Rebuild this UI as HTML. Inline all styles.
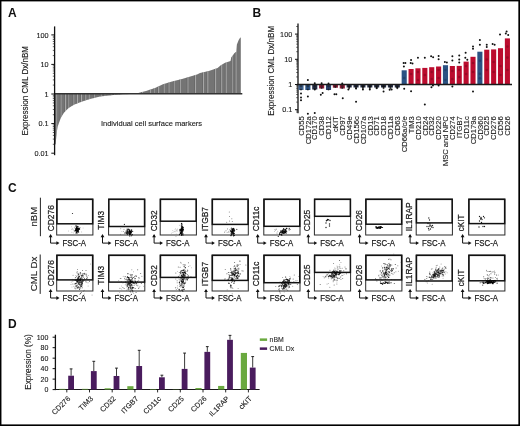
<!DOCTYPE html>
<html><head><meta charset="utf-8"><style>
html,body{margin:0;padding:0;background:#fff;}
body{width:520px;height:426px;overflow:hidden;position:relative;}
svg{position:absolute;left:0;top:0;font-family:"Liberation Sans", sans-serif;filter:blur(0.3px);}
text{stroke:#1a1a1a;stroke-width:0.12px;}
text.hv{stroke-width:0.25px;}
text.nb{stroke:none;}
</style></head><body>
<svg width="520" height="426" viewBox="0 0 520 426">
<rect x="0" y="0" width="520" height="426" fill="#fff"/>
<text x="8.00" y="17.20" font-size="12" text-anchor="start" font-weight="bold" fill="#111" class="nb">A</text>
<text x="252.60" y="17.20" font-size="12" text-anchor="start" font-weight="bold" fill="#111" class="nb">B</text>
<text x="8.00" y="192.40" font-size="12" text-anchor="start" font-weight="bold" fill="#111" class="nb">C</text>
<text x="8.00" y="327.60" font-size="12" text-anchor="start" font-weight="bold" fill="#111" class="nb">D</text>
<polygon points="55.0,93.8 55.0,144.5 55.6,144.2 56.3,136.5 57.0,130.8 57.7,126.6 58.7,123.8 60.6,118.2 64.1,112.5 68.3,108.3 73.9,104.8 79.6,102.4 85.2,100.6 90.0,98.9 100.0,96.6 113.5,95.0 123.0,94.2 130.0,93.9 130.0,93.8" fill="#747474"/>
<polygon points="135.0,93.8 136.0,93.8 140.0,92.5 146.0,91.0 155.0,88.0 163.0,84.3 172.0,81.5 182.0,79.0 197.0,74.5 200.0,72.9 208.8,71.1 217.6,68.1 220.2,65.8 224.6,62.9 230.5,61.1 231.3,57.6 234.3,53.2 236.3,51.8 236.9,44.4 238.7,40.0 240.1,37.7 240.8,37.5 240.8,93.8" fill="#747474"/>
<rect x="56.20" y="30" width="0.9" height="120" fill="#b8b8b8" opacity="0.68" clip-path="url(#clipA)"/>
<rect x="55.40" y="30" width="0.7" height="120" fill="#555" opacity="0.5" clip-path="url(#clipA)"/>
<rect x="60.56" y="30" width="0.9" height="120" fill="#b8b8b8" opacity="0.73" clip-path="url(#clipA)"/>
<rect x="59.76" y="30" width="0.7" height="120" fill="#555" opacity="0.5" clip-path="url(#clipA)"/>
<rect x="65.07" y="30" width="0.9" height="120" fill="#b8b8b8" opacity="0.82" clip-path="url(#clipA)"/>
<rect x="64.27" y="30" width="0.7" height="120" fill="#555" opacity="0.5" clip-path="url(#clipA)"/>
<rect x="68.23" y="30" width="0.9" height="120" fill="#b8b8b8" opacity="0.60" clip-path="url(#clipA)"/>
<rect x="67.43" y="30" width="0.7" height="120" fill="#555" opacity="0.5" clip-path="url(#clipA)"/>
<rect x="73.33" y="30" width="0.9" height="120" fill="#b8b8b8" opacity="0.69" clip-path="url(#clipA)"/>
<rect x="72.53" y="30" width="0.7" height="120" fill="#555" opacity="0.5" clip-path="url(#clipA)"/>
<rect x="76.91" y="30" width="0.9" height="120" fill="#b8b8b8" opacity="0.95" clip-path="url(#clipA)"/>
<rect x="76.11" y="30" width="0.7" height="120" fill="#555" opacity="0.5" clip-path="url(#clipA)"/>
<rect x="81.09" y="30" width="0.9" height="120" fill="#b8b8b8" opacity="0.89" clip-path="url(#clipA)"/>
<rect x="80.29" y="30" width="0.7" height="120" fill="#555" opacity="0.5" clip-path="url(#clipA)"/>
<rect x="85.28" y="30" width="0.9" height="120" fill="#b8b8b8" opacity="0.82" clip-path="url(#clipA)"/>
<rect x="84.48" y="30" width="0.7" height="120" fill="#555" opacity="0.5" clip-path="url(#clipA)"/>
<rect x="88.66" y="30" width="0.9" height="120" fill="#b8b8b8" opacity="0.82" clip-path="url(#clipA)"/>
<rect x="87.86" y="30" width="0.7" height="120" fill="#555" opacity="0.5" clip-path="url(#clipA)"/>
<rect x="93.83" y="30" width="0.9" height="120" fill="#b8b8b8" opacity="0.78" clip-path="url(#clipA)"/>
<rect x="93.03" y="30" width="0.7" height="120" fill="#555" opacity="0.5" clip-path="url(#clipA)"/>
<rect x="100.66" y="30" width="0.9" height="120" fill="#b8b8b8" opacity="0.83" clip-path="url(#clipA)"/>
<rect x="99.86" y="30" width="0.7" height="120" fill="#555" opacity="0.5" clip-path="url(#clipA)"/>
<rect x="104.45" y="30" width="0.9" height="120" fill="#b8b8b8" opacity="0.87" clip-path="url(#clipA)"/>
<rect x="103.65" y="30" width="0.7" height="120" fill="#555" opacity="0.5" clip-path="url(#clipA)"/>
<rect x="110.61" y="30" width="0.9" height="120" fill="#b8b8b8" opacity="0.71" clip-path="url(#clipA)"/>
<rect x="109.81" y="30" width="0.7" height="120" fill="#555" opacity="0.5" clip-path="url(#clipA)"/>
<rect x="114.25" y="30" width="0.9" height="120" fill="#b8b8b8" opacity="0.90" clip-path="url(#clipA)"/>
<rect x="113.45" y="30" width="0.7" height="120" fill="#555" opacity="0.5" clip-path="url(#clipA)"/>
<rect x="119.88" y="30" width="0.9" height="120" fill="#b8b8b8" opacity="0.85" clip-path="url(#clipA)"/>
<rect x="119.08" y="30" width="0.7" height="120" fill="#555" opacity="0.5" clip-path="url(#clipA)"/>
<rect x="127.33" y="30" width="0.9" height="120" fill="#b8b8b8" opacity="0.85" clip-path="url(#clipA)"/>
<rect x="126.53" y="30" width="0.7" height="120" fill="#555" opacity="0.5" clip-path="url(#clipA)"/>
<rect x="134.98" y="30" width="0.9" height="120" fill="#b8b8b8" opacity="0.74" clip-path="url(#clipA)"/>
<rect x="134.18" y="30" width="0.7" height="120" fill="#555" opacity="0.5" clip-path="url(#clipA)"/>
<rect x="142.08" y="30" width="0.9" height="120" fill="#b8b8b8" opacity="0.76" clip-path="url(#clipA)"/>
<rect x="141.28" y="30" width="0.7" height="120" fill="#555" opacity="0.5" clip-path="url(#clipA)"/>
<rect x="149.79" y="30" width="0.9" height="120" fill="#b8b8b8" opacity="0.91" clip-path="url(#clipA)"/>
<rect x="148.99" y="30" width="0.7" height="120" fill="#555" opacity="0.5" clip-path="url(#clipA)"/>
<rect x="153.73" y="30" width="0.9" height="120" fill="#b8b8b8" opacity="0.65" clip-path="url(#clipA)"/>
<rect x="152.93" y="30" width="0.7" height="120" fill="#555" opacity="0.5" clip-path="url(#clipA)"/>
<rect x="158.21" y="30" width="0.9" height="120" fill="#b8b8b8" opacity="0.94" clip-path="url(#clipA)"/>
<rect x="157.41" y="30" width="0.7" height="120" fill="#555" opacity="0.5" clip-path="url(#clipA)"/>
<rect x="163.67" y="30" width="0.9" height="120" fill="#b8b8b8" opacity="0.82" clip-path="url(#clipA)"/>
<rect x="162.87" y="30" width="0.7" height="120" fill="#555" opacity="0.5" clip-path="url(#clipA)"/>
<rect x="168.52" y="30" width="0.9" height="120" fill="#b8b8b8" opacity="0.78" clip-path="url(#clipA)"/>
<rect x="167.72" y="30" width="0.7" height="120" fill="#555" opacity="0.5" clip-path="url(#clipA)"/>
<rect x="173.76" y="30" width="0.9" height="120" fill="#b8b8b8" opacity="0.72" clip-path="url(#clipA)"/>
<rect x="172.96" y="30" width="0.7" height="120" fill="#555" opacity="0.5" clip-path="url(#clipA)"/>
<rect x="179.89" y="30" width="0.9" height="120" fill="#b8b8b8" opacity="0.80" clip-path="url(#clipA)"/>
<rect x="179.09" y="30" width="0.7" height="120" fill="#555" opacity="0.5" clip-path="url(#clipA)"/>
<rect x="187.46" y="30" width="0.9" height="120" fill="#b8b8b8" opacity="0.84" clip-path="url(#clipA)"/>
<rect x="186.66" y="30" width="0.7" height="120" fill="#555" opacity="0.5" clip-path="url(#clipA)"/>
<rect x="195.14" y="30" width="0.9" height="120" fill="#b8b8b8" opacity="0.90" clip-path="url(#clipA)"/>
<rect x="194.34" y="30" width="0.7" height="120" fill="#555" opacity="0.5" clip-path="url(#clipA)"/>
<rect x="203.10" y="30" width="0.9" height="120" fill="#b8b8b8" opacity="0.83" clip-path="url(#clipA)"/>
<rect x="202.30" y="30" width="0.7" height="120" fill="#555" opacity="0.5" clip-path="url(#clipA)"/>
<rect x="207.34" y="30" width="0.9" height="120" fill="#b8b8b8" opacity="0.90" clip-path="url(#clipA)"/>
<rect x="206.54" y="30" width="0.7" height="120" fill="#555" opacity="0.5" clip-path="url(#clipA)"/>
<rect x="215.18" y="30" width="0.9" height="120" fill="#b8b8b8" opacity="0.92" clip-path="url(#clipA)"/>
<rect x="214.38" y="30" width="0.7" height="120" fill="#555" opacity="0.5" clip-path="url(#clipA)"/>
<rect x="221.24" y="30" width="0.9" height="120" fill="#b8b8b8" opacity="0.85" clip-path="url(#clipA)"/>
<rect x="220.44" y="30" width="0.7" height="120" fill="#555" opacity="0.5" clip-path="url(#clipA)"/>
<rect x="225.69" y="30" width="0.9" height="120" fill="#b8b8b8" opacity="0.89" clip-path="url(#clipA)"/>
<rect x="224.89" y="30" width="0.7" height="120" fill="#555" opacity="0.5" clip-path="url(#clipA)"/>
<rect x="231.77" y="30" width="0.9" height="120" fill="#b8b8b8" opacity="0.70" clip-path="url(#clipA)"/>
<rect x="230.97" y="30" width="0.7" height="120" fill="#555" opacity="0.5" clip-path="url(#clipA)"/>
<rect x="235.55" y="30" width="0.9" height="120" fill="#b8b8b8" opacity="0.90" clip-path="url(#clipA)"/>
<rect x="234.75" y="30" width="0.7" height="120" fill="#555" opacity="0.5" clip-path="url(#clipA)"/>
<defs><clipPath id="clipA"><polygon points="55.0,93.8 55.0,144.5 55.6,144.2 56.3,136.5 57.0,130.8 57.7,126.6 58.7,123.8 60.6,118.2 64.1,112.5 68.3,108.3 73.9,104.8 79.6,102.4 85.2,100.6 90.0,98.9 100.0,96.6 113.5,95.0 123.0,94.2 130.0,93.9 130.0,93.8 135.0,93.8 136.0,93.8 140.0,92.5 146.0,91.0 155.0,88.0 163.0,84.3 172.0,81.5 182.0,79.0 197.0,74.5 200.0,72.9 208.8,71.1 217.6,68.1 220.2,65.8 224.6,62.9 230.5,61.1 231.3,57.6 234.3,53.2 236.3,51.8 236.9,44.4 238.7,40.0 240.1,37.7 240.8,37.5 240.8,93.8"/></clipPath></defs>
<line x1="54.00" y1="93.80" x2="242.30" y2="93.80" stroke="#333" stroke-width="1.5"/>
<line x1="54.60" y1="26.40" x2="54.60" y2="155.20" stroke="#111" stroke-width="1.3"/>
<line x1="51.30" y1="34.90" x2="54.60" y2="34.90" stroke="#111" stroke-width="1.0"/>
<line x1="51.30" y1="64.40" x2="54.60" y2="64.40" stroke="#111" stroke-width="1.0"/>
<line x1="51.30" y1="94.00" x2="54.60" y2="94.00" stroke="#111" stroke-width="1.0"/>
<line x1="51.30" y1="123.60" x2="54.60" y2="123.60" stroke="#111" stroke-width="1.0"/>
<line x1="51.30" y1="153.20" x2="54.60" y2="153.20" stroke="#111" stroke-width="1.0"/>
<line x1="52.80" y1="55.59" x2="54.60" y2="55.59" stroke="#222" stroke-width="0.7"/>
<line x1="52.80" y1="50.38" x2="54.60" y2="50.38" stroke="#222" stroke-width="0.7"/>
<line x1="52.80" y1="46.68" x2="54.60" y2="46.68" stroke="#222" stroke-width="0.7"/>
<line x1="52.80" y1="43.81" x2="54.60" y2="43.81" stroke="#222" stroke-width="0.7"/>
<line x1="52.80" y1="41.47" x2="54.60" y2="41.47" stroke="#222" stroke-width="0.7"/>
<line x1="52.80" y1="39.49" x2="54.60" y2="39.49" stroke="#222" stroke-width="0.7"/>
<line x1="52.80" y1="37.77" x2="54.60" y2="37.77" stroke="#222" stroke-width="0.7"/>
<line x1="52.80" y1="36.25" x2="54.60" y2="36.25" stroke="#222" stroke-width="0.7"/>
<line x1="52.80" y1="85.09" x2="54.60" y2="85.09" stroke="#222" stroke-width="0.7"/>
<line x1="52.80" y1="79.88" x2="54.60" y2="79.88" stroke="#222" stroke-width="0.7"/>
<line x1="52.80" y1="76.18" x2="54.60" y2="76.18" stroke="#222" stroke-width="0.7"/>
<line x1="52.80" y1="73.31" x2="54.60" y2="73.31" stroke="#222" stroke-width="0.7"/>
<line x1="52.80" y1="70.97" x2="54.60" y2="70.97" stroke="#222" stroke-width="0.7"/>
<line x1="52.80" y1="68.99" x2="54.60" y2="68.99" stroke="#222" stroke-width="0.7"/>
<line x1="52.80" y1="67.27" x2="54.60" y2="67.27" stroke="#222" stroke-width="0.7"/>
<line x1="52.80" y1="65.75" x2="54.60" y2="65.75" stroke="#222" stroke-width="0.7"/>
<line x1="52.80" y1="114.69" x2="54.60" y2="114.69" stroke="#222" stroke-width="0.7"/>
<line x1="52.80" y1="109.48" x2="54.60" y2="109.48" stroke="#222" stroke-width="0.7"/>
<line x1="52.80" y1="105.78" x2="54.60" y2="105.78" stroke="#222" stroke-width="0.7"/>
<line x1="52.80" y1="102.91" x2="54.60" y2="102.91" stroke="#222" stroke-width="0.7"/>
<line x1="52.80" y1="100.57" x2="54.60" y2="100.57" stroke="#222" stroke-width="0.7"/>
<line x1="52.80" y1="98.59" x2="54.60" y2="98.59" stroke="#222" stroke-width="0.7"/>
<line x1="52.80" y1="96.87" x2="54.60" y2="96.87" stroke="#222" stroke-width="0.7"/>
<line x1="52.80" y1="95.35" x2="54.60" y2="95.35" stroke="#222" stroke-width="0.7"/>
<line x1="52.80" y1="144.29" x2="54.60" y2="144.29" stroke="#222" stroke-width="0.7"/>
<line x1="52.80" y1="139.08" x2="54.60" y2="139.08" stroke="#222" stroke-width="0.7"/>
<line x1="52.80" y1="135.38" x2="54.60" y2="135.38" stroke="#222" stroke-width="0.7"/>
<line x1="52.80" y1="132.51" x2="54.60" y2="132.51" stroke="#222" stroke-width="0.7"/>
<line x1="52.80" y1="130.17" x2="54.60" y2="130.17" stroke="#222" stroke-width="0.7"/>
<line x1="52.80" y1="128.19" x2="54.60" y2="128.19" stroke="#222" stroke-width="0.7"/>
<line x1="52.80" y1="126.47" x2="54.60" y2="126.47" stroke="#222" stroke-width="0.7"/>
<line x1="52.80" y1="124.95" x2="54.60" y2="124.95" stroke="#222" stroke-width="0.7"/>
<text x="48.60" y="37.70" font-size="7.3" text-anchor="end" font-weight="normal" fill="#222">100</text>
<text x="48.60" y="67.20" font-size="7.3" text-anchor="end" font-weight="normal" fill="#222">10</text>
<text x="48.60" y="96.80" font-size="7.3" text-anchor="end" font-weight="normal" fill="#222">1</text>
<text x="48.60" y="126.40" font-size="7.3" text-anchor="end" font-weight="normal" fill="#222">0.1</text>
<text x="48.60" y="156.00" font-size="7.3" text-anchor="end" font-weight="normal" fill="#222">0.01</text>
<text transform="translate(27.80,90.70) rotate(-90)" font-size="9.6" text-anchor="middle" font-weight="normal" fill="#222" textLength="89.5" lengthAdjust="spacingAndGlyphs">Expression CML Dx/nBM</text>
<text x="151.50" y="126.00" font-size="8.1" text-anchor="middle" font-weight="normal" fill="#222" textLength="101.2" lengthAdjust="spacingAndGlyphs">Individual cell surface markers</text>
<line x1="298.00" y1="23.40" x2="298.00" y2="113.30" stroke="#111" stroke-width="1.3"/>
<line x1="295.00" y1="34.10" x2="298.00" y2="34.10" stroke="#111" stroke-width="1.0"/>
<line x1="295.00" y1="59.30" x2="298.00" y2="59.30" stroke="#111" stroke-width="1.0"/>
<line x1="295.00" y1="84.50" x2="298.00" y2="84.50" stroke="#111" stroke-width="1.0"/>
<line x1="295.00" y1="109.70" x2="298.00" y2="109.70" stroke="#111" stroke-width="1.0"/>
<line x1="296.20" y1="51.71" x2="298.00" y2="51.71" stroke="#222" stroke-width="0.7"/>
<line x1="296.20" y1="47.28" x2="298.00" y2="47.28" stroke="#222" stroke-width="0.7"/>
<line x1="296.20" y1="44.13" x2="298.00" y2="44.13" stroke="#222" stroke-width="0.7"/>
<line x1="296.20" y1="41.69" x2="298.00" y2="41.69" stroke="#222" stroke-width="0.7"/>
<line x1="296.20" y1="39.69" x2="298.00" y2="39.69" stroke="#222" stroke-width="0.7"/>
<line x1="296.20" y1="38.00" x2="298.00" y2="38.00" stroke="#222" stroke-width="0.7"/>
<line x1="296.20" y1="36.54" x2="298.00" y2="36.54" stroke="#222" stroke-width="0.7"/>
<line x1="296.20" y1="35.25" x2="298.00" y2="35.25" stroke="#222" stroke-width="0.7"/>
<line x1="296.20" y1="76.91" x2="298.00" y2="76.91" stroke="#222" stroke-width="0.7"/>
<line x1="296.20" y1="72.48" x2="298.00" y2="72.48" stroke="#222" stroke-width="0.7"/>
<line x1="296.20" y1="69.33" x2="298.00" y2="69.33" stroke="#222" stroke-width="0.7"/>
<line x1="296.20" y1="66.89" x2="298.00" y2="66.89" stroke="#222" stroke-width="0.7"/>
<line x1="296.20" y1="64.89" x2="298.00" y2="64.89" stroke="#222" stroke-width="0.7"/>
<line x1="296.20" y1="63.20" x2="298.00" y2="63.20" stroke="#222" stroke-width="0.7"/>
<line x1="296.20" y1="61.74" x2="298.00" y2="61.74" stroke="#222" stroke-width="0.7"/>
<line x1="296.20" y1="60.45" x2="298.00" y2="60.45" stroke="#222" stroke-width="0.7"/>
<line x1="296.20" y1="102.11" x2="298.00" y2="102.11" stroke="#222" stroke-width="0.7"/>
<line x1="296.20" y1="97.68" x2="298.00" y2="97.68" stroke="#222" stroke-width="0.7"/>
<line x1="296.20" y1="94.53" x2="298.00" y2="94.53" stroke="#222" stroke-width="0.7"/>
<line x1="296.20" y1="92.09" x2="298.00" y2="92.09" stroke="#222" stroke-width="0.7"/>
<line x1="296.20" y1="90.09" x2="298.00" y2="90.09" stroke="#222" stroke-width="0.7"/>
<line x1="296.20" y1="88.40" x2="298.00" y2="88.40" stroke="#222" stroke-width="0.7"/>
<line x1="296.20" y1="86.94" x2="298.00" y2="86.94" stroke="#222" stroke-width="0.7"/>
<line x1="296.20" y1="85.65" x2="298.00" y2="85.65" stroke="#222" stroke-width="0.7"/>
<line x1="296.20" y1="26.51" x2="298.00" y2="26.51" stroke="#222" stroke-width="0.7"/>
<line x1="296.20" y1="112.14" x2="298.00" y2="112.14" stroke="#222" stroke-width="0.7"/>
<line x1="296.20" y1="110.85" x2="298.00" y2="110.85" stroke="#222" stroke-width="0.7"/>
<text x="292.30" y="36.70" font-size="7.3" text-anchor="end" font-weight="normal" fill="#222">100</text>
<text x="292.30" y="61.90" font-size="7.3" text-anchor="end" font-weight="normal" fill="#222">10</text>
<text x="292.30" y="87.10" font-size="7.3" text-anchor="end" font-weight="normal" fill="#222">1</text>
<text x="292.30" y="112.30" font-size="7.3" text-anchor="end" font-weight="normal" fill="#222">0.1</text>
<text transform="translate(273.90,70.80) rotate(-90)" font-size="9.6" text-anchor="middle" font-weight="normal" fill="#222" textLength="89.8" lengthAdjust="spacingAndGlyphs">Expression CML Dx/nBM</text>
<rect x="298.45" y="84.50" width="5.10" height="5.50" fill="#3f6290"/>
<circle cx="301.00" cy="93.60" r="1.0" fill="#111"/>
<circle cx="301.00" cy="97.60" r="1.0" fill="#111"/>
<circle cx="301.00" cy="100.20" r="1.0" fill="#111"/>
<circle cx="301.00" cy="86.30" r="1.2" fill="#111" opacity="0.5"/>
<circle cx="301.00" cy="89.40" r="1.0" fill="#111" opacity="0.7"/>
<text transform="translate(303.70,116.30) rotate(-90)" font-size="7.6" text-anchor="end" font-weight="normal" fill="#222">CD55</text>
<rect x="305.33" y="84.50" width="5.10" height="5.50" fill="#2b5283"/>
<circle cx="307.88" cy="79.90" r="1.0" fill="#111"/>
<circle cx="307.88" cy="96.60" r="1.0" fill="#111"/>
<circle cx="307.88" cy="113.70" r="1.0" fill="#111"/>
<circle cx="307.88" cy="86.30" r="1.2" fill="#111" opacity="0.5"/>
<circle cx="307.88" cy="89.40" r="1.0" fill="#111" opacity="0.7"/>
<text transform="translate(310.58,116.30) rotate(-90)" font-size="7.6" text-anchor="end" font-weight="normal" fill="#222">CD172a</text>
<rect x="312.21" y="84.50" width="5.10" height="5.00" fill="#232c45"/>
<circle cx="314.76" cy="83.30" r="1.0" fill="#111"/>
<circle cx="314.76" cy="113.00" r="1.0" fill="#111"/>
<circle cx="314.76" cy="89.60" r="1.0" fill="#111"/>
<circle cx="314.76" cy="86.30" r="1.2" fill="#111" opacity="0.5"/>
<circle cx="314.76" cy="88.90" r="1.0" fill="#111" opacity="0.7"/>
<text transform="translate(317.46,116.30) rotate(-90)" font-size="7.6" text-anchor="end" font-weight="normal" fill="#222">CD170</text>
<rect x="319.09" y="84.50" width="5.10" height="4.00" fill="#951836"/>
<circle cx="320.84" cy="94.70" r="1.0" fill="#111"/>
<circle cx="322.64" cy="93.10" r="1.0" fill="#111"/>
<circle cx="321.64" cy="83.30" r="1.0" fill="#111"/>
<circle cx="321.64" cy="86.30" r="1.2" fill="#111" opacity="0.5"/>
<circle cx="321.64" cy="87.90" r="1.0" fill="#111" opacity="0.7"/>
<text transform="translate(324.34,116.30) rotate(-90)" font-size="7.6" text-anchor="end" font-weight="normal" fill="#222">CD38</text>
<rect x="325.97" y="84.50" width="5.10" height="5.50" fill="#2c426c"/>
<circle cx="328.52" cy="83.50" r="1.0" fill="#111"/>
<circle cx="328.52" cy="86.30" r="1.2" fill="#111" opacity="0.5"/>
<circle cx="328.52" cy="89.40" r="1.0" fill="#111" opacity="0.7"/>
<text transform="translate(331.22,116.30) rotate(-90)" font-size="7.6" text-anchor="end" font-weight="normal" fill="#222">CD112</text>
<rect x="332.85" y="84.50" width="5.10" height="3.20" fill="#8e1a36"/>
<circle cx="334.50" cy="94.30" r="1.0" fill="#111"/>
<circle cx="336.30" cy="94.30" r="1.0" fill="#111"/>
<circle cx="335.40" cy="86.30" r="1.2" fill="#111" opacity="0.5"/>
<circle cx="335.40" cy="87.10" r="1.0" fill="#111" opacity="0.7"/>
<text transform="translate(338.10,116.30) rotate(-90)" font-size="7.6" text-anchor="end" font-weight="normal" fill="#222">cKIT</text>
<rect x="339.73" y="84.50" width="5.10" height="4.00" fill="#8e1a36"/>
<circle cx="342.78" cy="98.30" r="1.0" fill="#111"/>
<circle cx="342.28" cy="83.50" r="1.0" fill="#111"/>
<circle cx="342.28" cy="86.30" r="1.2" fill="#111" opacity="0.5"/>
<circle cx="342.28" cy="87.90" r="1.0" fill="#111" opacity="0.7"/>
<text transform="translate(344.98,116.30) rotate(-90)" font-size="7.6" text-anchor="end" font-weight="normal" fill="#222">CD97</text>
<rect x="346.61" y="84.50" width="5.10" height="3.00" fill="#232c45"/>
<circle cx="348.36" cy="89.60" r="1.0" fill="#111"/>
<circle cx="349.16" cy="86.50" r="1.0" fill="#111"/>
<circle cx="349.16" cy="86.30" r="1.2" fill="#111" opacity="0.5"/>
<circle cx="349.16" cy="86.90" r="1.0" fill="#111" opacity="0.7"/>
<circle cx="349.16" cy="88.30" r="0.9" fill="#111" opacity="0.8"/>
<text transform="translate(351.86,116.30) rotate(-90)" font-size="7.6" text-anchor="end" font-weight="normal" fill="#222">CD49e</text>
<rect x="353.49" y="84.50" width="5.10" height="3.00" fill="#232c45"/>
<circle cx="356.04" cy="88.60" r="1.0" fill="#111"/>
<circle cx="356.04" cy="101.80" r="1.0" fill="#111"/>
<circle cx="356.04" cy="86.30" r="1.2" fill="#111" opacity="0.5"/>
<circle cx="356.04" cy="86.90" r="1.0" fill="#111" opacity="0.7"/>
<circle cx="356.04" cy="88.30" r="0.9" fill="#111" opacity="0.8"/>
<text transform="translate(358.74,116.30) rotate(-90)" font-size="7.6" text-anchor="end" font-weight="normal" fill="#222">CD156c</text>
<rect x="360.37" y="84.50" width="5.10" height="3.00" fill="#232c45"/>
<circle cx="362.92" cy="89.60" r="1.0" fill="#111"/>
<circle cx="362.92" cy="86.50" r="1.0" fill="#111"/>
<circle cx="362.92" cy="86.30" r="1.2" fill="#111" opacity="0.5"/>
<circle cx="362.92" cy="86.90" r="1.0" fill="#111" opacity="0.7"/>
<circle cx="362.92" cy="88.30" r="0.9" fill="#111" opacity="0.8"/>
<text transform="translate(365.62,116.30) rotate(-90)" font-size="7.6" text-anchor="end" font-weight="normal" fill="#222">CD107a</text>
<rect x="367.25" y="84.50" width="5.10" height="3.00" fill="#232c45"/>
<circle cx="369.80" cy="89.60" r="1.0" fill="#111"/>
<circle cx="369.80" cy="86.50" r="1.0" fill="#111"/>
<circle cx="369.80" cy="86.30" r="1.2" fill="#111" opacity="0.5"/>
<circle cx="369.80" cy="86.90" r="1.0" fill="#111" opacity="0.7"/>
<circle cx="369.80" cy="88.30" r="0.9" fill="#111" opacity="0.8"/>
<text transform="translate(372.50,116.30) rotate(-90)" font-size="7.6" text-anchor="end" font-weight="normal" fill="#222">CD13</text>
<rect x="374.13" y="84.50" width="5.10" height="3.00" fill="#232c45"/>
<circle cx="376.68" cy="88.00" r="1.0" fill="#111"/>
<circle cx="376.68" cy="86.30" r="1.2" fill="#111" opacity="0.5"/>
<circle cx="376.68" cy="86.90" r="1.0" fill="#111" opacity="0.7"/>
<circle cx="376.68" cy="88.30" r="0.9" fill="#111" opacity="0.8"/>
<text transform="translate(379.38,116.30) rotate(-90)" font-size="7.6" text-anchor="end" font-weight="normal" fill="#222">CD71</text>
<rect x="381.01" y="84.50" width="5.10" height="3.00" fill="#232c45"/>
<circle cx="383.56" cy="91.50" r="1.0" fill="#111"/>
<circle cx="383.56" cy="86.50" r="1.0" fill="#111"/>
<circle cx="383.56" cy="86.30" r="1.2" fill="#111" opacity="0.5"/>
<circle cx="383.56" cy="86.90" r="1.0" fill="#111" opacity="0.7"/>
<circle cx="383.56" cy="88.30" r="0.9" fill="#111" opacity="0.8"/>
<text transform="translate(386.26,116.30) rotate(-90)" font-size="7.6" text-anchor="end" font-weight="normal" fill="#222">CD18</text>
<rect x="387.89" y="84.50" width="5.10" height="3.00" fill="#232c45"/>
<circle cx="389.64" cy="89.80" r="1.0" fill="#111"/>
<circle cx="391.64" cy="89.40" r="1.0" fill="#111"/>
<circle cx="390.44" cy="86.30" r="1.2" fill="#111" opacity="0.5"/>
<circle cx="390.44" cy="86.90" r="1.0" fill="#111" opacity="0.7"/>
<circle cx="390.44" cy="88.30" r="0.9" fill="#111" opacity="0.8"/>
<text transform="translate(393.14,116.30) rotate(-90)" font-size="7.6" text-anchor="end" font-weight="normal" fill="#222">CD11a</text>
<rect x="394.77" y="84.50" width="5.10" height="3.00" fill="#232c45"/>
<circle cx="397.32" cy="87.50" r="1.0" fill="#111"/>
<circle cx="397.32" cy="86.30" r="1.2" fill="#111" opacity="0.5"/>
<circle cx="397.32" cy="86.90" r="1.0" fill="#111" opacity="0.7"/>
<circle cx="397.32" cy="88.30" r="0.9" fill="#111" opacity="0.8"/>
<text transform="translate(400.02,116.30) rotate(-90)" font-size="7.6" text-anchor="end" font-weight="normal" fill="#222">CD63</text>
<rect x="401.65" y="70.30" width="5.10" height="14.20" fill="#2b5283"/>
<circle cx="403.60" cy="63.00" r="1.0" fill="#111"/>
<circle cx="405.40" cy="63.00" r="1.0" fill="#111"/>
<circle cx="403.90" cy="66.60" r="1.0" fill="#111"/>
<circle cx="404.20" cy="88.70" r="1.0" fill="#111"/>
<text transform="translate(406.90,116.30) rotate(-90)" font-size="7.6" text-anchor="end" font-weight="normal" fill="#222">CD66a/c/e</text>
<rect x="408.53" y="69.00" width="5.10" height="15.50" fill="#bb0c2e"/>
<circle cx="411.08" cy="60.10" r="1.0" fill="#111"/>
<circle cx="410.68" cy="63.00" r="1.0" fill="#111"/>
<circle cx="412.48" cy="63.50" r="1.0" fill="#111"/>
<circle cx="411.08" cy="91.30" r="1.0" fill="#111"/>
<text transform="translate(413.78,116.30) rotate(-90)" font-size="7.6" text-anchor="end" font-weight="normal" fill="#222">TIM3</text>
<rect x="415.41" y="68.30" width="5.10" height="16.20" fill="#bb0c2e"/>
<circle cx="417.96" cy="57.70" r="1.0" fill="#111"/>
<text transform="translate(420.66,116.30) rotate(-90)" font-size="7.6" text-anchor="end" font-weight="normal" fill="#222">CD210</text>
<rect x="422.29" y="67.90" width="5.10" height="16.60" fill="#bb0c2e"/>
<circle cx="424.84" cy="57.70" r="1.0" fill="#111"/>
<circle cx="424.84" cy="104.60" r="1.0" fill="#111"/>
<text transform="translate(427.54,116.30) rotate(-90)" font-size="7.6" text-anchor="end" font-weight="normal" fill="#222">CD24</text>
<rect x="429.17" y="67.20" width="5.10" height="17.30" fill="#bb0c2e"/>
<circle cx="431.12" cy="56.30" r="1.0" fill="#111"/>
<circle cx="433.12" cy="57.30" r="1.0" fill="#111"/>
<circle cx="431.42" cy="87.30" r="1.0" fill="#111"/>
<circle cx="432.92" cy="85.50" r="1.0" fill="#111"/>
<text transform="translate(434.42,116.30) rotate(-90)" font-size="7.6" text-anchor="end" font-weight="normal" fill="#222">CD32</text>
<rect x="436.05" y="66.50" width="5.10" height="18.00" fill="#bb0c2e"/>
<circle cx="438.60" cy="55.90" r="1.0" fill="#111"/>
<circle cx="438.60" cy="59.20" r="1.0" fill="#111"/>
<circle cx="438.60" cy="85.50" r="1.0" fill="#111"/>
<text transform="translate(441.30,116.30) rotate(-90)" font-size="7.6" text-anchor="end" font-weight="normal" fill="#222">CD220</text>
<rect x="442.93" y="65.20" width="5.10" height="19.30" fill="#2b5283"/>
<circle cx="444.88" cy="62.00" r="1.0" fill="#111"/>
<circle cx="446.88" cy="62.50" r="1.0" fill="#111"/>
<text transform="translate(448.18,116.30) rotate(-90)" font-size="7.6" text-anchor="end" font-weight="normal" fill="#222">MSC and NPC</text>
<rect x="449.81" y="66.00" width="5.10" height="18.50" fill="#bb0c2e"/>
<circle cx="452.36" cy="56.20" r="1.0" fill="#111"/>
<circle cx="452.36" cy="60.40" r="1.0" fill="#111"/>
<circle cx="452.36" cy="86.60" r="1.0" fill="#111"/>
<text transform="translate(455.06,116.30) rotate(-90)" font-size="7.6" text-anchor="end" font-weight="normal" fill="#222">CD274</text>
<rect x="456.69" y="65.90" width="5.10" height="18.60" fill="#bb0c2e"/>
<circle cx="459.24" cy="55.50" r="1.0" fill="#111"/>
<circle cx="459.24" cy="59.40" r="1.0" fill="#111"/>
<circle cx="459.24" cy="62.40" r="1.0" fill="#111"/>
<text transform="translate(461.94,116.30) rotate(-90)" font-size="7.6" text-anchor="end" font-weight="normal" fill="#222">ITGB7</text>
<rect x="463.57" y="61.60" width="5.10" height="22.90" fill="#bb0c2e"/>
<circle cx="465.62" cy="52.80" r="1.0" fill="#111"/>
<circle cx="465.32" cy="57.80" r="1.0" fill="#111"/>
<circle cx="467.32" cy="59.80" r="1.0" fill="#111"/>
<text transform="translate(468.82,116.30) rotate(-90)" font-size="7.6" text-anchor="end" font-weight="normal" fill="#222">CD11c</text>
<rect x="470.45" y="56.80" width="5.10" height="27.70" fill="#bb0c2e"/>
<circle cx="473.00" cy="46.40" r="1.0" fill="#111"/>
<circle cx="473.00" cy="48.70" r="1.0" fill="#111"/>
<circle cx="473.00" cy="91.50" r="1.0" fill="#111"/>
<text transform="translate(475.70,116.30) rotate(-90)" font-size="7.6" text-anchor="end" font-weight="normal" fill="#222">CD179a</text>
<rect x="477.33" y="51.70" width="5.10" height="32.80" fill="#2b5283"/>
<circle cx="479.88" cy="40.00" r="1.0" fill="#111"/>
<circle cx="479.88" cy="44.80" r="1.0" fill="#111"/>
<text transform="translate(482.58,116.30) rotate(-90)" font-size="7.6" text-anchor="end" font-weight="normal" fill="#222">CD360</text>
<rect x="484.21" y="49.70" width="5.10" height="34.80" fill="#bb0c2e"/>
<circle cx="486.76" cy="44.80" r="1.0" fill="#111"/>
<circle cx="486.76" cy="47.10" r="1.0" fill="#111"/>
<text transform="translate(489.46,116.30) rotate(-90)" font-size="7.6" text-anchor="end" font-weight="normal" fill="#222">CD25</text>
<rect x="491.09" y="49.40" width="5.10" height="35.10" fill="#bb0c2e"/>
<circle cx="492.64" cy="44.00" r="1.0" fill="#111"/>
<circle cx="494.64" cy="44.80" r="1.0" fill="#111"/>
<text transform="translate(496.34,116.30) rotate(-90)" font-size="7.6" text-anchor="end" font-weight="normal" fill="#222">CD276</text>
<rect x="497.97" y="48.20" width="5.10" height="36.30" fill="#bb0c2e"/>
<circle cx="500.02" cy="34.60" r="1.0" fill="#111"/>
<text transform="translate(503.22,116.30) rotate(-90)" font-size="7.6" text-anchor="end" font-weight="normal" fill="#222">CD56</text>
<rect x="504.85" y="38.40" width="5.10" height="46.10" fill="#bb0c2e"/>
<circle cx="506.60" cy="31.40" r="1.0" fill="#111"/>
<circle cx="505.80" cy="33.40" r="1.0" fill="#111"/>
<circle cx="508.20" cy="34.90" r="1.0" fill="#111"/>
<text transform="translate(510.10,116.30) rotate(-90)" font-size="7.6" text-anchor="end" font-weight="normal" fill="#222">CD26</text>
<circle cx="404.20" cy="78.00" r="1.3" fill="#000" opacity="0.18"/>
<circle cx="411.08" cy="74.00" r="1.3" fill="#000" opacity="0.18"/>
<circle cx="417.96" cy="72.00" r="1.3" fill="#000" opacity="0.18"/>
<circle cx="417.96" cy="80.00" r="1.3" fill="#000" opacity="0.18"/>
<circle cx="424.84" cy="75.00" r="1.3" fill="#000" opacity="0.18"/>
<circle cx="431.72" cy="72.00" r="1.3" fill="#000" opacity="0.18"/>
<circle cx="431.72" cy="79.00" r="1.3" fill="#000" opacity="0.18"/>
<circle cx="438.60" cy="70.00" r="1.3" fill="#000" opacity="0.18"/>
<circle cx="438.60" cy="78.00" r="1.3" fill="#000" opacity="0.18"/>
<circle cx="445.48" cy="70.00" r="1.3" fill="#000" opacity="0.18"/>
<circle cx="445.48" cy="80.00" r="1.3" fill="#000" opacity="0.18"/>
<circle cx="452.36" cy="71.00" r="1.3" fill="#000" opacity="0.18"/>
<circle cx="452.36" cy="79.00" r="1.3" fill="#000" opacity="0.18"/>
<circle cx="459.24" cy="70.00" r="1.3" fill="#000" opacity="0.18"/>
<circle cx="459.24" cy="77.00" r="1.3" fill="#000" opacity="0.18"/>
<circle cx="466.12" cy="66.00" r="1.3" fill="#000" opacity="0.18"/>
<circle cx="466.12" cy="74.00" r="1.3" fill="#000" opacity="0.18"/>
<circle cx="473.00" cy="63.00" r="1.3" fill="#000" opacity="0.18"/>
<circle cx="473.00" cy="72.00" r="1.3" fill="#000" opacity="0.18"/>
<circle cx="479.88" cy="60.80" r="1.3" fill="#000" opacity="0.18"/>
<circle cx="479.88" cy="73.70" r="1.3" fill="#000" opacity="0.18"/>
<circle cx="479.88" cy="78.20" r="1.3" fill="#000" opacity="0.18"/>
<circle cx="486.76" cy="59.50" r="1.3" fill="#000" opacity="0.18"/>
<circle cx="486.76" cy="70.00" r="1.3" fill="#000" opacity="0.18"/>
<circle cx="493.64" cy="62.00" r="1.3" fill="#000" opacity="0.18"/>
<circle cx="493.64" cy="72.00" r="1.3" fill="#000" opacity="0.18"/>
<circle cx="500.52" cy="66.00" r="1.3" fill="#000" opacity="0.18"/>
<circle cx="500.52" cy="75.00" r="1.3" fill="#000" opacity="0.18"/>
<circle cx="507.40" cy="46.60" r="1.3" fill="#000" opacity="0.18"/>
<circle cx="507.40" cy="57.60" r="1.3" fill="#000" opacity="0.18"/>
<circle cx="507.40" cy="70.00" r="1.3" fill="#000" opacity="0.18"/>
<line x1="297.00" y1="84.50" x2="512.00" y2="84.50" stroke="#1a1a1a" stroke-width="1.3"/>
<rect x="56.70" y="199.10" width="36.20" height="35.90" fill="none" stroke="#2a2a2a" stroke-width="1.0"/>
<rect x="56.95" y="199.35" width="35.70" height="24.45" fill="none" stroke="#111" stroke-width="1.5"/>
<text transform="translate(53.70,231.30) rotate(-90)" font-size="9.6" text-anchor="start" font-weight="normal" fill="#222" textLength="26.1" lengthAdjust="spacingAndGlyphs" class="hv">CD276</text>
<path d="M50.60,235.10 L50.60,243.10 L57.20,243.10" fill="none" stroke="#111" stroke-width="1.0"/>
<path d="M48.70,237.20 L50.60,234.00 L52.50,237.20 Z" fill="#111"/>
<path d="M56.40,241.20 L59.50,243.10 L56.40,245.00 Z" fill="#111"/>
<text x="62.60" y="245.90" font-size="9.6" text-anchor="start" font-weight="normal" fill="#222" textLength="23.4" lengthAdjust="spacingAndGlyphs" class="hv">FSC-A</text>
<rect x="108.60" y="199.10" width="36.20" height="35.90" fill="none" stroke="#2a2a2a" stroke-width="1.0"/>
<rect x="108.85" y="199.35" width="35.70" height="27.15" fill="none" stroke="#111" stroke-width="1.5"/>
<text transform="translate(103.60,229.80) rotate(-90)" font-size="9.6" text-anchor="start" font-weight="normal" fill="#222" textLength="18.9" lengthAdjust="spacingAndGlyphs" class="hv">TIM3</text>
<path d="M102.50,235.10 L102.50,243.10 L109.10,243.10" fill="none" stroke="#111" stroke-width="1.0"/>
<path d="M100.60,237.20 L102.50,234.00 L104.40,237.20 Z" fill="#111"/>
<path d="M108.30,241.20 L111.40,243.10 L108.30,245.00 Z" fill="#111"/>
<text x="114.50" y="245.90" font-size="9.6" text-anchor="start" font-weight="normal" fill="#222" textLength="23.4" lengthAdjust="spacingAndGlyphs" class="hv">FSC-A</text>
<rect x="160.20" y="199.10" width="36.20" height="35.90" fill="none" stroke="#2a2a2a" stroke-width="1.0"/>
<rect x="160.45" y="199.35" width="35.70" height="21.85" fill="none" stroke="#111" stroke-width="1.5"/>
<text transform="translate(156.70,231.30) rotate(-90)" font-size="9.6" text-anchor="start" font-weight="normal" fill="#222" textLength="20.9" lengthAdjust="spacingAndGlyphs" class="hv">CD32</text>
<path d="M154.10,235.10 L154.10,243.10 L160.70,243.10" fill="none" stroke="#111" stroke-width="1.0"/>
<path d="M152.20,237.20 L154.10,234.00 L156.00,237.20 Z" fill="#111"/>
<path d="M159.90,241.20 L163.00,243.10 L159.90,245.00 Z" fill="#111"/>
<text x="166.10" y="245.90" font-size="9.6" text-anchor="start" font-weight="normal" fill="#222" textLength="23.4" lengthAdjust="spacingAndGlyphs" class="hv">FSC-A</text>
<rect x="212.10" y="199.10" width="36.20" height="35.90" fill="none" stroke="#2a2a2a" stroke-width="1.0"/>
<rect x="212.35" y="199.35" width="35.70" height="25.05" fill="none" stroke="#111" stroke-width="1.5"/>
<text transform="translate(208.00,231.30) rotate(-90)" font-size="9.6" text-anchor="start" font-weight="normal" fill="#222" textLength="24.3" lengthAdjust="spacingAndGlyphs" class="hv">ITGB7</text>
<path d="M206.00,235.10 L206.00,243.10 L212.60,243.10" fill="none" stroke="#111" stroke-width="1.0"/>
<path d="M204.10,237.20 L206.00,234.00 L207.90,237.20 Z" fill="#111"/>
<path d="M211.80,241.20 L214.90,243.10 L211.80,245.00 Z" fill="#111"/>
<text x="218.00" y="245.90" font-size="9.6" text-anchor="start" font-weight="normal" fill="#222" textLength="23.4" lengthAdjust="spacingAndGlyphs" class="hv">FSC-A</text>
<rect x="263.80" y="199.10" width="36.20" height="35.90" fill="none" stroke="#2a2a2a" stroke-width="1.0"/>
<rect x="264.05" y="199.35" width="35.70" height="26.95" fill="none" stroke="#111" stroke-width="1.5"/>
<text transform="translate(259.20,231.30) rotate(-90)" font-size="9.6" text-anchor="start" font-weight="normal" fill="#222" textLength="24.7" lengthAdjust="spacingAndGlyphs" class="hv">CD11c</text>
<path d="M257.70,235.10 L257.70,243.10 L264.30,243.10" fill="none" stroke="#111" stroke-width="1.0"/>
<path d="M255.80,237.20 L257.70,234.00 L259.60,237.20 Z" fill="#111"/>
<path d="M263.50,241.20 L266.60,243.10 L263.50,245.00 Z" fill="#111"/>
<text x="269.70" y="245.90" font-size="9.6" text-anchor="start" font-weight="normal" fill="#222" textLength="23.4" lengthAdjust="spacingAndGlyphs" class="hv">FSC-A</text>
<rect x="314.40" y="199.10" width="36.20" height="35.90" fill="none" stroke="#2a2a2a" stroke-width="1.0"/>
<rect x="314.65" y="199.35" width="35.70" height="16.95" fill="none" stroke="#111" stroke-width="1.5"/>
<text transform="translate(310.20,231.30) rotate(-90)" font-size="9.6" text-anchor="start" font-weight="normal" fill="#222" textLength="21.6" lengthAdjust="spacingAndGlyphs" class="hv">CD25</text>
<path d="M308.30,235.10 L308.30,243.10 L314.90,243.10" fill="none" stroke="#111" stroke-width="1.0"/>
<path d="M306.40,237.20 L308.30,234.00 L310.20,237.20 Z" fill="#111"/>
<path d="M314.10,241.20 L317.20,243.10 L314.10,245.00 Z" fill="#111"/>
<text x="320.30" y="245.90" font-size="9.6" text-anchor="start" font-weight="normal" fill="#222" textLength="23.4" lengthAdjust="spacingAndGlyphs" class="hv">FSC-A</text>
<rect x="365.70" y="199.10" width="36.20" height="35.90" fill="none" stroke="#2a2a2a" stroke-width="1.0"/>
<rect x="365.95" y="199.35" width="35.70" height="24.85" fill="none" stroke="#111" stroke-width="1.5"/>
<text transform="translate(361.50,231.30) rotate(-90)" font-size="9.6" text-anchor="start" font-weight="normal" fill="#222" textLength="21.2" lengthAdjust="spacingAndGlyphs" class="hv">CD26</text>
<path d="M359.60,235.10 L359.60,243.10 L366.20,243.10" fill="none" stroke="#111" stroke-width="1.0"/>
<path d="M357.70,237.20 L359.60,234.00 L361.50,237.20 Z" fill="#111"/>
<path d="M365.40,241.20 L368.50,243.10 L365.40,245.00 Z" fill="#111"/>
<text x="371.60" y="245.90" font-size="9.6" text-anchor="start" font-weight="normal" fill="#222" textLength="23.4" lengthAdjust="spacingAndGlyphs" class="hv">FSC-A</text>
<rect x="416.20" y="199.10" width="36.20" height="35.90" fill="none" stroke="#2a2a2a" stroke-width="1.0"/>
<rect x="416.45" y="199.35" width="35.70" height="23.55" fill="none" stroke="#111" stroke-width="1.5"/>
<text transform="translate(412.30,231.30) rotate(-90)" font-size="9.6" text-anchor="start" font-weight="normal" fill="#222" textLength="29.0" lengthAdjust="spacingAndGlyphs" class="hv">IL1RAP</text>
<path d="M410.10,235.10 L410.10,243.10 L416.70,243.10" fill="none" stroke="#111" stroke-width="1.0"/>
<path d="M408.20,237.20 L410.10,234.00 L412.00,237.20 Z" fill="#111"/>
<path d="M415.90,241.20 L419.00,243.10 L415.90,245.00 Z" fill="#111"/>
<text x="422.10" y="245.90" font-size="9.6" text-anchor="start" font-weight="normal" fill="#222" textLength="23.4" lengthAdjust="spacingAndGlyphs" class="hv">FSC-A</text>
<rect x="468.70" y="199.10" width="36.20" height="35.90" fill="none" stroke="#2a2a2a" stroke-width="1.0"/>
<rect x="468.95" y="199.35" width="35.70" height="24.25" fill="none" stroke="#111" stroke-width="1.5"/>
<text transform="translate(464.20,231.30) rotate(-90)" font-size="9.6" text-anchor="start" font-weight="normal" fill="#222" textLength="16.7" lengthAdjust="spacingAndGlyphs" class="hv">cKIT</text>
<path d="M462.60,235.10 L462.60,243.10 L469.20,243.10" fill="none" stroke="#111" stroke-width="1.0"/>
<path d="M460.70,237.20 L462.60,234.00 L464.50,237.20 Z" fill="#111"/>
<path d="M468.40,241.20 L471.50,243.10 L468.40,245.00 Z" fill="#111"/>
<text x="474.60" y="245.90" font-size="9.6" text-anchor="start" font-weight="normal" fill="#222" textLength="23.4" lengthAdjust="spacingAndGlyphs" class="hv">FSC-A</text>
<rect x="56.70" y="255.10" width="36.20" height="35.90" fill="none" stroke="#2a2a2a" stroke-width="1.0"/>
<rect x="56.95" y="255.35" width="35.70" height="24.55" fill="none" stroke="#111" stroke-width="1.5"/>
<text transform="translate(53.70,286.20) rotate(-90)" font-size="9.6" text-anchor="start" font-weight="normal" fill="#222" textLength="26.1" lengthAdjust="spacingAndGlyphs" class="hv">CD276</text>
<path d="M50.60,290.00 L50.60,298.00 L57.20,298.00" fill="none" stroke="#111" stroke-width="1.0"/>
<path d="M48.70,292.10 L50.60,288.90 L52.50,292.10 Z" fill="#111"/>
<path d="M56.40,296.10 L59.50,298.00 L56.40,299.90 Z" fill="#111"/>
<text x="62.60" y="300.80" font-size="9.6" text-anchor="start" font-weight="normal" fill="#222" textLength="23.4" lengthAdjust="spacingAndGlyphs" class="hv">FSC-A</text>
<rect x="108.60" y="255.10" width="36.20" height="35.90" fill="none" stroke="#2a2a2a" stroke-width="1.0"/>
<rect x="108.85" y="255.35" width="35.70" height="26.75" fill="none" stroke="#111" stroke-width="1.5"/>
<text transform="translate(103.60,284.70) rotate(-90)" font-size="9.6" text-anchor="start" font-weight="normal" fill="#222" textLength="18.9" lengthAdjust="spacingAndGlyphs" class="hv">TIM3</text>
<path d="M102.50,290.00 L102.50,298.00 L109.10,298.00" fill="none" stroke="#111" stroke-width="1.0"/>
<path d="M100.60,292.10 L102.50,288.90 L104.40,292.10 Z" fill="#111"/>
<path d="M108.30,296.10 L111.40,298.00 L108.30,299.90 Z" fill="#111"/>
<text x="114.50" y="300.80" font-size="9.6" text-anchor="start" font-weight="normal" fill="#222" textLength="23.4" lengthAdjust="spacingAndGlyphs" class="hv">FSC-A</text>
<rect x="160.20" y="255.10" width="36.20" height="35.90" fill="none" stroke="#2a2a2a" stroke-width="1.0"/>
<rect x="160.45" y="255.35" width="35.70" height="22.05" fill="none" stroke="#111" stroke-width="1.5"/>
<text transform="translate(156.70,286.20) rotate(-90)" font-size="9.6" text-anchor="start" font-weight="normal" fill="#222" textLength="20.9" lengthAdjust="spacingAndGlyphs" class="hv">CD32</text>
<path d="M154.10,290.00 L154.10,298.00 L160.70,298.00" fill="none" stroke="#111" stroke-width="1.0"/>
<path d="M152.20,292.10 L154.10,288.90 L156.00,292.10 Z" fill="#111"/>
<path d="M159.90,296.10 L163.00,298.00 L159.90,299.90 Z" fill="#111"/>
<text x="166.10" y="300.80" font-size="9.6" text-anchor="start" font-weight="normal" fill="#222" textLength="23.4" lengthAdjust="spacingAndGlyphs" class="hv">FSC-A</text>
<rect x="212.10" y="255.10" width="36.20" height="35.90" fill="none" stroke="#2a2a2a" stroke-width="1.0"/>
<rect x="212.35" y="255.35" width="35.70" height="25.05" fill="none" stroke="#111" stroke-width="1.5"/>
<text transform="translate(208.00,286.20) rotate(-90)" font-size="9.6" text-anchor="start" font-weight="normal" fill="#222" textLength="24.3" lengthAdjust="spacingAndGlyphs" class="hv">ITGB7</text>
<path d="M206.00,290.00 L206.00,298.00 L212.60,298.00" fill="none" stroke="#111" stroke-width="1.0"/>
<path d="M204.10,292.10 L206.00,288.90 L207.90,292.10 Z" fill="#111"/>
<path d="M211.80,296.10 L214.90,298.00 L211.80,299.90 Z" fill="#111"/>
<text x="218.00" y="300.80" font-size="9.6" text-anchor="start" font-weight="normal" fill="#222" textLength="23.4" lengthAdjust="spacingAndGlyphs" class="hv">FSC-A</text>
<rect x="263.80" y="255.10" width="36.20" height="35.90" fill="none" stroke="#2a2a2a" stroke-width="1.0"/>
<rect x="264.05" y="255.35" width="35.70" height="27.35" fill="none" stroke="#111" stroke-width="1.5"/>
<text transform="translate(259.20,286.20) rotate(-90)" font-size="9.6" text-anchor="start" font-weight="normal" fill="#222" textLength="24.7" lengthAdjust="spacingAndGlyphs" class="hv">CD11c</text>
<path d="M257.70,290.00 L257.70,298.00 L264.30,298.00" fill="none" stroke="#111" stroke-width="1.0"/>
<path d="M255.80,292.10 L257.70,288.90 L259.60,292.10 Z" fill="#111"/>
<path d="M263.50,296.10 L266.60,298.00 L263.50,299.90 Z" fill="#111"/>
<text x="269.70" y="300.80" font-size="9.6" text-anchor="start" font-weight="normal" fill="#222" textLength="23.4" lengthAdjust="spacingAndGlyphs" class="hv">FSC-A</text>
<rect x="314.40" y="255.10" width="36.20" height="35.90" fill="none" stroke="#2a2a2a" stroke-width="1.0"/>
<rect x="314.65" y="255.35" width="35.70" height="17.05" fill="none" stroke="#111" stroke-width="1.5"/>
<text transform="translate(310.20,286.20) rotate(-90)" font-size="9.6" text-anchor="start" font-weight="normal" fill="#222" textLength="21.6" lengthAdjust="spacingAndGlyphs" class="hv">CD25</text>
<path d="M308.30,290.00 L308.30,298.00 L314.90,298.00" fill="none" stroke="#111" stroke-width="1.0"/>
<path d="M306.40,292.10 L308.30,288.90 L310.20,292.10 Z" fill="#111"/>
<path d="M314.10,296.10 L317.20,298.00 L314.10,299.90 Z" fill="#111"/>
<text x="320.30" y="300.80" font-size="9.6" text-anchor="start" font-weight="normal" fill="#222" textLength="23.4" lengthAdjust="spacingAndGlyphs" class="hv">FSC-A</text>
<rect x="365.70" y="255.10" width="36.20" height="35.90" fill="none" stroke="#2a2a2a" stroke-width="1.0"/>
<rect x="365.95" y="255.35" width="35.70" height="24.55" fill="none" stroke="#111" stroke-width="1.5"/>
<text transform="translate(361.50,286.20) rotate(-90)" font-size="9.6" text-anchor="start" font-weight="normal" fill="#222" textLength="21.2" lengthAdjust="spacingAndGlyphs" class="hv">CD26</text>
<path d="M359.60,290.00 L359.60,298.00 L366.20,298.00" fill="none" stroke="#111" stroke-width="1.0"/>
<path d="M357.70,292.10 L359.60,288.90 L361.50,292.10 Z" fill="#111"/>
<path d="M365.40,296.10 L368.50,298.00 L365.40,299.90 Z" fill="#111"/>
<text x="371.60" y="300.80" font-size="9.6" text-anchor="start" font-weight="normal" fill="#222" textLength="23.4" lengthAdjust="spacingAndGlyphs" class="hv">FSC-A</text>
<rect x="416.20" y="255.10" width="36.20" height="35.90" fill="none" stroke="#2a2a2a" stroke-width="1.0"/>
<rect x="416.45" y="255.35" width="35.70" height="25.65" fill="none" stroke="#111" stroke-width="1.5"/>
<text transform="translate(412.30,286.20) rotate(-90)" font-size="9.6" text-anchor="start" font-weight="normal" fill="#222" textLength="29.0" lengthAdjust="spacingAndGlyphs" class="hv">IL1RAP</text>
<path d="M410.10,290.00 L410.10,298.00 L416.70,298.00" fill="none" stroke="#111" stroke-width="1.0"/>
<path d="M408.20,292.10 L410.10,288.90 L412.00,292.10 Z" fill="#111"/>
<path d="M415.90,296.10 L419.00,298.00 L415.90,299.90 Z" fill="#111"/>
<text x="422.10" y="300.80" font-size="9.6" text-anchor="start" font-weight="normal" fill="#222" textLength="23.4" lengthAdjust="spacingAndGlyphs" class="hv">FSC-A</text>
<rect x="468.70" y="255.10" width="36.20" height="35.90" fill="none" stroke="#2a2a2a" stroke-width="1.0"/>
<rect x="468.95" y="255.35" width="35.70" height="25.45" fill="none" stroke="#111" stroke-width="1.5"/>
<text transform="translate(464.20,286.20) rotate(-90)" font-size="9.6" text-anchor="start" font-weight="normal" fill="#222" textLength="16.7" lengthAdjust="spacingAndGlyphs" class="hv">cKIT</text>
<path d="M462.60,290.00 L462.60,298.00 L469.20,298.00" fill="none" stroke="#111" stroke-width="1.0"/>
<path d="M460.70,292.10 L462.60,288.90 L464.50,292.10 Z" fill="#111"/>
<path d="M468.40,296.10 L471.50,298.00 L468.40,299.90 Z" fill="#111"/>
<text x="474.60" y="300.80" font-size="9.6" text-anchor="start" font-weight="normal" fill="#222" textLength="23.4" lengthAdjust="spacingAndGlyphs" class="hv">FSC-A</text>
<text transform="translate(37.30,216.60) rotate(-90)" font-size="8.6" text-anchor="middle" font-weight="normal" fill="#222" textLength="19.8" lengthAdjust="spacingAndGlyphs">nBM</text>
<line x1="40.40" y1="197.70" x2="40.40" y2="236.20" stroke="#222" stroke-width="1.0"/>
<text transform="translate(36.80,273.90) rotate(-90)" font-size="8.6" text-anchor="middle" font-weight="normal" fill="#222" textLength="34.7" lengthAdjust="spacingAndGlyphs">CML Dx</text>
<line x1="40.20" y1="254.50" x2="40.20" y2="293.90" stroke="#222" stroke-width="1.0"/>
<circle cx="76.37" cy="228.86" r="0.6" fill="#000" opacity="0.99"/>
<circle cx="78.10" cy="228.47" r="0.6" fill="#000" opacity="0.90"/>
<circle cx="77.17" cy="230.88" r="0.6" fill="#000" opacity="0.79"/>
<circle cx="76.73" cy="228.21" r="0.6" fill="#000" opacity="0.99"/>
<circle cx="77.65" cy="230.06" r="0.6" fill="#000" opacity="0.73"/>
<circle cx="77.13" cy="227.60" r="0.6" fill="#000" opacity="0.84"/>
<circle cx="76.28" cy="232.03" r="0.6" fill="#000" opacity="0.82"/>
<circle cx="77.30" cy="231.55" r="0.6" fill="#000" opacity="0.79"/>
<circle cx="78.57" cy="231.89" r="0.6" fill="#000" opacity="0.90"/>
<circle cx="75.84" cy="225.94" r="0.6" fill="#000" opacity="0.82"/>
<circle cx="76.16" cy="230.94" r="0.6" fill="#000" opacity="0.82"/>
<circle cx="76.94" cy="229.30" r="0.6" fill="#000" opacity="0.84"/>
<circle cx="76.01" cy="229.10" r="0.6" fill="#000" opacity="0.71"/>
<circle cx="76.96" cy="229.24" r="0.6" fill="#000" opacity="0.87"/>
<circle cx="77.17" cy="229.94" r="0.6" fill="#000" opacity="0.75"/>
<circle cx="77.58" cy="229.96" r="0.6" fill="#000" opacity="0.91"/>
<circle cx="76.86" cy="227.62" r="0.6" fill="#000" opacity="0.90"/>
<circle cx="75.72" cy="229.87" r="0.6" fill="#000" opacity="0.96"/>
<circle cx="76.17" cy="233.24" r="0.6" fill="#000" opacity="0.91"/>
<circle cx="76.95" cy="229.30" r="0.6" fill="#000" opacity="0.73"/>
<circle cx="77.99" cy="229.87" r="0.6" fill="#000" opacity="0.98"/>
<circle cx="78.49" cy="226.81" r="0.6" fill="#000" opacity="0.74"/>
<circle cx="76.48" cy="226.18" r="0.6" fill="#000" opacity="0.94"/>
<circle cx="77.16" cy="228.44" r="0.6" fill="#000" opacity="0.75"/>
<circle cx="77.48" cy="226.34" r="0.6" fill="#000" opacity="0.97"/>
<circle cx="74.82" cy="230.89" r="0.6" fill="#000" opacity="0.74"/>
<circle cx="79.20" cy="228.39" r="0.6" fill="#000" opacity="0.80"/>
<circle cx="78.26" cy="230.54" r="0.6" fill="#000" opacity="0.91"/>
<circle cx="76.78" cy="230.06" r="0.6" fill="#000" opacity="0.78"/>
<circle cx="77.22" cy="228.72" r="0.6" fill="#000" opacity="0.98"/>
<circle cx="77.00" cy="230.85" r="0.6" fill="#000" opacity="0.73"/>
<circle cx="79.35" cy="228.99" r="0.6" fill="#000" opacity="0.80"/>
<circle cx="78.32" cy="231.15" r="0.6" fill="#000" opacity="0.97"/>
<circle cx="78.55" cy="229.72" r="0.6" fill="#000" opacity="0.96"/>
<circle cx="75.62" cy="230.16" r="0.6" fill="#000" opacity="0.94"/>
<circle cx="77.06" cy="231.09" r="0.6" fill="#000" opacity="0.90"/>
<circle cx="75.71" cy="228.70" r="0.6" fill="#000" opacity="0.80"/>
<circle cx="77.84" cy="228.86" r="0.6" fill="#000" opacity="0.90"/>
<circle cx="77.88" cy="228.25" r="0.6" fill="#000" opacity="0.72"/>
<circle cx="77.08" cy="230.23" r="0.6" fill="#000" opacity="0.74"/>
<circle cx="77.73" cy="230.76" r="0.6" fill="#000" opacity="0.81"/>
<circle cx="75.46" cy="230.46" r="0.6" fill="#000" opacity="0.90"/>
<circle cx="76.60" cy="227.74" r="0.6" fill="#000" opacity="0.90"/>
<circle cx="76.45" cy="229.18" r="0.6" fill="#000" opacity="0.86"/>
<circle cx="76.31" cy="232.23" r="0.6" fill="#000" opacity="0.92"/>
<circle cx="77.07" cy="231.63" r="0.6" fill="#000" opacity="0.84"/>
<circle cx="76.91" cy="230.05" r="0.6" fill="#000" opacity="0.71"/>
<circle cx="78.80" cy="229.35" r="0.6" fill="#000" opacity="0.83"/>
<circle cx="76.56" cy="228.13" r="0.6" fill="#000" opacity="0.91"/>
<circle cx="78.81" cy="228.45" r="0.6" fill="#000" opacity="0.84"/>
<circle cx="79.47" cy="229.03" r="0.6" fill="#000" opacity="0.72"/>
<circle cx="75.97" cy="230.65" r="0.6" fill="#000" opacity="0.78"/>
<circle cx="76.54" cy="228.76" r="0.6" fill="#000" opacity="0.92"/>
<circle cx="77.25" cy="228.94" r="0.6" fill="#000" opacity="0.91"/>
<circle cx="76.84" cy="232.34" r="0.6" fill="#000" opacity="0.91"/>
<circle cx="78.95" cy="228.98" r="0.6" fill="#000" opacity="0.80"/>
<circle cx="76.92" cy="228.38" r="0.6" fill="#000" opacity="0.91"/>
<circle cx="76.25" cy="230.28" r="0.6" fill="#000" opacity="0.77"/>
<circle cx="77.41" cy="232.99" r="0.6" fill="#000" opacity="0.73"/>
<circle cx="77.08" cy="230.80" r="0.6" fill="#000" opacity="0.75"/>
<circle cx="78.64" cy="232.44" r="0.45" fill="#333" opacity="0.37"/>
<circle cx="74.98" cy="227.07" r="0.45" fill="#333" opacity="0.45"/>
<circle cx="72.94" cy="228.09" r="0.45" fill="#333" opacity="0.32"/>
<circle cx="71.63" cy="229.42" r="0.45" fill="#333" opacity="0.51"/>
<circle cx="79.79" cy="227.54" r="0.45" fill="#333" opacity="0.45"/>
<circle cx="76.24" cy="231.14" r="0.45" fill="#333" opacity="0.62"/>
<circle cx="74.38" cy="227.20" r="0.45" fill="#333" opacity="0.48"/>
<circle cx="73.73" cy="229.99" r="0.45" fill="#333" opacity="0.51"/>
<circle cx="78.72" cy="232.43" r="0.45" fill="#333" opacity="0.55"/>
<circle cx="74.84" cy="228.55" r="0.45" fill="#333" opacity="0.34"/>
<circle cx="73.57" cy="232.91" r="0.45" fill="#333" opacity="0.50"/>
<circle cx="75.95" cy="227.66" r="0.45" fill="#333" opacity="0.46"/>
<circle cx="77.62" cy="229.27" r="0.45" fill="#333" opacity="0.38"/>
<circle cx="72.16" cy="228.35" r="0.45" fill="#333" opacity="0.47"/>
<circle cx="72.78" cy="229.15" r="0.45" fill="#333" opacity="0.57"/>
<circle cx="80.58" cy="227.36" r="0.45" fill="#333" opacity="0.56"/>
<circle cx="68.37" cy="231.00" r="0.45" fill="#333" opacity="0.48"/>
<circle cx="71.46" cy="226.85" r="0.45" fill="#333" opacity="0.57"/>
<circle cx="71.92" cy="232.30" r="0.45" fill="#333" opacity="0.54"/>
<circle cx="79.85" cy="228.44" r="0.45" fill="#333" opacity="0.51"/>
<circle cx="79.87" cy="229.56" r="0.45" fill="#333" opacity="0.46"/>
<circle cx="83.10" cy="227.98" r="0.45" fill="#333" opacity="0.37"/>
<circle cx="81.68" cy="231.91" r="0.45" fill="#333" opacity="0.65"/>
<circle cx="74.16" cy="231.12" r="0.45" fill="#333" opacity="0.57"/>
<circle cx="78.06" cy="229.44" r="0.45" fill="#333" opacity="0.48"/>
<circle cx="77.00" cy="223.50" r="0.6" fill="#111" opacity="0.9"/>
<circle cx="72.50" cy="213.50" r="0.6" fill="#111" opacity="0.9"/>
<circle cx="130.02" cy="231.38" r="0.6" fill="#000" opacity="0.98"/>
<circle cx="127.89" cy="232.36" r="0.6" fill="#000" opacity="0.89"/>
<circle cx="130.01" cy="233.16" r="0.6" fill="#000" opacity="0.83"/>
<circle cx="129.80" cy="234.52" r="0.6" fill="#000" opacity="0.82"/>
<circle cx="128.54" cy="233.11" r="0.6" fill="#000" opacity="0.77"/>
<circle cx="128.77" cy="229.14" r="0.6" fill="#000" opacity="0.81"/>
<circle cx="129.96" cy="231.07" r="0.6" fill="#000" opacity="0.93"/>
<circle cx="129.65" cy="234.24" r="0.6" fill="#000" opacity="0.82"/>
<circle cx="131.37" cy="230.46" r="0.6" fill="#000" opacity="0.73"/>
<circle cx="130.94" cy="233.27" r="0.6" fill="#000" opacity="0.76"/>
<circle cx="129.80" cy="235.97" r="0.6" fill="#000" opacity="0.98"/>
<circle cx="129.84" cy="232.33" r="0.6" fill="#000" opacity="0.89"/>
<circle cx="132.67" cy="231.28" r="0.6" fill="#000" opacity="0.91"/>
<circle cx="129.38" cy="230.58" r="0.6" fill="#000" opacity="0.85"/>
<circle cx="129.97" cy="231.74" r="0.6" fill="#000" opacity="0.90"/>
<circle cx="129.32" cy="231.44" r="0.6" fill="#000" opacity="0.93"/>
<circle cx="131.56" cy="235.73" r="0.6" fill="#000" opacity="0.93"/>
<circle cx="127.46" cy="232.84" r="0.6" fill="#000" opacity="0.99"/>
<circle cx="128.77" cy="233.05" r="0.6" fill="#000" opacity="0.91"/>
<circle cx="130.26" cy="231.80" r="0.6" fill="#000" opacity="0.93"/>
<circle cx="127.63" cy="233.77" r="0.6" fill="#000" opacity="0.84"/>
<circle cx="131.50" cy="231.70" r="0.6" fill="#000" opacity="0.99"/>
<circle cx="130.32" cy="232.12" r="0.6" fill="#000" opacity="0.98"/>
<circle cx="129.55" cy="231.47" r="0.6" fill="#000" opacity="0.87"/>
<circle cx="129.43" cy="232.76" r="0.6" fill="#000" opacity="0.72"/>
<circle cx="127.38" cy="234.62" r="0.6" fill="#000" opacity="0.72"/>
<circle cx="126.71" cy="230.74" r="0.6" fill="#000" opacity="0.81"/>
<circle cx="129.08" cy="230.33" r="0.6" fill="#000" opacity="0.93"/>
<circle cx="125.01" cy="232.79" r="0.6" fill="#000" opacity="0.82"/>
<circle cx="129.69" cy="233.04" r="0.6" fill="#000" opacity="0.78"/>
<circle cx="132.31" cy="234.71" r="0.6" fill="#000" opacity="0.74"/>
<circle cx="130.98" cy="230.13" r="0.6" fill="#000" opacity="0.84"/>
<circle cx="130.52" cy="232.62" r="0.6" fill="#000" opacity="0.98"/>
<circle cx="127.11" cy="233.65" r="0.6" fill="#000" opacity="0.74"/>
<circle cx="130.95" cy="232.71" r="0.6" fill="#000" opacity="0.81"/>
<circle cx="130.13" cy="234.36" r="0.6" fill="#000" opacity="0.87"/>
<circle cx="128.20" cy="231.82" r="0.6" fill="#000" opacity="0.82"/>
<circle cx="129.26" cy="234.19" r="0.6" fill="#000" opacity="0.82"/>
<circle cx="127.10" cy="229.17" r="0.6" fill="#000" opacity="0.80"/>
<circle cx="128.90" cy="231.93" r="0.6" fill="#000" opacity="0.95"/>
<circle cx="127.40" cy="231.90" r="0.6" fill="#000" opacity="0.87"/>
<circle cx="131.96" cy="234.34" r="0.6" fill="#000" opacity="0.70"/>
<circle cx="130.14" cy="233.92" r="0.6" fill="#000" opacity="0.98"/>
<circle cx="128.42" cy="229.23" r="0.6" fill="#000" opacity="0.80"/>
<circle cx="127.44" cy="231.66" r="0.6" fill="#000" opacity="0.77"/>
<circle cx="130.71" cy="233.06" r="0.6" fill="#000" opacity="0.73"/>
<circle cx="130.50" cy="232.34" r="0.6" fill="#000" opacity="0.96"/>
<circle cx="127.49" cy="230.66" r="0.6" fill="#000" opacity="0.87"/>
<circle cx="126.17" cy="232.65" r="0.6" fill="#000" opacity="0.80"/>
<circle cx="129.41" cy="233.54" r="0.6" fill="#000" opacity="0.72"/>
<circle cx="130.77" cy="232.43" r="0.6" fill="#000" opacity="0.89"/>
<circle cx="130.11" cy="233.91" r="0.6" fill="#000" opacity="0.79"/>
<circle cx="129.51" cy="231.19" r="0.6" fill="#000" opacity="0.84"/>
<circle cx="129.46" cy="229.91" r="0.6" fill="#000" opacity="0.97"/>
<circle cx="131.29" cy="232.46" r="0.6" fill="#000" opacity="0.76"/>
<circle cx="130.44" cy="231.58" r="0.6" fill="#000" opacity="0.94"/>
<circle cx="126.78" cy="232.03" r="0.6" fill="#000" opacity="0.94"/>
<circle cx="131.66" cy="229.90" r="0.6" fill="#000" opacity="0.82"/>
<circle cx="127.86" cy="229.32" r="0.6" fill="#000" opacity="0.94"/>
<circle cx="126.69" cy="233.30" r="0.6" fill="#000" opacity="0.93"/>
<circle cx="121.88" cy="231.35" r="0.45" fill="#333" opacity="0.55"/>
<circle cx="124.11" cy="226.90" r="0.45" fill="#333" opacity="0.60"/>
<circle cx="127.03" cy="232.21" r="0.45" fill="#333" opacity="0.48"/>
<circle cx="120.46" cy="234.27" r="0.45" fill="#333" opacity="0.59"/>
<circle cx="123.45" cy="231.37" r="0.45" fill="#333" opacity="0.39"/>
<circle cx="120.93" cy="228.27" r="0.45" fill="#333" opacity="0.37"/>
<circle cx="123.54" cy="231.54" r="0.45" fill="#333" opacity="0.54"/>
<circle cx="125.97" cy="231.73" r="0.45" fill="#333" opacity="0.57"/>
<circle cx="124.58" cy="233.70" r="0.45" fill="#333" opacity="0.66"/>
<circle cx="120.62" cy="228.83" r="0.45" fill="#333" opacity="0.62"/>
<circle cx="127.94" cy="231.58" r="0.45" fill="#333" opacity="0.56"/>
<circle cx="125.73" cy="231.03" r="0.45" fill="#333" opacity="0.63"/>
<circle cx="124.24" cy="229.27" r="0.45" fill="#333" opacity="0.51"/>
<circle cx="127.69" cy="233.22" r="0.45" fill="#333" opacity="0.36"/>
<circle cx="122.56" cy="226.91" r="0.45" fill="#333" opacity="0.39"/>
<circle cx="125.65" cy="233.61" r="0.45" fill="#333" opacity="0.65"/>
<circle cx="127.36" cy="232.74" r="0.45" fill="#333" opacity="0.54"/>
<circle cx="126.54" cy="231.65" r="0.45" fill="#333" opacity="0.60"/>
<circle cx="123.35" cy="229.17" r="0.45" fill="#333" opacity="0.52"/>
<circle cx="128.56" cy="232.38" r="0.45" fill="#333" opacity="0.49"/>
<circle cx="124.40" cy="224.40" r="0.6" fill="#111" opacity="0.9"/>
<circle cx="182.73" cy="231.40" r="0.6" fill="#000" opacity="0.82"/>
<circle cx="182.79" cy="227.62" r="0.6" fill="#000" opacity="0.86"/>
<circle cx="182.36" cy="229.03" r="0.6" fill="#000" opacity="0.95"/>
<circle cx="180.27" cy="233.50" r="0.6" fill="#000" opacity="0.99"/>
<circle cx="182.08" cy="226.69" r="0.6" fill="#000" opacity="0.94"/>
<circle cx="182.65" cy="230.05" r="0.6" fill="#000" opacity="0.96"/>
<circle cx="181.62" cy="227.56" r="0.6" fill="#000" opacity="0.77"/>
<circle cx="180.99" cy="233.33" r="0.6" fill="#000" opacity="0.73"/>
<circle cx="182.93" cy="227.89" r="0.6" fill="#000" opacity="0.86"/>
<circle cx="181.97" cy="232.34" r="0.6" fill="#000" opacity="0.82"/>
<circle cx="182.15" cy="231.95" r="0.6" fill="#000" opacity="0.81"/>
<circle cx="181.42" cy="224.85" r="0.6" fill="#000" opacity="0.70"/>
<circle cx="182.88" cy="233.40" r="0.6" fill="#000" opacity="0.70"/>
<circle cx="181.53" cy="233.99" r="0.6" fill="#000" opacity="0.86"/>
<circle cx="181.94" cy="234.59" r="0.6" fill="#000" opacity="0.91"/>
<circle cx="183.18" cy="229.32" r="0.6" fill="#000" opacity="0.81"/>
<circle cx="180.29" cy="231.76" r="0.6" fill="#000" opacity="0.90"/>
<circle cx="181.80" cy="228.73" r="0.6" fill="#000" opacity="0.76"/>
<circle cx="181.78" cy="231.98" r="0.6" fill="#000" opacity="0.94"/>
<circle cx="182.20" cy="228.03" r="0.6" fill="#000" opacity="0.91"/>
<circle cx="182.12" cy="224.94" r="0.6" fill="#000" opacity="0.93"/>
<circle cx="180.04" cy="229.45" r="0.6" fill="#000" opacity="0.80"/>
<circle cx="180.94" cy="229.87" r="0.6" fill="#000" opacity="0.82"/>
<circle cx="180.75" cy="233.37" r="0.6" fill="#000" opacity="0.70"/>
<circle cx="180.52" cy="232.61" r="0.6" fill="#000" opacity="0.97"/>
<circle cx="181.46" cy="229.14" r="0.6" fill="#000" opacity="0.82"/>
<circle cx="181.62" cy="229.37" r="0.6" fill="#000" opacity="0.96"/>
<circle cx="183.03" cy="230.46" r="0.6" fill="#000" opacity="0.87"/>
<circle cx="182.53" cy="229.05" r="0.6" fill="#000" opacity="0.79"/>
<circle cx="181.94" cy="232.16" r="0.6" fill="#000" opacity="0.80"/>
<circle cx="180.89" cy="230.07" r="0.6" fill="#000" opacity="0.75"/>
<circle cx="181.85" cy="229.54" r="0.6" fill="#000" opacity="0.99"/>
<circle cx="181.51" cy="235.11" r="0.6" fill="#000" opacity="0.92"/>
<circle cx="183.25" cy="227.84" r="0.6" fill="#000" opacity="0.70"/>
<circle cx="181.77" cy="223.32" r="0.6" fill="#000" opacity="0.94"/>
<circle cx="181.29" cy="230.66" r="0.6" fill="#000" opacity="0.71"/>
<circle cx="181.64" cy="234.74" r="0.6" fill="#000" opacity="0.75"/>
<circle cx="180.05" cy="230.14" r="0.6" fill="#000" opacity="0.87"/>
<circle cx="181.37" cy="225.94" r="0.6" fill="#000" opacity="0.92"/>
<circle cx="183.07" cy="229.43" r="0.6" fill="#000" opacity="0.87"/>
<circle cx="181.93" cy="228.36" r="0.6" fill="#000" opacity="0.74"/>
<circle cx="182.64" cy="230.55" r="0.6" fill="#000" opacity="0.75"/>
<circle cx="181.78" cy="226.85" r="0.6" fill="#000" opacity="0.81"/>
<circle cx="181.37" cy="231.68" r="0.6" fill="#000" opacity="0.74"/>
<circle cx="182.07" cy="229.07" r="0.6" fill="#000" opacity="0.86"/>
<circle cx="180.10" cy="229.81" r="0.6" fill="#000" opacity="0.75"/>
<circle cx="181.18" cy="231.74" r="0.6" fill="#000" opacity="0.73"/>
<circle cx="180.73" cy="233.56" r="0.6" fill="#000" opacity="0.80"/>
<circle cx="180.62" cy="233.51" r="0.6" fill="#000" opacity="0.71"/>
<circle cx="181.72" cy="229.99" r="0.6" fill="#000" opacity="0.82"/>
<circle cx="181.57" cy="230.20" r="0.6" fill="#000" opacity="0.74"/>
<circle cx="182.14" cy="230.24" r="0.6" fill="#000" opacity="0.87"/>
<circle cx="181.50" cy="223.64" r="0.6" fill="#000" opacity="0.86"/>
<circle cx="182.36" cy="227.96" r="0.6" fill="#000" opacity="0.86"/>
<circle cx="181.82" cy="230.15" r="0.6" fill="#000" opacity="0.97"/>
<circle cx="181.26" cy="233.51" r="0.6" fill="#000" opacity="0.98"/>
<circle cx="179.52" cy="234.57" r="0.6" fill="#000" opacity="0.90"/>
<circle cx="183.24" cy="234.96" r="0.6" fill="#000" opacity="0.71"/>
<circle cx="181.27" cy="228.59" r="0.6" fill="#000" opacity="0.99"/>
<circle cx="181.63" cy="232.18" r="0.6" fill="#000" opacity="0.78"/>
<circle cx="181.36" cy="228.08" r="0.6" fill="#000" opacity="0.88"/>
<circle cx="182.95" cy="227.15" r="0.6" fill="#000" opacity="0.95"/>
<circle cx="181.54" cy="231.67" r="0.6" fill="#000" opacity="0.85"/>
<circle cx="182.33" cy="233.95" r="0.6" fill="#000" opacity="0.86"/>
<circle cx="181.03" cy="229.92" r="0.6" fill="#000" opacity="0.82"/>
<circle cx="182.28" cy="226.58" r="0.6" fill="#000" opacity="0.80"/>
<circle cx="180.45" cy="230.45" r="0.6" fill="#000" opacity="0.95"/>
<circle cx="181.30" cy="229.79" r="0.6" fill="#000" opacity="0.73"/>
<circle cx="181.95" cy="235.09" r="0.6" fill="#000" opacity="0.81"/>
<circle cx="183.04" cy="229.37" r="0.6" fill="#000" opacity="0.83"/>
<circle cx="174.04" cy="231.31" r="0.45" fill="#333" opacity="0.42"/>
<circle cx="180.22" cy="229.99" r="0.45" fill="#333" opacity="0.60"/>
<circle cx="172.96" cy="232.59" r="0.45" fill="#333" opacity="0.59"/>
<circle cx="176.13" cy="230.93" r="0.45" fill="#333" opacity="0.48"/>
<circle cx="179.76" cy="230.98" r="0.45" fill="#333" opacity="0.45"/>
<circle cx="176.16" cy="230.62" r="0.45" fill="#333" opacity="0.43"/>
<circle cx="177.46" cy="229.06" r="0.45" fill="#333" opacity="0.45"/>
<circle cx="179.63" cy="231.06" r="0.45" fill="#333" opacity="0.48"/>
<circle cx="179.58" cy="232.96" r="0.45" fill="#333" opacity="0.50"/>
<circle cx="175.98" cy="236.50" r="0.45" fill="#333" opacity="0.55"/>
<circle cx="172.76" cy="230.42" r="0.45" fill="#333" opacity="0.46"/>
<circle cx="180.32" cy="231.03" r="0.45" fill="#333" opacity="0.45"/>
<circle cx="171.45" cy="233.09" r="0.45" fill="#333" opacity="0.54"/>
<circle cx="181.29" cy="231.86" r="0.45" fill="#333" opacity="0.47"/>
<circle cx="176.22" cy="233.91" r="0.45" fill="#333" opacity="0.38"/>
<circle cx="175.47" cy="228.86" r="0.45" fill="#333" opacity="0.48"/>
<circle cx="175.03" cy="231.74" r="0.45" fill="#333" opacity="0.58"/>
<circle cx="177.36" cy="230.89" r="0.45" fill="#333" opacity="0.55"/>
<circle cx="179.33" cy="225.13" r="0.45" fill="#333" opacity="0.61"/>
<circle cx="180.00" cy="230.58" r="0.45" fill="#333" opacity="0.64"/>
<circle cx="176.88" cy="229.83" r="0.45" fill="#333" opacity="0.59"/>
<circle cx="175.02" cy="229.65" r="0.45" fill="#333" opacity="0.40"/>
<circle cx="231.78" cy="234.43" r="0.6" fill="#000" opacity="0.73"/>
<circle cx="232.33" cy="233.34" r="0.6" fill="#000" opacity="0.97"/>
<circle cx="231.67" cy="233.57" r="0.6" fill="#000" opacity="0.73"/>
<circle cx="233.48" cy="234.06" r="0.6" fill="#000" opacity="0.87"/>
<circle cx="232.36" cy="229.69" r="0.6" fill="#000" opacity="0.85"/>
<circle cx="232.86" cy="232.82" r="0.6" fill="#000" opacity="0.72"/>
<circle cx="233.25" cy="233.31" r="0.6" fill="#000" opacity="0.88"/>
<circle cx="232.47" cy="229.03" r="0.6" fill="#000" opacity="0.94"/>
<circle cx="232.59" cy="231.36" r="0.6" fill="#000" opacity="0.97"/>
<circle cx="231.32" cy="231.64" r="0.6" fill="#000" opacity="0.73"/>
<circle cx="232.85" cy="232.15" r="0.6" fill="#000" opacity="0.73"/>
<circle cx="232.87" cy="229.91" r="0.6" fill="#000" opacity="0.93"/>
<circle cx="234.27" cy="231.36" r="0.6" fill="#000" opacity="0.76"/>
<circle cx="234.28" cy="235.52" r="0.6" fill="#000" opacity="0.85"/>
<circle cx="231.06" cy="235.45" r="0.6" fill="#000" opacity="0.75"/>
<circle cx="232.72" cy="231.42" r="0.6" fill="#000" opacity="0.83"/>
<circle cx="230.94" cy="235.75" r="0.6" fill="#000" opacity="0.84"/>
<circle cx="230.62" cy="230.26" r="0.6" fill="#000" opacity="0.89"/>
<circle cx="233.68" cy="228.71" r="0.6" fill="#000" opacity="0.72"/>
<circle cx="233.39" cy="233.00" r="0.6" fill="#000" opacity="0.82"/>
<circle cx="232.88" cy="230.69" r="0.6" fill="#000" opacity="1.00"/>
<circle cx="233.26" cy="229.18" r="0.6" fill="#000" opacity="0.78"/>
<circle cx="232.97" cy="228.84" r="0.6" fill="#000" opacity="0.96"/>
<circle cx="231.91" cy="234.60" r="0.6" fill="#000" opacity="0.76"/>
<circle cx="231.98" cy="231.88" r="0.6" fill="#000" opacity="0.78"/>
<circle cx="236.80" cy="229.39" r="0.6" fill="#000" opacity="0.75"/>
<circle cx="232.53" cy="231.46" r="0.6" fill="#000" opacity="0.81"/>
<circle cx="231.79" cy="232.09" r="0.6" fill="#000" opacity="0.71"/>
<circle cx="231.37" cy="228.21" r="0.6" fill="#000" opacity="0.76"/>
<circle cx="231.23" cy="233.75" r="0.6" fill="#000" opacity="0.91"/>
<circle cx="232.29" cy="230.10" r="0.6" fill="#000" opacity="0.98"/>
<circle cx="233.20" cy="228.46" r="0.6" fill="#000" opacity="0.89"/>
<circle cx="233.96" cy="235.44" r="0.6" fill="#000" opacity="0.88"/>
<circle cx="230.79" cy="231.64" r="0.6" fill="#000" opacity="0.93"/>
<circle cx="233.01" cy="232.56" r="0.6" fill="#000" opacity="0.81"/>
<circle cx="233.83" cy="233.70" r="0.6" fill="#000" opacity="0.74"/>
<circle cx="231.39" cy="229.89" r="0.6" fill="#000" opacity="0.92"/>
<circle cx="232.97" cy="229.47" r="0.6" fill="#000" opacity="0.76"/>
<circle cx="233.96" cy="230.10" r="0.6" fill="#000" opacity="0.85"/>
<circle cx="234.09" cy="229.17" r="0.6" fill="#000" opacity="0.88"/>
<circle cx="231.97" cy="232.37" r="0.6" fill="#000" opacity="0.72"/>
<circle cx="232.85" cy="231.71" r="0.6" fill="#000" opacity="0.90"/>
<circle cx="233.86" cy="233.64" r="0.6" fill="#000" opacity="0.78"/>
<circle cx="233.60" cy="235.89" r="0.6" fill="#000" opacity="0.81"/>
<circle cx="234.00" cy="233.15" r="0.6" fill="#000" opacity="0.90"/>
<circle cx="234.62" cy="230.57" r="0.6" fill="#000" opacity="0.82"/>
<circle cx="231.96" cy="231.03" r="0.6" fill="#000" opacity="0.80"/>
<circle cx="231.73" cy="231.86" r="0.6" fill="#000" opacity="0.95"/>
<circle cx="232.87" cy="229.88" r="0.6" fill="#000" opacity="0.94"/>
<circle cx="231.94" cy="232.19" r="0.6" fill="#000" opacity="0.78"/>
<circle cx="233.98" cy="233.52" r="0.6" fill="#000" opacity="0.79"/>
<circle cx="233.01" cy="231.85" r="0.6" fill="#000" opacity="0.84"/>
<circle cx="233.22" cy="230.65" r="0.6" fill="#000" opacity="0.94"/>
<circle cx="232.74" cy="230.89" r="0.6" fill="#000" opacity="0.79"/>
<circle cx="234.30" cy="229.98" r="0.6" fill="#000" opacity="0.89"/>
<circle cx="227.08" cy="232.46" r="0.45" fill="#333" opacity="0.66"/>
<circle cx="230.51" cy="230.58" r="0.45" fill="#333" opacity="0.64"/>
<circle cx="233.04" cy="230.61" r="0.45" fill="#333" opacity="0.31"/>
<circle cx="230.69" cy="231.33" r="0.45" fill="#333" opacity="0.62"/>
<circle cx="230.38" cy="233.57" r="0.45" fill="#333" opacity="0.46"/>
<circle cx="227.61" cy="228.64" r="0.45" fill="#333" opacity="0.64"/>
<circle cx="231.18" cy="228.30" r="0.45" fill="#333" opacity="0.55"/>
<circle cx="225.24" cy="230.88" r="0.45" fill="#333" opacity="0.55"/>
<circle cx="229.61" cy="229.80" r="0.45" fill="#333" opacity="0.68"/>
<circle cx="230.12" cy="230.75" r="0.45" fill="#333" opacity="0.62"/>
<circle cx="226.14" cy="230.77" r="0.45" fill="#333" opacity="0.62"/>
<circle cx="227.48" cy="229.13" r="0.45" fill="#333" opacity="0.65"/>
<circle cx="229.48" cy="232.05" r="0.45" fill="#333" opacity="0.41"/>
<circle cx="228.26" cy="232.24" r="0.45" fill="#333" opacity="0.32"/>
<circle cx="224.66" cy="231.89" r="0.45" fill="#333" opacity="0.61"/>
<circle cx="224.70" cy="232.48" r="0.45" fill="#333" opacity="0.54"/>
<circle cx="228.32" cy="231.19" r="0.45" fill="#333" opacity="0.43"/>
<circle cx="228.33" cy="232.00" r="0.45" fill="#333" opacity="0.45"/>
<circle cx="229.30" cy="212.00" r="0.5" fill="#222" opacity="0.6"/>
<circle cx="229.50" cy="216.50" r="0.5" fill="#222" opacity="0.6"/>
<circle cx="231.80" cy="218.80" r="0.5" fill="#222" opacity="0.6"/>
<circle cx="229.50" cy="221.00" r="0.5" fill="#222" opacity="0.6"/>
<circle cx="232.30" cy="221.50" r="0.5" fill="#222" opacity="0.6"/>
<circle cx="226.70" cy="222.20" r="0.5" fill="#222" opacity="0.6"/>
<circle cx="283.11" cy="231.51" r="0.6" fill="#000" opacity="0.94"/>
<circle cx="284.96" cy="232.49" r="0.6" fill="#000" opacity="0.70"/>
<circle cx="283.30" cy="233.19" r="0.6" fill="#000" opacity="0.91"/>
<circle cx="285.26" cy="229.63" r="0.6" fill="#000" opacity="0.78"/>
<circle cx="281.69" cy="234.10" r="0.6" fill="#000" opacity="0.94"/>
<circle cx="284.89" cy="232.66" r="0.6" fill="#000" opacity="0.81"/>
<circle cx="284.13" cy="233.25" r="0.6" fill="#000" opacity="0.78"/>
<circle cx="282.09" cy="231.80" r="0.6" fill="#000" opacity="0.78"/>
<circle cx="285.57" cy="232.55" r="0.6" fill="#000" opacity="0.94"/>
<circle cx="283.66" cy="229.26" r="0.6" fill="#000" opacity="0.87"/>
<circle cx="280.83" cy="232.28" r="0.6" fill="#000" opacity="0.83"/>
<circle cx="284.92" cy="231.28" r="0.6" fill="#000" opacity="0.80"/>
<circle cx="280.88" cy="230.83" r="0.6" fill="#000" opacity="0.84"/>
<circle cx="282.08" cy="232.84" r="0.6" fill="#000" opacity="0.87"/>
<circle cx="282.67" cy="230.24" r="0.6" fill="#000" opacity="0.78"/>
<circle cx="283.90" cy="230.79" r="0.6" fill="#000" opacity="0.79"/>
<circle cx="285.17" cy="230.60" r="0.6" fill="#000" opacity="0.88"/>
<circle cx="282.59" cy="230.84" r="0.6" fill="#000" opacity="0.80"/>
<circle cx="281.21" cy="231.21" r="0.6" fill="#000" opacity="0.71"/>
<circle cx="282.95" cy="230.16" r="0.6" fill="#000" opacity="0.83"/>
<circle cx="282.35" cy="231.80" r="0.6" fill="#000" opacity="0.87"/>
<circle cx="285.59" cy="231.87" r="0.6" fill="#000" opacity="0.99"/>
<circle cx="282.23" cy="231.04" r="0.6" fill="#000" opacity="0.95"/>
<circle cx="286.72" cy="228.37" r="0.6" fill="#000" opacity="0.89"/>
<circle cx="282.66" cy="232.74" r="0.6" fill="#000" opacity="0.99"/>
<circle cx="282.48" cy="232.63" r="0.6" fill="#000" opacity="0.91"/>
<circle cx="281.78" cy="235.22" r="0.6" fill="#000" opacity="0.88"/>
<circle cx="285.28" cy="232.17" r="0.6" fill="#000" opacity="0.88"/>
<circle cx="285.83" cy="230.99" r="0.6" fill="#000" opacity="0.93"/>
<circle cx="289.13" cy="229.78" r="0.6" fill="#000" opacity="0.96"/>
<circle cx="278.27" cy="236.48" r="0.6" fill="#000" opacity="0.98"/>
<circle cx="284.08" cy="231.10" r="0.6" fill="#000" opacity="0.88"/>
<circle cx="283.48" cy="233.04" r="0.6" fill="#000" opacity="0.78"/>
<circle cx="283.27" cy="232.14" r="0.6" fill="#000" opacity="0.78"/>
<circle cx="282.35" cy="232.24" r="0.6" fill="#000" opacity="0.71"/>
<circle cx="284.96" cy="229.31" r="0.6" fill="#000" opacity="0.99"/>
<circle cx="280.72" cy="232.26" r="0.6" fill="#000" opacity="0.82"/>
<circle cx="286.16" cy="233.23" r="0.6" fill="#000" opacity="0.78"/>
<circle cx="284.80" cy="232.00" r="0.6" fill="#000" opacity="0.95"/>
<circle cx="283.09" cy="232.66" r="0.6" fill="#000" opacity="0.73"/>
<circle cx="289.26" cy="228.28" r="0.6" fill="#000" opacity="0.91"/>
<circle cx="282.59" cy="231.53" r="0.6" fill="#000" opacity="0.96"/>
<circle cx="280.83" cy="232.20" r="0.6" fill="#000" opacity="0.78"/>
<circle cx="284.43" cy="231.98" r="0.6" fill="#000" opacity="0.75"/>
<circle cx="281.98" cy="231.12" r="0.6" fill="#000" opacity="0.75"/>
<circle cx="283.62" cy="228.67" r="0.6" fill="#000" opacity="0.90"/>
<circle cx="281.39" cy="234.57" r="0.6" fill="#000" opacity="0.95"/>
<circle cx="284.48" cy="232.93" r="0.6" fill="#000" opacity="0.76"/>
<circle cx="280.10" cy="234.13" r="0.6" fill="#000" opacity="0.97"/>
<circle cx="282.46" cy="231.78" r="0.6" fill="#000" opacity="0.85"/>
<circle cx="286.69" cy="231.87" r="0.6" fill="#000" opacity="0.94"/>
<circle cx="285.61" cy="230.05" r="0.6" fill="#000" opacity="0.87"/>
<circle cx="283.66" cy="231.28" r="0.6" fill="#000" opacity="0.73"/>
<circle cx="286.09" cy="231.18" r="0.6" fill="#000" opacity="0.84"/>
<circle cx="282.03" cy="231.85" r="0.6" fill="#000" opacity="0.70"/>
<circle cx="282.67" cy="232.38" r="0.6" fill="#000" opacity="0.74"/>
<circle cx="283.84" cy="229.92" r="0.6" fill="#000" opacity="0.92"/>
<circle cx="286.00" cy="230.78" r="0.6" fill="#000" opacity="0.84"/>
<circle cx="282.27" cy="232.26" r="0.6" fill="#000" opacity="0.88"/>
<circle cx="286.69" cy="228.46" r="0.6" fill="#000" opacity="0.85"/>
<circle cx="279.53" cy="233.20" r="0.6" fill="#000" opacity="0.96"/>
<circle cx="284.47" cy="231.46" r="0.6" fill="#000" opacity="0.91"/>
<circle cx="285.94" cy="229.17" r="0.6" fill="#000" opacity="0.77"/>
<circle cx="279.65" cy="234.43" r="0.6" fill="#000" opacity="0.87"/>
<circle cx="282.49" cy="232.35" r="0.6" fill="#000" opacity="0.77"/>
<circle cx="276.41" cy="229.65" r="0.45" fill="#333" opacity="0.49"/>
<circle cx="277.79" cy="231.15" r="0.45" fill="#333" opacity="0.63"/>
<circle cx="280.88" cy="231.82" r="0.45" fill="#333" opacity="0.37"/>
<circle cx="274.41" cy="229.72" r="0.45" fill="#333" opacity="0.51"/>
<circle cx="283.57" cy="231.33" r="0.45" fill="#333" opacity="0.34"/>
<circle cx="279.76" cy="232.48" r="0.45" fill="#333" opacity="0.66"/>
<circle cx="274.57" cy="231.34" r="0.45" fill="#333" opacity="0.62"/>
<circle cx="282.37" cy="231.66" r="0.45" fill="#333" opacity="0.68"/>
<circle cx="284.77" cy="231.06" r="0.45" fill="#333" opacity="0.62"/>
<circle cx="281.30" cy="234.04" r="0.45" fill="#333" opacity="0.65"/>
<circle cx="282.59" cy="229.74" r="0.45" fill="#333" opacity="0.41"/>
<circle cx="280.49" cy="231.37" r="0.45" fill="#333" opacity="0.31"/>
<circle cx="281.20" cy="232.15" r="0.45" fill="#333" opacity="0.59"/>
<circle cx="280.40" cy="231.52" r="0.45" fill="#333" opacity="0.42"/>
<circle cx="281.53" cy="231.27" r="0.45" fill="#333" opacity="0.54"/>
<circle cx="281.16" cy="232.42" r="0.45" fill="#333" opacity="0.38"/>
<circle cx="276.16" cy="229.00" r="0.45" fill="#333" opacity="0.68"/>
<circle cx="283.25" cy="230.37" r="0.45" fill="#333" opacity="0.55"/>
<circle cx="275.50" cy="230.00" r="0.5" fill="#333" opacity="0.6"/>
<circle cx="277.00" cy="233.00" r="0.5" fill="#333" opacity="0.6"/>
<circle cx="290.50" cy="229.50" r="0.5" fill="#333" opacity="0.6"/>
<circle cx="326.40" cy="220.80" r="0.7" fill="#000" opacity="0.9"/>
<circle cx="327.50" cy="219.50" r="0.7" fill="#000" opacity="0.9"/>
<circle cx="330.00" cy="220.50" r="0.7" fill="#000" opacity="0.9"/>
<circle cx="326.00" cy="223.00" r="0.7" fill="#000" opacity="0.9"/>
<circle cx="329.50" cy="224.00" r="0.7" fill="#000" opacity="0.9"/>
<circle cx="329.50" cy="226.00" r="0.7" fill="#000" opacity="0.9"/>
<circle cx="326.00" cy="227.50" r="0.7" fill="#000" opacity="0.9"/>
<circle cx="327.20" cy="220.20" r="0.7" fill="#000" opacity="0.9"/>
<circle cx="328.60" cy="219.80" r="0.7" fill="#000" opacity="0.9"/>
<circle cx="376.99" cy="227.53" r="0.6" fill="#000" opacity="0.77"/>
<circle cx="380.84" cy="227.18" r="0.6" fill="#000" opacity="0.84"/>
<circle cx="379.07" cy="226.82" r="0.6" fill="#000" opacity="0.97"/>
<circle cx="378.49" cy="227.61" r="0.6" fill="#000" opacity="0.91"/>
<circle cx="376.79" cy="227.69" r="0.6" fill="#000" opacity="0.72"/>
<circle cx="376.21" cy="227.74" r="0.6" fill="#000" opacity="0.97"/>
<circle cx="380.35" cy="226.84" r="0.6" fill="#000" opacity="0.86"/>
<circle cx="382.53" cy="227.50" r="0.6" fill="#000" opacity="0.97"/>
<circle cx="378.10" cy="227.80" r="0.6" fill="#000" opacity="0.80"/>
<circle cx="378.36" cy="227.02" r="0.6" fill="#000" opacity="0.82"/>
<circle cx="376.27" cy="227.93" r="0.6" fill="#000" opacity="0.75"/>
<circle cx="376.97" cy="228.19" r="0.6" fill="#000" opacity="0.90"/>
<circle cx="380.21" cy="227.70" r="0.6" fill="#000" opacity="0.98"/>
<circle cx="378.08" cy="227.40" r="0.6" fill="#000" opacity="0.88"/>
<circle cx="381.12" cy="226.54" r="0.6" fill="#000" opacity="0.94"/>
<circle cx="380.21" cy="227.14" r="0.6" fill="#000" opacity="0.85"/>
<circle cx="379.08" cy="228.04" r="0.6" fill="#000" opacity="0.99"/>
<circle cx="380.23" cy="228.10" r="0.6" fill="#000" opacity="0.98"/>
<circle cx="375.61" cy="226.81" r="0.6" fill="#000" opacity="0.87"/>
<circle cx="379.99" cy="227.64" r="0.6" fill="#000" opacity="0.91"/>
<circle cx="377.67" cy="228.07" r="0.6" fill="#000" opacity="0.86"/>
<circle cx="379.85" cy="227.09" r="0.6" fill="#000" opacity="0.95"/>
<circle cx="379.30" cy="228.11" r="0.6" fill="#000" opacity="0.87"/>
<circle cx="380.27" cy="226.63" r="0.6" fill="#000" opacity="0.74"/>
<circle cx="376.57" cy="226.67" r="0.6" fill="#000" opacity="0.76"/>
<circle cx="377.81" cy="227.74" r="0.6" fill="#000" opacity="0.82"/>
<circle cx="377.65" cy="228.13" r="0.6" fill="#000" opacity="0.88"/>
<circle cx="380.39" cy="228.08" r="0.6" fill="#000" opacity="0.80"/>
<circle cx="380.67" cy="227.86" r="0.6" fill="#000" opacity="1.00"/>
<circle cx="381.48" cy="227.44" r="0.6" fill="#000" opacity="0.82"/>
<circle cx="428.80" cy="218.00" r="0.65" fill="#000" opacity="0.85"/>
<circle cx="429.50" cy="220.00" r="0.65" fill="#000" opacity="0.85"/>
<circle cx="428.00" cy="223.50" r="0.65" fill="#000" opacity="0.85"/>
<circle cx="430.00" cy="224.00" r="0.65" fill="#000" opacity="0.85"/>
<circle cx="427.00" cy="226.50" r="0.65" fill="#000" opacity="0.85"/>
<circle cx="429.00" cy="226.50" r="0.65" fill="#000" opacity="0.85"/>
<circle cx="431.00" cy="226.00" r="0.65" fill="#000" opacity="0.85"/>
<circle cx="432.50" cy="225.50" r="0.65" fill="#000" opacity="0.85"/>
<circle cx="433.00" cy="227.50" r="0.65" fill="#000" opacity="0.85"/>
<circle cx="428.50" cy="228.50" r="0.65" fill="#000" opacity="0.85"/>
<circle cx="430.50" cy="229.00" r="0.65" fill="#000" opacity="0.85"/>
<circle cx="429.00" cy="230.00" r="0.65" fill="#000" opacity="0.85"/>
<circle cx="430.00" cy="225.50" r="0.65" fill="#000" opacity="0.85"/>
<circle cx="431.50" cy="227.00" r="0.65" fill="#000" opacity="0.85"/>
<circle cx="479.50" cy="216.50" r="0.65" fill="#000" opacity="0.9"/>
<circle cx="481.00" cy="217.50" r="0.65" fill="#000" opacity="0.9"/>
<circle cx="483.50" cy="216.50" r="0.65" fill="#000" opacity="0.9"/>
<circle cx="484.50" cy="217.80" r="0.65" fill="#000" opacity="0.9"/>
<circle cx="480.50" cy="219.00" r="0.65" fill="#000" opacity="0.9"/>
<circle cx="482.00" cy="219.50" r="0.65" fill="#000" opacity="0.9"/>
<circle cx="479.50" cy="221.00" r="0.65" fill="#000" opacity="0.9"/>
<circle cx="481.50" cy="222.50" r="0.65" fill="#000" opacity="0.9"/>
<circle cx="479.00" cy="227.00" r="0.65" fill="#000" opacity="0.9"/>
<circle cx="483.00" cy="226.50" r="0.65" fill="#000" opacity="0.9"/>
<circle cx="484.50" cy="226.50" r="0.65" fill="#000" opacity="0.9"/>
<circle cx="481.20" cy="218.40" r="0.65" fill="#000" opacity="0.9"/>
<circle cx="81.88" cy="281.36" r="0.6" fill="#000" opacity="0.50"/>
<circle cx="79.21" cy="287.87" r="0.6" fill="#000" opacity="0.81"/>
<circle cx="76.19" cy="283.31" r="0.6" fill="#000" opacity="0.70"/>
<circle cx="82.10" cy="275.25" r="0.6" fill="#000" opacity="0.56"/>
<circle cx="77.59" cy="279.42" r="0.6" fill="#000" opacity="0.74"/>
<circle cx="80.78" cy="286.71" r="0.6" fill="#000" opacity="0.58"/>
<circle cx="79.47" cy="283.74" r="0.6" fill="#000" opacity="0.62"/>
<circle cx="81.64" cy="286.43" r="0.6" fill="#000" opacity="0.80"/>
<circle cx="82.98" cy="280.44" r="0.6" fill="#000" opacity="0.54"/>
<circle cx="78.53" cy="277.59" r="0.6" fill="#000" opacity="0.74"/>
<circle cx="80.29" cy="272.90" r="0.6" fill="#000" opacity="0.81"/>
<circle cx="79.72" cy="282.46" r="0.6" fill="#000" opacity="0.76"/>
<circle cx="75.21" cy="280.35" r="0.6" fill="#000" opacity="0.90"/>
<circle cx="80.91" cy="284.26" r="0.6" fill="#000" opacity="0.82"/>
<circle cx="74.73" cy="288.00" r="0.6" fill="#000" opacity="0.51"/>
<circle cx="76.18" cy="286.24" r="0.6" fill="#000" opacity="0.93"/>
<circle cx="78.23" cy="281.05" r="0.6" fill="#000" opacity="0.77"/>
<circle cx="78.50" cy="287.13" r="0.6" fill="#000" opacity="0.65"/>
<circle cx="81.10" cy="285.45" r="0.6" fill="#000" opacity="0.85"/>
<circle cx="76.90" cy="282.05" r="0.6" fill="#000" opacity="0.76"/>
<circle cx="79.75" cy="280.52" r="0.6" fill="#000" opacity="0.67"/>
<circle cx="81.95" cy="276.07" r="0.6" fill="#000" opacity="0.85"/>
<circle cx="80.61" cy="279.93" r="0.6" fill="#000" opacity="0.83"/>
<circle cx="79.84" cy="280.58" r="0.6" fill="#000" opacity="0.60"/>
<circle cx="77.42" cy="281.68" r="0.6" fill="#000" opacity="0.89"/>
<circle cx="77.49" cy="287.46" r="0.6" fill="#000" opacity="0.69"/>
<circle cx="85.97" cy="274.07" r="0.6" fill="#000" opacity="0.57"/>
<circle cx="80.47" cy="278.39" r="0.6" fill="#000" opacity="0.65"/>
<circle cx="81.86" cy="276.76" r="0.6" fill="#000" opacity="0.51"/>
<circle cx="86.83" cy="278.28" r="0.6" fill="#000" opacity="0.89"/>
<circle cx="82.06" cy="278.83" r="0.6" fill="#000" opacity="0.64"/>
<circle cx="79.71" cy="279.35" r="0.6" fill="#000" opacity="0.77"/>
<circle cx="80.85" cy="282.46" r="0.6" fill="#000" opacity="0.84"/>
<circle cx="80.53" cy="293.23" r="0.6" fill="#000" opacity="0.80"/>
<circle cx="77.31" cy="277.88" r="0.6" fill="#000" opacity="0.61"/>
<circle cx="80.64" cy="279.93" r="0.6" fill="#000" opacity="0.91"/>
<circle cx="76.92" cy="280.47" r="0.6" fill="#000" opacity="0.74"/>
<circle cx="78.93" cy="282.59" r="0.6" fill="#000" opacity="0.66"/>
<circle cx="78.73" cy="278.10" r="0.6" fill="#000" opacity="0.86"/>
<circle cx="79.80" cy="279.58" r="0.6" fill="#000" opacity="0.54"/>
<circle cx="81.64" cy="275.49" r="0.6" fill="#000" opacity="0.56"/>
<circle cx="77.12" cy="280.60" r="0.6" fill="#000" opacity="0.82"/>
<circle cx="74.70" cy="283.96" r="0.6" fill="#000" opacity="0.51"/>
<circle cx="82.76" cy="275.05" r="0.6" fill="#000" opacity="0.67"/>
<circle cx="81.04" cy="281.55" r="0.6" fill="#000" opacity="0.82"/>
<circle cx="78.56" cy="276.46" r="0.6" fill="#000" opacity="0.54"/>
<circle cx="82.16" cy="282.64" r="0.6" fill="#000" opacity="0.55"/>
<circle cx="79.85" cy="281.52" r="0.6" fill="#000" opacity="0.60"/>
<circle cx="76.03" cy="279.51" r="0.6" fill="#000" opacity="0.51"/>
<circle cx="79.36" cy="284.43" r="0.6" fill="#000" opacity="0.60"/>
<circle cx="79.92" cy="280.62" r="0.6" fill="#000" opacity="0.58"/>
<circle cx="79.58" cy="289.13" r="0.6" fill="#000" opacity="0.63"/>
<circle cx="78.55" cy="274.22" r="0.6" fill="#000" opacity="0.81"/>
<circle cx="78.16" cy="282.72" r="0.6" fill="#000" opacity="0.74"/>
<circle cx="78.74" cy="283.83" r="0.6" fill="#000" opacity="0.67"/>
<circle cx="82.96" cy="281.45" r="0.6" fill="#000" opacity="0.68"/>
<circle cx="81.96" cy="281.21" r="0.6" fill="#000" opacity="0.53"/>
<circle cx="77.07" cy="281.59" r="0.6" fill="#000" opacity="0.94"/>
<circle cx="81.76" cy="284.41" r="0.6" fill="#000" opacity="0.86"/>
<circle cx="80.12" cy="285.19" r="0.6" fill="#000" opacity="0.76"/>
<circle cx="81.93" cy="282.81" r="0.6" fill="#000" opacity="0.91"/>
<circle cx="84.30" cy="273.85" r="0.6" fill="#000" opacity="0.51"/>
<circle cx="78.16" cy="275.02" r="0.6" fill="#000" opacity="0.64"/>
<circle cx="80.25" cy="286.88" r="0.6" fill="#000" opacity="0.66"/>
<circle cx="81.74" cy="277.90" r="0.6" fill="#000" opacity="0.89"/>
<circle cx="79.28" cy="276.73" r="0.6" fill="#000" opacity="0.82"/>
<circle cx="83.01" cy="275.31" r="0.6" fill="#000" opacity="0.63"/>
<circle cx="82.32" cy="283.50" r="0.6" fill="#000" opacity="0.84"/>
<circle cx="78.70" cy="278.96" r="0.6" fill="#000" opacity="0.79"/>
<circle cx="79.40" cy="276.57" r="0.6" fill="#000" opacity="0.81"/>
<circle cx="77.25" cy="271.81" r="0.6" fill="#000" opacity="0.51"/>
<circle cx="83.56" cy="277.10" r="0.6" fill="#000" opacity="0.56"/>
<circle cx="81.14" cy="283.66" r="0.6" fill="#000" opacity="0.78"/>
<circle cx="77.91" cy="279.07" r="0.6" fill="#000" opacity="0.89"/>
<circle cx="76.91" cy="280.78" r="0.6" fill="#000" opacity="0.82"/>
<circle cx="80.72" cy="278.06" r="0.6" fill="#000" opacity="0.54"/>
<circle cx="75.69" cy="283.63" r="0.6" fill="#000" opacity="0.90"/>
<circle cx="78.72" cy="280.38" r="0.6" fill="#000" opacity="0.79"/>
<circle cx="82.26" cy="273.80" r="0.6" fill="#000" opacity="0.58"/>
<circle cx="82.47" cy="280.98" r="0.6" fill="#000" opacity="0.61"/>
<circle cx="80.58" cy="272.64" r="0.5" fill="#222" opacity="0.50"/>
<circle cx="82.22" cy="287.64" r="0.5" fill="#222" opacity="0.78"/>
<circle cx="71.93" cy="287.04" r="0.5" fill="#222" opacity="0.32"/>
<circle cx="76.96" cy="280.60" r="0.5" fill="#222" opacity="0.55"/>
<circle cx="73.07" cy="275.33" r="0.5" fill="#222" opacity="0.56"/>
<circle cx="82.78" cy="276.32" r="0.5" fill="#222" opacity="0.36"/>
<circle cx="72.89" cy="284.07" r="0.5" fill="#222" opacity="0.65"/>
<circle cx="83.39" cy="280.62" r="0.5" fill="#222" opacity="0.43"/>
<circle cx="71.00" cy="284.56" r="0.5" fill="#222" opacity="0.44"/>
<circle cx="89.42" cy="281.52" r="0.5" fill="#222" opacity="0.73"/>
<circle cx="80.17" cy="278.96" r="0.5" fill="#222" opacity="0.43"/>
<circle cx="84.53" cy="290.14" r="0.5" fill="#222" opacity="0.36"/>
<circle cx="82.26" cy="282.69" r="0.5" fill="#222" opacity="0.70"/>
<circle cx="84.22" cy="294.10" r="0.5" fill="#222" opacity="0.45"/>
<circle cx="78.24" cy="278.07" r="0.5" fill="#222" opacity="0.45"/>
<circle cx="90.58" cy="263.98" r="0.5" fill="#222" opacity="0.42"/>
<circle cx="79.07" cy="282.22" r="0.5" fill="#222" opacity="0.40"/>
<circle cx="75.84" cy="285.85" r="0.5" fill="#222" opacity="0.59"/>
<circle cx="78.42" cy="283.44" r="0.5" fill="#222" opacity="0.58"/>
<circle cx="77.54" cy="285.12" r="0.5" fill="#222" opacity="0.79"/>
<circle cx="79.31" cy="280.17" r="0.5" fill="#222" opacity="0.78"/>
<circle cx="84.49" cy="278.41" r="0.5" fill="#222" opacity="0.79"/>
<circle cx="88.14" cy="285.95" r="0.5" fill="#222" opacity="0.38"/>
<circle cx="84.54" cy="273.30" r="0.5" fill="#222" opacity="0.78"/>
<circle cx="77.84" cy="288.45" r="0.5" fill="#222" opacity="0.77"/>
<circle cx="82.03" cy="282.51" r="0.5" fill="#222" opacity="0.58"/>
<circle cx="81.03" cy="281.60" r="0.5" fill="#222" opacity="0.31"/>
<circle cx="76.19" cy="287.82" r="0.5" fill="#222" opacity="0.53"/>
<circle cx="79.16" cy="279.94" r="0.5" fill="#222" opacity="0.35"/>
<circle cx="77.54" cy="279.83" r="0.5" fill="#222" opacity="0.31"/>
<circle cx="86.19" cy="281.98" r="0.5" fill="#222" opacity="0.78"/>
<circle cx="79.48" cy="280.64" r="0.5" fill="#222" opacity="0.40"/>
<circle cx="76.59" cy="272.63" r="0.5" fill="#222" opacity="0.40"/>
<circle cx="78.77" cy="281.09" r="0.5" fill="#222" opacity="0.57"/>
<circle cx="80.21" cy="274.11" r="0.5" fill="#222" opacity="0.69"/>
<circle cx="80.67" cy="288.28" r="0.5" fill="#222" opacity="0.54"/>
<circle cx="78.58" cy="279.57" r="0.5" fill="#222" opacity="0.53"/>
<circle cx="77.55" cy="278.39" r="0.5" fill="#222" opacity="0.58"/>
<circle cx="84.75" cy="280.06" r="0.5" fill="#222" opacity="0.77"/>
<circle cx="76.71" cy="276.18" r="0.5" fill="#222" opacity="0.74"/>
<circle cx="78.10" cy="274.93" r="0.5" fill="#222" opacity="0.49"/>
<circle cx="84.16" cy="274.55" r="0.5" fill="#222" opacity="0.54"/>
<circle cx="78.17" cy="283.18" r="0.5" fill="#222" opacity="0.40"/>
<circle cx="75.43" cy="277.57" r="0.5" fill="#222" opacity="0.69"/>
<circle cx="75.70" cy="283.20" r="0.5" fill="#222" opacity="0.58"/>
<circle cx="79.90" cy="294.28" r="0.5" fill="#222" opacity="0.62"/>
<circle cx="78.32" cy="286.85" r="0.5" fill="#222" opacity="0.72"/>
<circle cx="86.80" cy="276.34" r="0.5" fill="#222" opacity="0.74"/>
<circle cx="81.53" cy="275.30" r="0.5" fill="#222" opacity="0.51"/>
<circle cx="78.53" cy="281.23" r="0.5" fill="#222" opacity="0.60"/>
<circle cx="72.34" cy="279.27" r="0.5" fill="#222" opacity="0.47"/>
<circle cx="87.46" cy="277.46" r="0.5" fill="#222" opacity="0.59"/>
<circle cx="81.50" cy="292.58" r="0.5" fill="#222" opacity="0.64"/>
<circle cx="77.99" cy="278.34" r="0.5" fill="#222" opacity="0.40"/>
<circle cx="83.41" cy="291.06" r="0.5" fill="#222" opacity="0.52"/>
<circle cx="77.87" cy="273.13" r="0.5" fill="#222" opacity="0.71"/>
<circle cx="79.25" cy="284.19" r="0.5" fill="#222" opacity="0.78"/>
<circle cx="92.08" cy="294.88" r="0.5" fill="#222" opacity="0.50"/>
<circle cx="83.86" cy="280.19" r="0.5" fill="#222" opacity="0.68"/>
<circle cx="77.91" cy="282.65" r="0.5" fill="#222" opacity="0.34"/>
<circle cx="85.71" cy="281.28" r="0.5" fill="#222" opacity="0.48"/>
<circle cx="78.96" cy="278.24" r="0.5" fill="#222" opacity="0.44"/>
<circle cx="76.15" cy="279.84" r="0.5" fill="#222" opacity="0.65"/>
<circle cx="79.48" cy="289.59" r="0.5" fill="#222" opacity="0.63"/>
<circle cx="73.88" cy="286.36" r="0.5" fill="#222" opacity="0.47"/>
<circle cx="86.64" cy="274.67" r="0.5" fill="#222" opacity="0.44"/>
<circle cx="83.81" cy="273.47" r="0.5" fill="#222" opacity="0.73"/>
<circle cx="77.47" cy="269.54" r="0.5" fill="#222" opacity="0.57"/>
<circle cx="75.80" cy="288.79" r="0.5" fill="#222" opacity="0.76"/>
<circle cx="72.79" cy="280.89" r="0.5" fill="#222" opacity="0.60"/>
<circle cx="78.47" cy="283.99" r="0.5" fill="#222" opacity="0.61"/>
<circle cx="82.50" cy="284.99" r="0.5" fill="#222" opacity="0.69"/>
<circle cx="76.41" cy="285.26" r="0.5" fill="#222" opacity="0.78"/>
<circle cx="75.16" cy="278.04" r="0.5" fill="#222" opacity="0.40"/>
<circle cx="79.97" cy="275.34" r="0.5" fill="#222" opacity="0.66"/>
<circle cx="88.32" cy="275.59" r="0.5" fill="#222" opacity="0.41"/>
<circle cx="86.13" cy="275.57" r="0.5" fill="#222" opacity="0.39"/>
<circle cx="83.34" cy="280.80" r="0.5" fill="#222" opacity="0.59"/>
<circle cx="79.57" cy="280.65" r="0.5" fill="#222" opacity="0.77"/>
<circle cx="88.03" cy="282.75" r="0.5" fill="#222" opacity="0.55"/>
<circle cx="82.54" cy="270.54" r="0.5" fill="#222" opacity="0.65"/>
<circle cx="76.00" cy="285.99" r="0.5" fill="#222" opacity="0.40"/>
<circle cx="79.92" cy="281.66" r="0.5" fill="#222" opacity="0.48"/>
<circle cx="85.98" cy="274.09" r="0.5" fill="#222" opacity="0.33"/>
<circle cx="77.30" cy="285.97" r="0.5" fill="#222" opacity="0.56"/>
<circle cx="71.25" cy="281.94" r="0.5" fill="#222" opacity="0.40"/>
<circle cx="75.78" cy="275.50" r="0.5" fill="#222" opacity="0.31"/>
<circle cx="81.34" cy="282.38" r="0.5" fill="#222" opacity="0.61"/>
<circle cx="85.99" cy="270.42" r="0.5" fill="#222" opacity="0.72"/>
<circle cx="73.90" cy="279.73" r="0.5" fill="#222" opacity="0.63"/>
<circle cx="127.06" cy="281.01" r="0.6" fill="#000" opacity="0.51"/>
<circle cx="133.74" cy="277.48" r="0.6" fill="#000" opacity="0.79"/>
<circle cx="132.35" cy="278.77" r="0.6" fill="#000" opacity="0.86"/>
<circle cx="130.39" cy="280.64" r="0.6" fill="#000" opacity="0.82"/>
<circle cx="127.03" cy="279.30" r="0.6" fill="#000" opacity="0.87"/>
<circle cx="129.09" cy="278.13" r="0.6" fill="#000" opacity="0.92"/>
<circle cx="131.68" cy="284.60" r="0.6" fill="#000" opacity="0.79"/>
<circle cx="127.92" cy="273.63" r="0.6" fill="#000" opacity="0.82"/>
<circle cx="125.55" cy="282.05" r="0.6" fill="#000" opacity="0.56"/>
<circle cx="131.36" cy="294.36" r="0.6" fill="#000" opacity="0.82"/>
<circle cx="128.93" cy="279.22" r="0.6" fill="#000" opacity="0.53"/>
<circle cx="129.66" cy="284.96" r="0.6" fill="#000" opacity="0.61"/>
<circle cx="129.79" cy="283.25" r="0.6" fill="#000" opacity="0.87"/>
<circle cx="131.12" cy="282.70" r="0.6" fill="#000" opacity="0.73"/>
<circle cx="130.80" cy="285.59" r="0.6" fill="#000" opacity="0.83"/>
<circle cx="127.71" cy="277.21" r="0.6" fill="#000" opacity="0.94"/>
<circle cx="130.51" cy="287.96" r="0.6" fill="#000" opacity="0.65"/>
<circle cx="131.04" cy="285.91" r="0.6" fill="#000" opacity="0.66"/>
<circle cx="127.08" cy="284.90" r="0.6" fill="#000" opacity="0.94"/>
<circle cx="131.73" cy="281.16" r="0.6" fill="#000" opacity="0.61"/>
<circle cx="136.31" cy="276.18" r="0.6" fill="#000" opacity="0.74"/>
<circle cx="131.17" cy="284.04" r="0.6" fill="#000" opacity="0.51"/>
<circle cx="135.23" cy="278.56" r="0.6" fill="#000" opacity="0.76"/>
<circle cx="129.36" cy="280.11" r="0.6" fill="#000" opacity="0.73"/>
<circle cx="131.89" cy="288.94" r="0.6" fill="#000" opacity="0.78"/>
<circle cx="129.86" cy="281.70" r="0.6" fill="#000" opacity="0.52"/>
<circle cx="135.45" cy="281.27" r="0.6" fill="#000" opacity="0.92"/>
<circle cx="128.49" cy="277.64" r="0.6" fill="#000" opacity="0.68"/>
<circle cx="129.19" cy="283.46" r="0.6" fill="#000" opacity="0.89"/>
<circle cx="135.54" cy="282.28" r="0.6" fill="#000" opacity="0.90"/>
<circle cx="132.08" cy="288.00" r="0.6" fill="#000" opacity="0.70"/>
<circle cx="131.93" cy="279.90" r="0.6" fill="#000" opacity="0.75"/>
<circle cx="128.65" cy="282.82" r="0.6" fill="#000" opacity="0.66"/>
<circle cx="130.70" cy="288.06" r="0.6" fill="#000" opacity="0.78"/>
<circle cx="130.37" cy="281.51" r="0.6" fill="#000" opacity="0.92"/>
<circle cx="129.59" cy="279.36" r="0.6" fill="#000" opacity="0.91"/>
<circle cx="132.21" cy="281.50" r="0.6" fill="#000" opacity="0.71"/>
<circle cx="133.50" cy="287.65" r="0.6" fill="#000" opacity="0.77"/>
<circle cx="132.34" cy="287.45" r="0.6" fill="#000" opacity="0.89"/>
<circle cx="128.85" cy="281.05" r="0.6" fill="#000" opacity="0.58"/>
<circle cx="133.40" cy="282.48" r="0.6" fill="#000" opacity="0.88"/>
<circle cx="130.04" cy="284.15" r="0.6" fill="#000" opacity="0.54"/>
<circle cx="138.51" cy="277.76" r="0.6" fill="#000" opacity="0.53"/>
<circle cx="130.97" cy="281.29" r="0.6" fill="#000" opacity="0.89"/>
<circle cx="128.16" cy="284.54" r="0.6" fill="#000" opacity="0.88"/>
<circle cx="128.57" cy="279.24" r="0.6" fill="#000" opacity="0.72"/>
<circle cx="132.23" cy="274.82" r="0.6" fill="#000" opacity="0.78"/>
<circle cx="133.87" cy="283.15" r="0.6" fill="#000" opacity="0.92"/>
<circle cx="130.35" cy="283.50" r="0.6" fill="#000" opacity="0.81"/>
<circle cx="131.10" cy="277.39" r="0.6" fill="#000" opacity="0.75"/>
<circle cx="136.49" cy="283.38" r="0.6" fill="#000" opacity="0.70"/>
<circle cx="131.18" cy="282.45" r="0.6" fill="#000" opacity="0.92"/>
<circle cx="132.81" cy="291.83" r="0.6" fill="#000" opacity="0.73"/>
<circle cx="130.80" cy="281.07" r="0.6" fill="#000" opacity="0.85"/>
<circle cx="127.77" cy="280.77" r="0.6" fill="#000" opacity="0.66"/>
<circle cx="131.01" cy="289.84" r="0.6" fill="#000" opacity="0.71"/>
<circle cx="130.96" cy="275.71" r="0.6" fill="#000" opacity="0.68"/>
<circle cx="133.11" cy="282.79" r="0.6" fill="#000" opacity="0.61"/>
<circle cx="132.38" cy="290.27" r="0.6" fill="#000" opacity="0.68"/>
<circle cx="130.82" cy="282.58" r="0.6" fill="#000" opacity="0.70"/>
<circle cx="128.94" cy="289.01" r="0.6" fill="#000" opacity="0.83"/>
<circle cx="128.43" cy="277.63" r="0.6" fill="#000" opacity="0.93"/>
<circle cx="129.93" cy="284.43" r="0.6" fill="#000" opacity="0.62"/>
<circle cx="130.15" cy="291.27" r="0.6" fill="#000" opacity="0.58"/>
<circle cx="127.48" cy="276.95" r="0.6" fill="#000" opacity="0.74"/>
<circle cx="130.54" cy="281.34" r="0.6" fill="#000" opacity="0.88"/>
<circle cx="132.12" cy="282.11" r="0.6" fill="#000" opacity="0.60"/>
<circle cx="129.25" cy="280.68" r="0.6" fill="#000" opacity="0.57"/>
<circle cx="132.43" cy="288.17" r="0.6" fill="#000" opacity="0.74"/>
<circle cx="130.48" cy="280.04" r="0.6" fill="#000" opacity="0.78"/>
<circle cx="128.12" cy="283.88" r="0.6" fill="#000" opacity="0.88"/>
<circle cx="129.24" cy="285.53" r="0.6" fill="#000" opacity="0.56"/>
<circle cx="127.36" cy="286.19" r="0.6" fill="#000" opacity="0.70"/>
<circle cx="130.83" cy="282.18" r="0.6" fill="#000" opacity="0.79"/>
<circle cx="132.40" cy="278.00" r="0.6" fill="#000" opacity="0.78"/>
<circle cx="128.54" cy="287.32" r="0.6" fill="#000" opacity="0.80"/>
<circle cx="132.35" cy="281.78" r="0.6" fill="#000" opacity="0.87"/>
<circle cx="127.69" cy="283.88" r="0.6" fill="#000" opacity="0.66"/>
<circle cx="128.52" cy="283.54" r="0.6" fill="#000" opacity="0.61"/>
<circle cx="132.30" cy="285.74" r="0.6" fill="#000" opacity="0.56"/>
<circle cx="118.01" cy="294.28" r="0.5" fill="#222" opacity="0.65"/>
<circle cx="137.85" cy="283.71" r="0.5" fill="#222" opacity="0.38"/>
<circle cx="141.29" cy="283.38" r="0.5" fill="#222" opacity="0.79"/>
<circle cx="122.86" cy="283.01" r="0.5" fill="#222" opacity="0.37"/>
<circle cx="135.00" cy="284.12" r="0.5" fill="#222" opacity="0.33"/>
<circle cx="131.53" cy="279.25" r="0.5" fill="#222" opacity="0.53"/>
<circle cx="134.58" cy="282.99" r="0.5" fill="#222" opacity="0.47"/>
<circle cx="126.20" cy="283.14" r="0.5" fill="#222" opacity="0.58"/>
<circle cx="128.29" cy="281.08" r="0.5" fill="#222" opacity="0.58"/>
<circle cx="137.81" cy="285.81" r="0.5" fill="#222" opacity="0.71"/>
<circle cx="141.86" cy="276.15" r="0.5" fill="#222" opacity="0.59"/>
<circle cx="139.36" cy="278.01" r="0.5" fill="#222" opacity="0.63"/>
<circle cx="132.61" cy="282.74" r="0.5" fill="#222" opacity="0.43"/>
<circle cx="140.71" cy="273.49" r="0.5" fill="#222" opacity="0.71"/>
<circle cx="127.23" cy="283.55" r="0.5" fill="#222" opacity="0.49"/>
<circle cx="134.94" cy="280.27" r="0.5" fill="#222" opacity="0.74"/>
<circle cx="125.53" cy="279.21" r="0.5" fill="#222" opacity="0.43"/>
<circle cx="130.38" cy="286.66" r="0.5" fill="#222" opacity="0.71"/>
<circle cx="136.43" cy="282.62" r="0.5" fill="#222" opacity="0.63"/>
<circle cx="130.48" cy="285.91" r="0.5" fill="#222" opacity="0.80"/>
<circle cx="125.01" cy="298.44" r="0.5" fill="#222" opacity="0.58"/>
<circle cx="129.79" cy="277.52" r="0.5" fill="#222" opacity="0.57"/>
<circle cx="121.69" cy="289.03" r="0.5" fill="#222" opacity="0.36"/>
<circle cx="124.15" cy="288.47" r="0.5" fill="#222" opacity="0.75"/>
<circle cx="143.47" cy="286.16" r="0.5" fill="#222" opacity="0.35"/>
<circle cx="128.77" cy="287.85" r="0.5" fill="#222" opacity="0.40"/>
<circle cx="132.67" cy="280.52" r="0.5" fill="#222" opacity="0.48"/>
<circle cx="121.42" cy="286.08" r="0.5" fill="#222" opacity="0.32"/>
<circle cx="121.17" cy="278.56" r="0.5" fill="#222" opacity="0.30"/>
<circle cx="119.60" cy="292.47" r="0.5" fill="#222" opacity="0.35"/>
<circle cx="128.63" cy="289.63" r="0.5" fill="#222" opacity="0.67"/>
<circle cx="127.38" cy="282.04" r="0.5" fill="#222" opacity="0.72"/>
<circle cx="130.72" cy="279.68" r="0.5" fill="#222" opacity="0.49"/>
<circle cx="144.48" cy="283.16" r="0.5" fill="#222" opacity="0.70"/>
<circle cx="126.27" cy="278.94" r="0.5" fill="#222" opacity="0.33"/>
<circle cx="129.33" cy="286.49" r="0.5" fill="#222" opacity="0.59"/>
<circle cx="130.80" cy="274.80" r="0.5" fill="#222" opacity="0.63"/>
<circle cx="125.24" cy="282.58" r="0.5" fill="#222" opacity="0.60"/>
<circle cx="121.17" cy="281.71" r="0.5" fill="#222" opacity="0.74"/>
<circle cx="134.54" cy="276.58" r="0.5" fill="#222" opacity="0.64"/>
<circle cx="123.69" cy="282.54" r="0.5" fill="#222" opacity="0.52"/>
<circle cx="129.82" cy="287.53" r="0.5" fill="#222" opacity="0.72"/>
<circle cx="125.64" cy="276.48" r="0.5" fill="#222" opacity="0.58"/>
<circle cx="137.69" cy="269.70" r="0.5" fill="#222" opacity="0.78"/>
<circle cx="126.25" cy="277.79" r="0.5" fill="#222" opacity="0.48"/>
<circle cx="132.88" cy="283.22" r="0.5" fill="#222" opacity="0.68"/>
<circle cx="133.31" cy="280.97" r="0.5" fill="#222" opacity="0.38"/>
<circle cx="133.67" cy="293.15" r="0.5" fill="#222" opacity="0.44"/>
<circle cx="131.07" cy="280.37" r="0.5" fill="#222" opacity="0.80"/>
<circle cx="122.85" cy="287.48" r="0.5" fill="#222" opacity="0.66"/>
<circle cx="128.18" cy="288.34" r="0.5" fill="#222" opacity="0.73"/>
<circle cx="126.74" cy="290.25" r="0.5" fill="#222" opacity="0.33"/>
<circle cx="136.63" cy="284.99" r="0.5" fill="#222" opacity="0.74"/>
<circle cx="131.72" cy="285.49" r="0.5" fill="#222" opacity="0.68"/>
<circle cx="132.06" cy="290.66" r="0.5" fill="#222" opacity="0.50"/>
<circle cx="134.00" cy="287.97" r="0.5" fill="#222" opacity="0.46"/>
<circle cx="131.79" cy="269.85" r="0.5" fill="#222" opacity="0.50"/>
<circle cx="125.64" cy="281.75" r="0.5" fill="#222" opacity="0.48"/>
<circle cx="138.67" cy="280.19" r="0.5" fill="#222" opacity="0.57"/>
<circle cx="130.00" cy="274.18" r="0.5" fill="#222" opacity="0.43"/>
<circle cx="119.93" cy="288.26" r="0.5" fill="#222" opacity="0.73"/>
<circle cx="130.95" cy="282.37" r="0.5" fill="#222" opacity="0.74"/>
<circle cx="118.71" cy="280.43" r="0.5" fill="#222" opacity="0.37"/>
<circle cx="123.24" cy="276.14" r="0.5" fill="#222" opacity="0.41"/>
<circle cx="129.50" cy="283.74" r="0.5" fill="#222" opacity="0.65"/>
<circle cx="137.62" cy="281.66" r="0.5" fill="#222" opacity="0.54"/>
<circle cx="136.08" cy="292.41" r="0.5" fill="#222" opacity="0.78"/>
<circle cx="130.99" cy="289.91" r="0.5" fill="#222" opacity="0.37"/>
<circle cx="135.17" cy="283.73" r="0.5" fill="#222" opacity="0.37"/>
<circle cx="126.91" cy="287.33" r="0.5" fill="#222" opacity="0.34"/>
<circle cx="124.52" cy="278.40" r="0.5" fill="#222" opacity="0.59"/>
<circle cx="128.37" cy="279.40" r="0.5" fill="#222" opacity="0.56"/>
<circle cx="120.20" cy="295.08" r="0.5" fill="#222" opacity="0.60"/>
<circle cx="127.31" cy="285.78" r="0.5" fill="#222" opacity="0.75"/>
<circle cx="129.36" cy="282.49" r="0.5" fill="#222" opacity="0.50"/>
<circle cx="124.83" cy="276.65" r="0.5" fill="#222" opacity="0.49"/>
<circle cx="129.09" cy="281.87" r="0.5" fill="#222" opacity="0.52"/>
<circle cx="135.64" cy="283.05" r="0.5" fill="#222" opacity="0.61"/>
<circle cx="139.09" cy="287.69" r="0.5" fill="#222" opacity="0.60"/>
<circle cx="130.54" cy="295.43" r="0.5" fill="#222" opacity="0.35"/>
<circle cx="127.08" cy="280.53" r="0.5" fill="#222" opacity="0.42"/>
<circle cx="132.76" cy="290.82" r="0.5" fill="#222" opacity="0.62"/>
<circle cx="134.05" cy="285.35" r="0.5" fill="#222" opacity="0.73"/>
<circle cx="128.52" cy="288.10" r="0.5" fill="#222" opacity="0.66"/>
<circle cx="125.34" cy="284.83" r="0.5" fill="#222" opacity="0.50"/>
<circle cx="137.45" cy="281.34" r="0.5" fill="#222" opacity="0.79"/>
<circle cx="120.29" cy="278.43" r="0.5" fill="#222" opacity="0.70"/>
<circle cx="127.25" cy="289.53" r="0.5" fill="#222" opacity="0.40"/>
<circle cx="134.60" cy="283.37" r="0.5" fill="#222" opacity="0.67"/>
<circle cx="133.50" cy="271.65" r="0.5" fill="#222" opacity="0.38"/>
<circle cx="131.05" cy="287.49" r="0.5" fill="#222" opacity="0.41"/>
<circle cx="130.75" cy="292.08" r="0.5" fill="#222" opacity="0.67"/>
<circle cx="132.17" cy="281.69" r="0.5" fill="#222" opacity="0.52"/>
<circle cx="139.86" cy="286.28" r="0.5" fill="#222" opacity="0.39"/>
<circle cx="131.72" cy="284.28" r="0.5" fill="#222" opacity="0.63"/>
<circle cx="135.39" cy="275.68" r="0.5" fill="#222" opacity="0.61"/>
<circle cx="130.71" cy="287.96" r="0.5" fill="#222" opacity="0.60"/>
<circle cx="131.23" cy="274.55" r="0.5" fill="#222" opacity="0.41"/>
<circle cx="127.16" cy="286.04" r="0.5" fill="#222" opacity="0.51"/>
<circle cx="131.87" cy="276.82" r="0.5" fill="#222" opacity="0.56"/>
<circle cx="124.94" cy="279.87" r="0.5" fill="#222" opacity="0.42"/>
<circle cx="134.45" cy="278.64" r="0.5" fill="#222" opacity="0.49"/>
<circle cx="138.52" cy="288.61" r="0.5" fill="#222" opacity="0.63"/>
<circle cx="135.24" cy="288.41" r="0.5" fill="#222" opacity="0.67"/>
<circle cx="129.19" cy="285.31" r="0.5" fill="#222" opacity="0.75"/>
<circle cx="183.03" cy="280.42" r="0.6" fill="#000" opacity="0.63"/>
<circle cx="183.69" cy="273.85" r="0.6" fill="#000" opacity="0.84"/>
<circle cx="181.54" cy="283.94" r="0.6" fill="#000" opacity="0.82"/>
<circle cx="186.95" cy="279.19" r="0.6" fill="#000" opacity="0.78"/>
<circle cx="182.94" cy="281.51" r="0.6" fill="#000" opacity="0.72"/>
<circle cx="184.83" cy="264.92" r="0.6" fill="#000" opacity="0.54"/>
<circle cx="180.05" cy="290.85" r="0.6" fill="#000" opacity="0.62"/>
<circle cx="183.08" cy="270.33" r="0.6" fill="#000" opacity="0.81"/>
<circle cx="182.43" cy="276.24" r="0.6" fill="#000" opacity="0.94"/>
<circle cx="184.13" cy="266.55" r="0.6" fill="#000" opacity="0.81"/>
<circle cx="185.11" cy="272.32" r="0.6" fill="#000" opacity="0.54"/>
<circle cx="182.53" cy="282.58" r="0.6" fill="#000" opacity="0.94"/>
<circle cx="183.15" cy="279.39" r="0.6" fill="#000" opacity="0.90"/>
<circle cx="183.99" cy="270.22" r="0.6" fill="#000" opacity="0.67"/>
<circle cx="184.08" cy="283.24" r="0.6" fill="#000" opacity="0.85"/>
<circle cx="183.37" cy="275.79" r="0.6" fill="#000" opacity="0.73"/>
<circle cx="188.08" cy="276.11" r="0.6" fill="#000" opacity="0.84"/>
<circle cx="188.25" cy="278.42" r="0.6" fill="#000" opacity="0.58"/>
<circle cx="181.66" cy="275.17" r="0.6" fill="#000" opacity="0.53"/>
<circle cx="180.87" cy="271.92" r="0.6" fill="#000" opacity="0.57"/>
<circle cx="185.25" cy="273.18" r="0.6" fill="#000" opacity="0.51"/>
<circle cx="183.14" cy="278.61" r="0.6" fill="#000" opacity="0.93"/>
<circle cx="181.95" cy="281.32" r="0.6" fill="#000" opacity="0.51"/>
<circle cx="181.78" cy="277.06" r="0.6" fill="#000" opacity="0.67"/>
<circle cx="181.42" cy="280.27" r="0.6" fill="#000" opacity="0.80"/>
<circle cx="181.11" cy="278.15" r="0.6" fill="#000" opacity="0.94"/>
<circle cx="179.90" cy="281.18" r="0.6" fill="#000" opacity="0.55"/>
<circle cx="179.17" cy="289.45" r="0.6" fill="#000" opacity="0.95"/>
<circle cx="183.96" cy="289.31" r="0.6" fill="#000" opacity="0.66"/>
<circle cx="182.40" cy="272.72" r="0.6" fill="#000" opacity="0.87"/>
<circle cx="182.29" cy="277.76" r="0.6" fill="#000" opacity="0.91"/>
<circle cx="182.67" cy="287.55" r="0.6" fill="#000" opacity="0.78"/>
<circle cx="182.23" cy="279.60" r="0.6" fill="#000" opacity="0.95"/>
<circle cx="184.32" cy="283.78" r="0.6" fill="#000" opacity="0.78"/>
<circle cx="183.24" cy="270.17" r="0.6" fill="#000" opacity="0.86"/>
<circle cx="181.99" cy="277.29" r="0.6" fill="#000" opacity="0.60"/>
<circle cx="180.96" cy="285.65" r="0.6" fill="#000" opacity="0.79"/>
<circle cx="182.67" cy="279.44" r="0.6" fill="#000" opacity="0.76"/>
<circle cx="183.50" cy="287.45" r="0.6" fill="#000" opacity="0.85"/>
<circle cx="182.07" cy="290.38" r="0.6" fill="#000" opacity="0.79"/>
<circle cx="183.25" cy="272.46" r="0.6" fill="#000" opacity="0.62"/>
<circle cx="184.67" cy="275.68" r="0.6" fill="#000" opacity="0.79"/>
<circle cx="179.84" cy="283.88" r="0.6" fill="#000" opacity="0.83"/>
<circle cx="183.77" cy="276.91" r="0.6" fill="#000" opacity="0.79"/>
<circle cx="181.48" cy="275.27" r="0.6" fill="#000" opacity="0.84"/>
<circle cx="182.86" cy="291.16" r="0.6" fill="#000" opacity="0.71"/>
<circle cx="182.09" cy="285.93" r="0.6" fill="#000" opacity="0.60"/>
<circle cx="179.42" cy="282.41" r="0.6" fill="#000" opacity="0.90"/>
<circle cx="182.06" cy="270.56" r="0.6" fill="#000" opacity="0.84"/>
<circle cx="181.76" cy="277.50" r="0.6" fill="#000" opacity="0.91"/>
<circle cx="182.27" cy="284.14" r="0.6" fill="#000" opacity="0.54"/>
<circle cx="184.08" cy="282.81" r="0.6" fill="#000" opacity="0.67"/>
<circle cx="182.81" cy="277.13" r="0.6" fill="#000" opacity="0.77"/>
<circle cx="183.40" cy="281.55" r="0.6" fill="#000" opacity="0.67"/>
<circle cx="183.19" cy="274.33" r="0.6" fill="#000" opacity="0.78"/>
<circle cx="183.20" cy="281.57" r="0.6" fill="#000" opacity="0.67"/>
<circle cx="183.49" cy="274.54" r="0.6" fill="#000" opacity="0.65"/>
<circle cx="185.01" cy="275.51" r="0.6" fill="#000" opacity="0.73"/>
<circle cx="183.30" cy="280.44" r="0.6" fill="#000" opacity="0.67"/>
<circle cx="185.10" cy="283.19" r="0.6" fill="#000" opacity="0.63"/>
<circle cx="183.79" cy="273.64" r="0.6" fill="#000" opacity="0.52"/>
<circle cx="183.65" cy="282.85" r="0.6" fill="#000" opacity="0.51"/>
<circle cx="185.64" cy="282.10" r="0.6" fill="#000" opacity="0.54"/>
<circle cx="184.08" cy="272.03" r="0.6" fill="#000" opacity="0.70"/>
<circle cx="185.29" cy="279.79" r="0.6" fill="#000" opacity="0.60"/>
<circle cx="187.31" cy="279.13" r="0.6" fill="#000" opacity="0.87"/>
<circle cx="183.16" cy="275.21" r="0.6" fill="#000" opacity="0.76"/>
<circle cx="181.94" cy="289.83" r="0.6" fill="#000" opacity="0.75"/>
<circle cx="185.49" cy="277.73" r="0.6" fill="#000" opacity="0.61"/>
<circle cx="183.29" cy="285.95" r="0.6" fill="#000" opacity="0.61"/>
<circle cx="181.48" cy="281.36" r="0.6" fill="#000" opacity="0.86"/>
<circle cx="183.05" cy="275.33" r="0.6" fill="#000" opacity="0.54"/>
<circle cx="181.20" cy="270.70" r="0.6" fill="#000" opacity="0.61"/>
<circle cx="182.70" cy="282.92" r="0.6" fill="#000" opacity="0.63"/>
<circle cx="182.92" cy="272.41" r="0.6" fill="#000" opacity="0.86"/>
<circle cx="183.73" cy="274.45" r="0.6" fill="#000" opacity="0.71"/>
<circle cx="185.33" cy="267.62" r="0.6" fill="#000" opacity="0.93"/>
<circle cx="182.39" cy="287.01" r="0.6" fill="#000" opacity="0.50"/>
<circle cx="180.55" cy="273.14" r="0.6" fill="#000" opacity="0.76"/>
<circle cx="182.61" cy="276.44" r="0.6" fill="#000" opacity="0.56"/>
<circle cx="182.82" cy="281.56" r="0.6" fill="#000" opacity="0.82"/>
<circle cx="184.60" cy="272.41" r="0.6" fill="#000" opacity="0.91"/>
<circle cx="185.31" cy="273.13" r="0.6" fill="#000" opacity="0.53"/>
<circle cx="184.77" cy="272.02" r="0.6" fill="#000" opacity="0.52"/>
<circle cx="181.44" cy="281.72" r="0.6" fill="#000" opacity="0.71"/>
<circle cx="184.05" cy="289.13" r="0.6" fill="#000" opacity="0.78"/>
<circle cx="185.48" cy="273.14" r="0.6" fill="#000" opacity="0.78"/>
<circle cx="185.18" cy="271.08" r="0.6" fill="#000" opacity="0.93"/>
<circle cx="184.20" cy="277.49" r="0.6" fill="#000" opacity="0.86"/>
<circle cx="181.68" cy="275.88" r="0.6" fill="#000" opacity="0.63"/>
<circle cx="183.53" cy="272.80" r="0.5" fill="#222" opacity="0.45"/>
<circle cx="185.81" cy="277.39" r="0.5" fill="#222" opacity="0.67"/>
<circle cx="181.52" cy="279.76" r="0.5" fill="#222" opacity="0.31"/>
<circle cx="184.42" cy="276.22" r="0.5" fill="#222" opacity="0.55"/>
<circle cx="179.17" cy="279.41" r="0.5" fill="#222" opacity="0.42"/>
<circle cx="180.78" cy="285.47" r="0.5" fill="#222" opacity="0.52"/>
<circle cx="190.00" cy="265.63" r="0.5" fill="#222" opacity="0.33"/>
<circle cx="182.86" cy="279.56" r="0.5" fill="#222" opacity="0.56"/>
<circle cx="180.48" cy="272.45" r="0.5" fill="#222" opacity="0.34"/>
<circle cx="181.90" cy="282.42" r="0.5" fill="#222" opacity="0.67"/>
<circle cx="185.14" cy="268.06" r="0.5" fill="#222" opacity="0.56"/>
<circle cx="187.54" cy="270.12" r="0.5" fill="#222" opacity="0.40"/>
<circle cx="187.69" cy="270.36" r="0.5" fill="#222" opacity="0.74"/>
<circle cx="179.55" cy="286.17" r="0.5" fill="#222" opacity="0.62"/>
<circle cx="181.41" cy="278.11" r="0.5" fill="#222" opacity="0.40"/>
<circle cx="182.49" cy="279.36" r="0.5" fill="#222" opacity="0.32"/>
<circle cx="180.04" cy="267.37" r="0.5" fill="#222" opacity="0.67"/>
<circle cx="176.32" cy="289.39" r="0.5" fill="#222" opacity="0.50"/>
<circle cx="186.17" cy="278.49" r="0.5" fill="#222" opacity="0.74"/>
<circle cx="188.54" cy="266.50" r="0.5" fill="#222" opacity="0.49"/>
<circle cx="184.94" cy="283.18" r="0.5" fill="#222" opacity="0.56"/>
<circle cx="181.87" cy="281.27" r="0.5" fill="#222" opacity="0.36"/>
<circle cx="182.37" cy="277.01" r="0.5" fill="#222" opacity="0.41"/>
<circle cx="183.16" cy="282.31" r="0.5" fill="#222" opacity="0.39"/>
<circle cx="184.92" cy="269.90" r="0.5" fill="#222" opacity="0.42"/>
<circle cx="183.99" cy="275.15" r="0.5" fill="#222" opacity="0.31"/>
<circle cx="182.87" cy="289.61" r="0.5" fill="#222" opacity="0.66"/>
<circle cx="190.92" cy="276.44" r="0.5" fill="#222" opacity="0.55"/>
<circle cx="177.21" cy="287.33" r="0.5" fill="#222" opacity="0.39"/>
<circle cx="180.43" cy="279.33" r="0.5" fill="#222" opacity="0.54"/>
<circle cx="181.99" cy="275.94" r="0.5" fill="#222" opacity="0.66"/>
<circle cx="177.19" cy="282.63" r="0.5" fill="#222" opacity="0.58"/>
<circle cx="180.89" cy="287.04" r="0.5" fill="#222" opacity="0.57"/>
<circle cx="179.05" cy="278.85" r="0.5" fill="#222" opacity="0.32"/>
<circle cx="183.62" cy="286.08" r="0.5" fill="#222" opacity="0.30"/>
<circle cx="181.45" cy="277.35" r="0.5" fill="#222" opacity="0.52"/>
<circle cx="181.74" cy="277.64" r="0.5" fill="#222" opacity="0.39"/>
<circle cx="180.66" cy="271.89" r="0.5" fill="#222" opacity="0.78"/>
<circle cx="188.59" cy="275.85" r="0.5" fill="#222" opacity="0.43"/>
<circle cx="177.15" cy="280.73" r="0.5" fill="#222" opacity="0.64"/>
<circle cx="184.63" cy="278.66" r="0.5" fill="#222" opacity="0.65"/>
<circle cx="184.01" cy="277.21" r="0.5" fill="#222" opacity="0.52"/>
<circle cx="185.27" cy="276.48" r="0.5" fill="#222" opacity="0.68"/>
<circle cx="180.12" cy="285.78" r="0.5" fill="#222" opacity="0.44"/>
<circle cx="175.82" cy="273.10" r="0.5" fill="#222" opacity="0.72"/>
<circle cx="177.67" cy="288.60" r="0.5" fill="#222" opacity="0.45"/>
<circle cx="177.51" cy="285.71" r="0.5" fill="#222" opacity="0.33"/>
<circle cx="178.40" cy="276.73" r="0.5" fill="#222" opacity="0.76"/>
<circle cx="179.98" cy="274.25" r="0.5" fill="#222" opacity="0.48"/>
<circle cx="183.86" cy="283.92" r="0.5" fill="#222" opacity="0.67"/>
<circle cx="177.42" cy="271.44" r="0.5" fill="#222" opacity="0.31"/>
<circle cx="182.39" cy="279.86" r="0.5" fill="#222" opacity="0.73"/>
<circle cx="184.21" cy="274.57" r="0.5" fill="#222" opacity="0.61"/>
<circle cx="182.34" cy="274.10" r="0.5" fill="#222" opacity="0.65"/>
<circle cx="179.85" cy="275.62" r="0.5" fill="#222" opacity="0.41"/>
<circle cx="181.00" cy="284.83" r="0.5" fill="#222" opacity="0.47"/>
<circle cx="175.46" cy="287.84" r="0.5" fill="#222" opacity="0.76"/>
<circle cx="179.31" cy="272.49" r="0.5" fill="#222" opacity="0.68"/>
<circle cx="188.46" cy="262.71" r="0.5" fill="#222" opacity="0.68"/>
<circle cx="183.45" cy="270.54" r="0.5" fill="#222" opacity="0.56"/>
<circle cx="187.64" cy="274.41" r="0.5" fill="#222" opacity="0.60"/>
<circle cx="187.09" cy="271.49" r="0.5" fill="#222" opacity="0.79"/>
<circle cx="186.27" cy="273.70" r="0.5" fill="#222" opacity="0.63"/>
<circle cx="184.24" cy="271.98" r="0.5" fill="#222" opacity="0.56"/>
<circle cx="175.54" cy="277.50" r="0.5" fill="#222" opacity="0.42"/>
<circle cx="175.74" cy="279.08" r="0.5" fill="#222" opacity="0.52"/>
<circle cx="184.30" cy="286.06" r="0.5" fill="#222" opacity="0.72"/>
<circle cx="184.20" cy="269.61" r="0.5" fill="#222" opacity="0.41"/>
<circle cx="184.59" cy="276.83" r="0.5" fill="#222" opacity="0.55"/>
<circle cx="181.13" cy="262.88" r="0.5" fill="#222" opacity="0.61"/>
<circle cx="185.08" cy="274.56" r="0.5" fill="#222" opacity="0.46"/>
<circle cx="185.33" cy="274.85" r="0.5" fill="#222" opacity="0.31"/>
<circle cx="178.51" cy="276.13" r="0.5" fill="#222" opacity="0.47"/>
<circle cx="181.77" cy="273.08" r="0.5" fill="#222" opacity="0.64"/>
<circle cx="184.28" cy="278.50" r="0.5" fill="#222" opacity="0.78"/>
<circle cx="180.46" cy="262.18" r="0.5" fill="#222" opacity="0.45"/>
<circle cx="179.25" cy="290.18" r="0.5" fill="#222" opacity="0.74"/>
<circle cx="181.63" cy="281.97" r="0.5" fill="#222" opacity="0.56"/>
<circle cx="191.52" cy="267.75" r="0.5" fill="#222" opacity="0.30"/>
<circle cx="186.73" cy="277.32" r="0.5" fill="#222" opacity="0.33"/>
<circle cx="185.09" cy="264.99" r="0.5" fill="#222" opacity="0.68"/>
<circle cx="183.58" cy="276.40" r="0.5" fill="#222" opacity="0.53"/>
<circle cx="184.28" cy="279.21" r="0.5" fill="#222" opacity="0.42"/>
<circle cx="183.17" cy="264.73" r="0.5" fill="#222" opacity="0.79"/>
<circle cx="180.75" cy="280.60" r="0.5" fill="#222" opacity="0.39"/>
<circle cx="182.39" cy="277.00" r="0.5" fill="#222" opacity="0.48"/>
<circle cx="181.02" cy="271.53" r="0.5" fill="#222" opacity="0.70"/>
<circle cx="181.82" cy="277.05" r="0.5" fill="#222" opacity="0.55"/>
<circle cx="187.16" cy="280.37" r="0.5" fill="#222" opacity="0.76"/>
<circle cx="178.29" cy="267.10" r="0.5" fill="#222" opacity="0.69"/>
<circle cx="238.08" cy="265.08" r="0.6" fill="#000" opacity="0.87"/>
<circle cx="239.94" cy="261.12" r="0.6" fill="#000" opacity="0.84"/>
<circle cx="235.67" cy="273.10" r="0.6" fill="#000" opacity="0.85"/>
<circle cx="231.97" cy="275.41" r="0.6" fill="#000" opacity="0.71"/>
<circle cx="231.06" cy="285.62" r="0.6" fill="#000" opacity="0.84"/>
<circle cx="232.95" cy="281.58" r="0.6" fill="#000" opacity="0.56"/>
<circle cx="237.82" cy="278.30" r="0.6" fill="#000" opacity="0.89"/>
<circle cx="232.83" cy="278.81" r="0.6" fill="#000" opacity="0.66"/>
<circle cx="238.67" cy="273.30" r="0.6" fill="#000" opacity="0.92"/>
<circle cx="233.66" cy="274.43" r="0.6" fill="#000" opacity="0.70"/>
<circle cx="234.85" cy="274.87" r="0.6" fill="#000" opacity="0.81"/>
<circle cx="229.45" cy="277.11" r="0.6" fill="#000" opacity="0.81"/>
<circle cx="232.61" cy="279.40" r="0.6" fill="#000" opacity="0.61"/>
<circle cx="237.56" cy="278.16" r="0.6" fill="#000" opacity="0.73"/>
<circle cx="236.84" cy="270.25" r="0.6" fill="#000" opacity="0.50"/>
<circle cx="232.49" cy="273.97" r="0.6" fill="#000" opacity="0.67"/>
<circle cx="238.76" cy="276.21" r="0.6" fill="#000" opacity="0.78"/>
<circle cx="229.05" cy="283.50" r="0.6" fill="#000" opacity="0.83"/>
<circle cx="232.38" cy="278.94" r="0.6" fill="#000" opacity="0.62"/>
<circle cx="230.70" cy="285.37" r="0.6" fill="#000" opacity="0.56"/>
<circle cx="234.63" cy="275.13" r="0.6" fill="#000" opacity="0.86"/>
<circle cx="234.74" cy="274.37" r="0.6" fill="#000" opacity="0.68"/>
<circle cx="236.34" cy="276.45" r="0.6" fill="#000" opacity="0.93"/>
<circle cx="234.63" cy="281.51" r="0.6" fill="#000" opacity="0.83"/>
<circle cx="232.07" cy="278.54" r="0.6" fill="#000" opacity="0.75"/>
<circle cx="234.77" cy="274.55" r="0.6" fill="#000" opacity="0.64"/>
<circle cx="226.93" cy="273.73" r="0.6" fill="#000" opacity="0.58"/>
<circle cx="234.77" cy="274.42" r="0.6" fill="#000" opacity="0.58"/>
<circle cx="238.29" cy="273.02" r="0.6" fill="#000" opacity="0.73"/>
<circle cx="228.17" cy="279.28" r="0.6" fill="#000" opacity="0.91"/>
<circle cx="230.61" cy="268.75" r="0.6" fill="#000" opacity="0.82"/>
<circle cx="234.90" cy="272.05" r="0.6" fill="#000" opacity="0.58"/>
<circle cx="237.13" cy="275.32" r="0.6" fill="#000" opacity="0.82"/>
<circle cx="231.02" cy="272.49" r="0.6" fill="#000" opacity="0.74"/>
<circle cx="234.30" cy="270.83" r="0.6" fill="#000" opacity="0.70"/>
<circle cx="231.90" cy="279.43" r="0.6" fill="#000" opacity="0.92"/>
<circle cx="233.21" cy="274.98" r="0.6" fill="#000" opacity="0.94"/>
<circle cx="237.27" cy="266.43" r="0.6" fill="#000" opacity="0.60"/>
<circle cx="232.86" cy="274.25" r="0.6" fill="#000" opacity="0.89"/>
<circle cx="240.25" cy="273.90" r="0.6" fill="#000" opacity="0.78"/>
<circle cx="230.86" cy="275.32" r="0.6" fill="#000" opacity="0.93"/>
<circle cx="235.47" cy="273.56" r="0.6" fill="#000" opacity="0.63"/>
<circle cx="231.70" cy="271.79" r="0.6" fill="#000" opacity="0.86"/>
<circle cx="228.82" cy="283.07" r="0.6" fill="#000" opacity="0.91"/>
<circle cx="238.53" cy="271.48" r="0.6" fill="#000" opacity="0.53"/>
<circle cx="234.79" cy="271.78" r="0.6" fill="#000" opacity="0.62"/>
<circle cx="232.16" cy="278.98" r="0.6" fill="#000" opacity="0.72"/>
<circle cx="229.40" cy="275.90" r="0.6" fill="#000" opacity="0.92"/>
<circle cx="232.12" cy="280.73" r="0.6" fill="#000" opacity="0.85"/>
<circle cx="232.62" cy="272.91" r="0.6" fill="#000" opacity="0.53"/>
<circle cx="236.84" cy="272.67" r="0.6" fill="#000" opacity="0.61"/>
<circle cx="233.24" cy="271.16" r="0.6" fill="#000" opacity="0.89"/>
<circle cx="233.48" cy="273.65" r="0.6" fill="#000" opacity="0.71"/>
<circle cx="232.06" cy="273.23" r="0.6" fill="#000" opacity="0.51"/>
<circle cx="231.81" cy="273.95" r="0.6" fill="#000" opacity="0.91"/>
<circle cx="232.06" cy="280.42" r="0.6" fill="#000" opacity="0.59"/>
<circle cx="235.47" cy="272.63" r="0.6" fill="#000" opacity="0.57"/>
<circle cx="235.58" cy="268.12" r="0.6" fill="#000" opacity="0.93"/>
<circle cx="235.20" cy="268.94" r="0.6" fill="#000" opacity="0.92"/>
<circle cx="236.63" cy="269.81" r="0.6" fill="#000" opacity="0.77"/>
<circle cx="231.02" cy="286.94" r="0.6" fill="#000" opacity="0.50"/>
<circle cx="231.23" cy="272.54" r="0.6" fill="#000" opacity="0.76"/>
<circle cx="231.17" cy="279.61" r="0.6" fill="#000" opacity="0.54"/>
<circle cx="236.59" cy="276.49" r="0.6" fill="#000" opacity="0.73"/>
<circle cx="231.82" cy="280.45" r="0.6" fill="#000" opacity="0.53"/>
<circle cx="235.05" cy="275.88" r="0.6" fill="#000" opacity="0.68"/>
<circle cx="234.33" cy="273.98" r="0.6" fill="#000" opacity="0.92"/>
<circle cx="236.34" cy="273.37" r="0.6" fill="#000" opacity="0.56"/>
<circle cx="237.74" cy="272.16" r="0.6" fill="#000" opacity="0.84"/>
<circle cx="233.92" cy="283.50" r="0.6" fill="#000" opacity="0.77"/>
<circle cx="237.97" cy="272.70" r="0.6" fill="#000" opacity="0.62"/>
<circle cx="233.21" cy="273.00" r="0.6" fill="#000" opacity="0.69"/>
<circle cx="236.71" cy="277.01" r="0.6" fill="#000" opacity="0.87"/>
<circle cx="237.59" cy="275.57" r="0.6" fill="#000" opacity="0.83"/>
<circle cx="234.41" cy="275.62" r="0.6" fill="#000" opacity="0.85"/>
<circle cx="231.65" cy="277.90" r="0.6" fill="#000" opacity="0.51"/>
<circle cx="235.64" cy="270.22" r="0.6" fill="#000" opacity="0.93"/>
<circle cx="235.23" cy="270.94" r="0.6" fill="#000" opacity="0.57"/>
<circle cx="229.20" cy="278.10" r="0.6" fill="#000" opacity="0.52"/>
<circle cx="237.89" cy="270.01" r="0.6" fill="#000" opacity="0.65"/>
<circle cx="233.43" cy="280.20" r="0.5" fill="#222" opacity="0.34"/>
<circle cx="235.97" cy="270.41" r="0.5" fill="#222" opacity="0.44"/>
<circle cx="237.92" cy="270.69" r="0.5" fill="#222" opacity="0.55"/>
<circle cx="236.30" cy="277.33" r="0.5" fill="#222" opacity="0.48"/>
<circle cx="236.62" cy="275.73" r="0.5" fill="#222" opacity="0.52"/>
<circle cx="236.04" cy="265.91" r="0.5" fill="#222" opacity="0.39"/>
<circle cx="225.28" cy="269.38" r="0.5" fill="#222" opacity="0.64"/>
<circle cx="232.76" cy="275.01" r="0.5" fill="#222" opacity="0.34"/>
<circle cx="236.09" cy="280.11" r="0.5" fill="#222" opacity="0.48"/>
<circle cx="236.29" cy="273.08" r="0.5" fill="#222" opacity="0.58"/>
<circle cx="233.84" cy="279.71" r="0.5" fill="#222" opacity="0.80"/>
<circle cx="234.14" cy="274.57" r="0.5" fill="#222" opacity="0.31"/>
<circle cx="232.64" cy="279.96" r="0.5" fill="#222" opacity="0.73"/>
<circle cx="237.78" cy="274.19" r="0.5" fill="#222" opacity="0.58"/>
<circle cx="237.44" cy="277.85" r="0.5" fill="#222" opacity="0.54"/>
<circle cx="230.80" cy="287.50" r="0.5" fill="#222" opacity="0.51"/>
<circle cx="234.94" cy="270.56" r="0.5" fill="#222" opacity="0.52"/>
<circle cx="233.39" cy="273.65" r="0.5" fill="#222" opacity="0.37"/>
<circle cx="232.26" cy="287.58" r="0.5" fill="#222" opacity="0.34"/>
<circle cx="231.89" cy="278.15" r="0.5" fill="#222" opacity="0.55"/>
<circle cx="233.40" cy="272.11" r="0.5" fill="#222" opacity="0.35"/>
<circle cx="232.82" cy="288.39" r="0.5" fill="#222" opacity="0.57"/>
<circle cx="232.50" cy="281.36" r="0.5" fill="#222" opacity="0.35"/>
<circle cx="236.90" cy="277.98" r="0.5" fill="#222" opacity="0.46"/>
<circle cx="238.12" cy="276.76" r="0.5" fill="#222" opacity="0.78"/>
<circle cx="231.54" cy="282.47" r="0.5" fill="#222" opacity="0.60"/>
<circle cx="234.64" cy="266.32" r="0.5" fill="#222" opacity="0.55"/>
<circle cx="233.24" cy="274.61" r="0.5" fill="#222" opacity="0.76"/>
<circle cx="235.43" cy="278.14" r="0.5" fill="#222" opacity="0.61"/>
<circle cx="228.76" cy="277.98" r="0.5" fill="#222" opacity="0.50"/>
<circle cx="230.93" cy="269.98" r="0.5" fill="#222" opacity="0.35"/>
<circle cx="228.91" cy="272.57" r="0.5" fill="#222" opacity="0.69"/>
<circle cx="231.06" cy="288.06" r="0.5" fill="#222" opacity="0.59"/>
<circle cx="236.32" cy="278.58" r="0.5" fill="#222" opacity="0.74"/>
<circle cx="239.26" cy="276.23" r="0.5" fill="#222" opacity="0.65"/>
<circle cx="238.81" cy="269.08" r="0.5" fill="#222" opacity="0.55"/>
<circle cx="234.70" cy="275.46" r="0.5" fill="#222" opacity="0.31"/>
<circle cx="230.72" cy="284.45" r="0.5" fill="#222" opacity="0.51"/>
<circle cx="230.48" cy="285.46" r="0.5" fill="#222" opacity="0.78"/>
<circle cx="237.27" cy="268.19" r="0.5" fill="#222" opacity="0.48"/>
<circle cx="232.66" cy="277.35" r="0.5" fill="#222" opacity="0.50"/>
<circle cx="233.03" cy="271.90" r="0.5" fill="#222" opacity="0.42"/>
<circle cx="234.55" cy="277.69" r="0.5" fill="#222" opacity="0.61"/>
<circle cx="234.52" cy="268.69" r="0.5" fill="#222" opacity="0.73"/>
<circle cx="238.13" cy="288.49" r="0.5" fill="#222" opacity="0.51"/>
<circle cx="234.77" cy="276.10" r="0.5" fill="#222" opacity="0.35"/>
<circle cx="232.52" cy="272.10" r="0.5" fill="#222" opacity="0.60"/>
<circle cx="228.33" cy="272.56" r="0.5" fill="#222" opacity="0.72"/>
<circle cx="233.37" cy="278.88" r="0.5" fill="#222" opacity="0.60"/>
<circle cx="238.72" cy="268.66" r="0.5" fill="#222" opacity="0.62"/>
<circle cx="230.89" cy="270.00" r="0.5" fill="#222" opacity="0.54"/>
<circle cx="237.15" cy="264.67" r="0.5" fill="#222" opacity="0.61"/>
<circle cx="233.90" cy="276.69" r="0.5" fill="#222" opacity="0.54"/>
<circle cx="237.15" cy="265.29" r="0.5" fill="#222" opacity="0.46"/>
<circle cx="237.97" cy="271.92" r="0.5" fill="#222" opacity="0.59"/>
<circle cx="238.83" cy="268.09" r="0.5" fill="#222" opacity="0.43"/>
<circle cx="237.39" cy="273.08" r="0.5" fill="#222" opacity="0.44"/>
<circle cx="231.19" cy="277.29" r="0.5" fill="#222" opacity="0.53"/>
<circle cx="230.32" cy="286.24" r="0.5" fill="#222" opacity="0.70"/>
<circle cx="243.09" cy="271.01" r="0.5" fill="#222" opacity="0.68"/>
<circle cx="236.64" cy="276.44" r="0.5" fill="#222" opacity="0.60"/>
<circle cx="233.99" cy="268.68" r="0.5" fill="#222" opacity="0.63"/>
<circle cx="225.08" cy="278.74" r="0.5" fill="#222" opacity="0.69"/>
<circle cx="245.86" cy="264.94" r="0.5" fill="#222" opacity="0.69"/>
<circle cx="224.77" cy="279.35" r="0.5" fill="#222" opacity="0.44"/>
<circle cx="241.99" cy="270.77" r="0.5" fill="#222" opacity="0.71"/>
<circle cx="232.19" cy="293.72" r="0.5" fill="#222" opacity="0.50"/>
<circle cx="232.88" cy="272.98" r="0.5" fill="#222" opacity="0.56"/>
<circle cx="230.94" cy="286.69" r="0.5" fill="#222" opacity="0.52"/>
<circle cx="229.95" cy="277.41" r="0.5" fill="#222" opacity="0.68"/>
<circle cx="230.82" cy="277.78" r="0.5" fill="#222" opacity="0.58"/>
<circle cx="233.20" cy="280.47" r="0.5" fill="#222" opacity="0.61"/>
<circle cx="234.45" cy="272.58" r="0.5" fill="#222" opacity="0.59"/>
<circle cx="234.62" cy="262.43" r="0.5" fill="#222" opacity="0.75"/>
<circle cx="237.79" cy="273.62" r="0.5" fill="#222" opacity="0.46"/>
<circle cx="237.94" cy="277.54" r="0.5" fill="#222" opacity="0.69"/>
<circle cx="234.12" cy="282.67" r="0.5" fill="#222" opacity="0.74"/>
<circle cx="231.45" cy="281.93" r="0.5" fill="#222" opacity="0.50"/>
<circle cx="227.20" cy="289.86" r="0.5" fill="#222" opacity="0.39"/>
<circle cx="228.91" cy="274.60" r="0.5" fill="#222" opacity="0.74"/>
<circle cx="237.87" cy="274.13" r="0.5" fill="#222" opacity="0.31"/>
<circle cx="234.38" cy="280.34" r="0.5" fill="#222" opacity="0.72"/>
<circle cx="232.15" cy="275.14" r="0.5" fill="#222" opacity="0.60"/>
<circle cx="234.55" cy="265.73" r="0.5" fill="#222" opacity="0.70"/>
<circle cx="230.95" cy="279.01" r="0.5" fill="#222" opacity="0.38"/>
<circle cx="240.06" cy="264.59" r="0.5" fill="#222" opacity="0.56"/>
<circle cx="235.52" cy="270.52" r="0.5" fill="#222" opacity="0.76"/>
<circle cx="228.92" cy="278.77" r="0.5" fill="#222" opacity="0.58"/>
<circle cx="239.27" cy="275.29" r="0.5" fill="#222" opacity="0.49"/>
<circle cx="233.84" cy="266.84" r="0.5" fill="#222" opacity="0.48"/>
<circle cx="283.66" cy="281.27" r="0.6" fill="#000" opacity="0.66"/>
<circle cx="284.13" cy="281.14" r="0.6" fill="#000" opacity="0.61"/>
<circle cx="283.35" cy="282.90" r="0.6" fill="#000" opacity="0.57"/>
<circle cx="285.36" cy="286.72" r="0.6" fill="#000" opacity="0.66"/>
<circle cx="289.25" cy="286.64" r="0.6" fill="#000" opacity="0.58"/>
<circle cx="289.36" cy="281.36" r="0.6" fill="#000" opacity="0.73"/>
<circle cx="281.72" cy="286.54" r="0.6" fill="#000" opacity="0.74"/>
<circle cx="286.01" cy="285.00" r="0.6" fill="#000" opacity="0.93"/>
<circle cx="282.44" cy="281.92" r="0.6" fill="#000" opacity="0.84"/>
<circle cx="286.55" cy="285.30" r="0.6" fill="#000" opacity="0.81"/>
<circle cx="283.32" cy="288.84" r="0.6" fill="#000" opacity="0.52"/>
<circle cx="285.82" cy="284.42" r="0.6" fill="#000" opacity="0.63"/>
<circle cx="279.25" cy="285.64" r="0.6" fill="#000" opacity="0.66"/>
<circle cx="286.19" cy="279.39" r="0.6" fill="#000" opacity="0.58"/>
<circle cx="285.92" cy="287.37" r="0.6" fill="#000" opacity="0.50"/>
<circle cx="286.53" cy="286.30" r="0.6" fill="#000" opacity="0.62"/>
<circle cx="284.55" cy="285.23" r="0.6" fill="#000" opacity="0.81"/>
<circle cx="283.45" cy="287.30" r="0.6" fill="#000" opacity="0.88"/>
<circle cx="287.50" cy="279.63" r="0.6" fill="#000" opacity="0.79"/>
<circle cx="286.60" cy="282.97" r="0.6" fill="#000" opacity="0.55"/>
<circle cx="288.00" cy="282.83" r="0.6" fill="#000" opacity="0.84"/>
<circle cx="289.31" cy="280.92" r="0.6" fill="#000" opacity="0.73"/>
<circle cx="286.85" cy="279.66" r="0.6" fill="#000" opacity="0.80"/>
<circle cx="278.52" cy="286.61" r="0.6" fill="#000" opacity="0.53"/>
<circle cx="284.52" cy="285.12" r="0.6" fill="#000" opacity="0.60"/>
<circle cx="285.35" cy="287.16" r="0.6" fill="#000" opacity="0.52"/>
<circle cx="288.11" cy="284.58" r="0.6" fill="#000" opacity="0.90"/>
<circle cx="283.59" cy="285.71" r="0.6" fill="#000" opacity="0.75"/>
<circle cx="286.19" cy="289.10" r="0.6" fill="#000" opacity="0.62"/>
<circle cx="284.20" cy="282.80" r="0.6" fill="#000" opacity="0.65"/>
<circle cx="284.70" cy="282.27" r="0.6" fill="#000" opacity="0.73"/>
<circle cx="285.26" cy="281.95" r="0.6" fill="#000" opacity="0.85"/>
<circle cx="284.82" cy="284.09" r="0.6" fill="#000" opacity="0.85"/>
<circle cx="288.75" cy="283.40" r="0.6" fill="#000" opacity="0.82"/>
<circle cx="285.54" cy="283.68" r="0.6" fill="#000" opacity="0.52"/>
<circle cx="286.64" cy="281.79" r="0.6" fill="#000" opacity="0.66"/>
<circle cx="289.05" cy="280.41" r="0.6" fill="#000" opacity="0.68"/>
<circle cx="279.36" cy="288.83" r="0.6" fill="#000" opacity="0.56"/>
<circle cx="284.84" cy="286.86" r="0.6" fill="#000" opacity="0.61"/>
<circle cx="283.10" cy="285.82" r="0.6" fill="#000" opacity="0.64"/>
<circle cx="284.18" cy="287.78" r="0.6" fill="#000" opacity="0.75"/>
<circle cx="288.90" cy="284.29" r="0.6" fill="#000" opacity="0.56"/>
<circle cx="287.72" cy="281.24" r="0.6" fill="#000" opacity="0.80"/>
<circle cx="280.33" cy="285.13" r="0.6" fill="#000" opacity="0.54"/>
<circle cx="286.36" cy="285.12" r="0.6" fill="#000" opacity="0.66"/>
<circle cx="287.13" cy="281.44" r="0.6" fill="#000" opacity="0.56"/>
<circle cx="287.90" cy="280.06" r="0.6" fill="#000" opacity="0.87"/>
<circle cx="288.30" cy="282.07" r="0.6" fill="#000" opacity="0.91"/>
<circle cx="288.29" cy="283.59" r="0.6" fill="#000" opacity="0.51"/>
<circle cx="284.17" cy="283.71" r="0.6" fill="#000" opacity="0.60"/>
<circle cx="285.14" cy="285.92" r="0.6" fill="#000" opacity="0.67"/>
<circle cx="283.72" cy="286.28" r="0.6" fill="#000" opacity="0.79"/>
<circle cx="286.92" cy="286.52" r="0.6" fill="#000" opacity="0.57"/>
<circle cx="289.86" cy="278.58" r="0.6" fill="#000" opacity="0.82"/>
<circle cx="281.60" cy="285.58" r="0.6" fill="#000" opacity="0.85"/>
<circle cx="282.74" cy="288.96" r="0.6" fill="#000" opacity="0.64"/>
<circle cx="285.55" cy="281.74" r="0.6" fill="#000" opacity="0.65"/>
<circle cx="287.91" cy="283.00" r="0.6" fill="#000" opacity="0.84"/>
<circle cx="289.14" cy="279.83" r="0.6" fill="#000" opacity="0.83"/>
<circle cx="285.62" cy="277.01" r="0.6" fill="#000" opacity="0.92"/>
<circle cx="284.42" cy="286.42" r="0.6" fill="#000" opacity="0.68"/>
<circle cx="283.77" cy="288.06" r="0.6" fill="#000" opacity="0.55"/>
<circle cx="288.79" cy="280.85" r="0.6" fill="#000" opacity="0.64"/>
<circle cx="285.24" cy="284.36" r="0.6" fill="#000" opacity="0.84"/>
<circle cx="287.34" cy="279.75" r="0.6" fill="#000" opacity="0.91"/>
<circle cx="281.98" cy="283.61" r="0.6" fill="#000" opacity="0.67"/>
<circle cx="288.83" cy="280.46" r="0.6" fill="#000" opacity="0.64"/>
<circle cx="284.20" cy="280.58" r="0.6" fill="#000" opacity="0.67"/>
<circle cx="285.67" cy="284.75" r="0.6" fill="#000" opacity="0.81"/>
<circle cx="284.71" cy="285.57" r="0.6" fill="#000" opacity="0.60"/>
<circle cx="286.17" cy="284.80" r="0.6" fill="#000" opacity="0.77"/>
<circle cx="283.98" cy="288.38" r="0.6" fill="#000" opacity="0.89"/>
<circle cx="287.84" cy="282.54" r="0.6" fill="#000" opacity="0.78"/>
<circle cx="285.05" cy="279.68" r="0.6" fill="#000" opacity="0.88"/>
<circle cx="285.28" cy="286.37" r="0.6" fill="#000" opacity="0.68"/>
<circle cx="284.93" cy="284.26" r="0.6" fill="#000" opacity="0.57"/>
<circle cx="286.69" cy="279.07" r="0.6" fill="#000" opacity="0.90"/>
<circle cx="283.52" cy="280.03" r="0.6" fill="#000" opacity="0.82"/>
<circle cx="290.28" cy="282.25" r="0.6" fill="#000" opacity="0.94"/>
<circle cx="283.18" cy="281.96" r="0.6" fill="#000" opacity="0.64"/>
<circle cx="282.75" cy="289.01" r="0.5" fill="#222" opacity="0.78"/>
<circle cx="281.58" cy="283.32" r="0.5" fill="#222" opacity="0.69"/>
<circle cx="289.03" cy="283.03" r="0.5" fill="#222" opacity="0.40"/>
<circle cx="281.97" cy="283.97" r="0.5" fill="#222" opacity="0.72"/>
<circle cx="287.68" cy="281.11" r="0.5" fill="#222" opacity="0.52"/>
<circle cx="285.58" cy="284.79" r="0.5" fill="#222" opacity="0.50"/>
<circle cx="281.41" cy="286.70" r="0.5" fill="#222" opacity="0.33"/>
<circle cx="287.47" cy="285.60" r="0.5" fill="#222" opacity="0.34"/>
<circle cx="283.65" cy="284.11" r="0.5" fill="#222" opacity="0.38"/>
<circle cx="298.87" cy="276.51" r="0.5" fill="#222" opacity="0.57"/>
<circle cx="282.60" cy="284.40" r="0.5" fill="#222" opacity="0.72"/>
<circle cx="283.02" cy="285.19" r="0.5" fill="#222" opacity="0.66"/>
<circle cx="286.52" cy="285.42" r="0.5" fill="#222" opacity="0.39"/>
<circle cx="283.48" cy="287.89" r="0.5" fill="#222" opacity="0.43"/>
<circle cx="288.97" cy="279.25" r="0.5" fill="#222" opacity="0.60"/>
<circle cx="289.63" cy="287.14" r="0.5" fill="#222" opacity="0.50"/>
<circle cx="284.89" cy="289.00" r="0.5" fill="#222" opacity="0.58"/>
<circle cx="290.52" cy="277.99" r="0.5" fill="#222" opacity="0.61"/>
<circle cx="280.28" cy="292.96" r="0.5" fill="#222" opacity="0.65"/>
<circle cx="280.90" cy="297.04" r="0.5" fill="#222" opacity="0.74"/>
<circle cx="286.75" cy="285.79" r="0.5" fill="#222" opacity="0.66"/>
<circle cx="293.92" cy="282.56" r="0.5" fill="#222" opacity="0.77"/>
<circle cx="279.17" cy="286.47" r="0.5" fill="#222" opacity="0.59"/>
<circle cx="282.73" cy="283.32" r="0.5" fill="#222" opacity="0.39"/>
<circle cx="283.17" cy="281.58" r="0.5" fill="#222" opacity="0.72"/>
<circle cx="287.84" cy="290.53" r="0.5" fill="#222" opacity="0.39"/>
<circle cx="277.45" cy="296.20" r="0.5" fill="#222" opacity="0.41"/>
<circle cx="284.25" cy="281.92" r="0.5" fill="#222" opacity="0.32"/>
<circle cx="291.67" cy="282.24" r="0.5" fill="#222" opacity="0.80"/>
<circle cx="288.67" cy="285.88" r="0.5" fill="#222" opacity="0.31"/>
<circle cx="293.87" cy="281.41" r="0.5" fill="#222" opacity="0.58"/>
<circle cx="275.77" cy="286.58" r="0.5" fill="#222" opacity="0.58"/>
<circle cx="295.76" cy="280.75" r="0.5" fill="#222" opacity="0.30"/>
<circle cx="284.24" cy="292.00" r="0.5" fill="#222" opacity="0.32"/>
<circle cx="281.44" cy="286.84" r="0.5" fill="#222" opacity="0.49"/>
<circle cx="283.30" cy="281.25" r="0.5" fill="#222" opacity="0.39"/>
<circle cx="283.15" cy="281.94" r="0.5" fill="#222" opacity="0.46"/>
<circle cx="285.16" cy="287.32" r="0.5" fill="#222" opacity="0.55"/>
<circle cx="282.65" cy="277.52" r="0.5" fill="#222" opacity="0.52"/>
<circle cx="294.28" cy="274.95" r="0.5" fill="#222" opacity="0.63"/>
<circle cx="287.24" cy="290.07" r="0.5" fill="#222" opacity="0.41"/>
<circle cx="289.89" cy="276.44" r="0.5" fill="#222" opacity="0.37"/>
<circle cx="282.50" cy="283.98" r="0.5" fill="#222" opacity="0.76"/>
<circle cx="283.52" cy="281.66" r="0.5" fill="#222" opacity="0.47"/>
<circle cx="285.34" cy="285.51" r="0.5" fill="#222" opacity="0.49"/>
<circle cx="287.50" cy="282.50" r="0.5" fill="#222" opacity="0.66"/>
<circle cx="290.87" cy="284.27" r="0.5" fill="#222" opacity="0.64"/>
<circle cx="289.17" cy="287.07" r="0.5" fill="#222" opacity="0.71"/>
<circle cx="281.78" cy="288.58" r="0.5" fill="#222" opacity="0.50"/>
<circle cx="284.44" cy="283.53" r="0.5" fill="#222" opacity="0.79"/>
<circle cx="285.96" cy="286.22" r="0.5" fill="#222" opacity="0.37"/>
<circle cx="285.70" cy="284.04" r="0.5" fill="#222" opacity="0.60"/>
<circle cx="297.68" cy="280.43" r="0.5" fill="#222" opacity="0.31"/>
<circle cx="279.83" cy="286.05" r="0.5" fill="#222" opacity="0.79"/>
<circle cx="279.59" cy="291.77" r="0.5" fill="#222" opacity="0.66"/>
<circle cx="284.87" cy="280.97" r="0.5" fill="#222" opacity="0.59"/>
<circle cx="279.76" cy="290.71" r="0.5" fill="#222" opacity="0.75"/>
<circle cx="297.33" cy="284.47" r="0.5" fill="#222" opacity="0.63"/>
<circle cx="290.35" cy="279.14" r="0.5" fill="#222" opacity="0.36"/>
<circle cx="292.68" cy="286.26" r="0.5" fill="#222" opacity="0.49"/>
<circle cx="278.94" cy="289.78" r="0.5" fill="#222" opacity="0.57"/>
<circle cx="288.11" cy="282.80" r="0.5" fill="#222" opacity="0.61"/>
<circle cx="288.27" cy="287.82" r="0.5" fill="#222" opacity="0.57"/>
<circle cx="289.53" cy="284.62" r="0.5" fill="#222" opacity="0.43"/>
<circle cx="289.00" cy="285.25" r="0.5" fill="#222" opacity="0.58"/>
<circle cx="282.25" cy="285.75" r="0.5" fill="#222" opacity="0.44"/>
<circle cx="287.04" cy="285.31" r="0.5" fill="#222" opacity="0.42"/>
<circle cx="293.18" cy="279.06" r="0.5" fill="#222" opacity="0.69"/>
<circle cx="284.06" cy="289.99" r="0.5" fill="#222" opacity="0.39"/>
<circle cx="290.45" cy="284.33" r="0.5" fill="#222" opacity="0.69"/>
<circle cx="288.60" cy="281.82" r="0.5" fill="#222" opacity="0.80"/>
<circle cx="285.57" cy="281.66" r="0.5" fill="#222" opacity="0.72"/>
<circle cx="296.15" cy="280.82" r="0.5" fill="#222" opacity="0.45"/>
<circle cx="280.09" cy="282.08" r="0.5" fill="#222" opacity="0.59"/>
<circle cx="278.60" cy="289.22" r="0.5" fill="#222" opacity="0.38"/>
<circle cx="331.65" cy="276.27" r="0.6" fill="#000" opacity="0.76"/>
<circle cx="331.41" cy="276.20" r="0.6" fill="#000" opacity="0.72"/>
<circle cx="334.38" cy="279.96" r="0.6" fill="#000" opacity="0.68"/>
<circle cx="339.31" cy="272.88" r="0.6" fill="#000" opacity="0.83"/>
<circle cx="339.88" cy="273.08" r="0.6" fill="#000" opacity="0.90"/>
<circle cx="333.03" cy="275.55" r="0.6" fill="#000" opacity="0.50"/>
<circle cx="328.52" cy="276.64" r="0.6" fill="#000" opacity="0.89"/>
<circle cx="336.38" cy="277.21" r="0.6" fill="#000" opacity="0.69"/>
<circle cx="339.31" cy="278.52" r="0.6" fill="#000" opacity="0.59"/>
<circle cx="335.70" cy="272.88" r="0.6" fill="#000" opacity="0.55"/>
<circle cx="340.20" cy="273.41" r="0.6" fill="#000" opacity="0.86"/>
<circle cx="330.10" cy="275.25" r="0.6" fill="#000" opacity="0.77"/>
<circle cx="337.10" cy="280.16" r="0.6" fill="#000" opacity="0.64"/>
<circle cx="334.60" cy="272.06" r="0.6" fill="#000" opacity="0.93"/>
<circle cx="338.54" cy="274.57" r="0.6" fill="#000" opacity="0.87"/>
<circle cx="333.35" cy="275.36" r="0.6" fill="#000" opacity="0.70"/>
<circle cx="334.33" cy="273.23" r="0.6" fill="#000" opacity="0.66"/>
<circle cx="335.28" cy="274.24" r="0.6" fill="#000" opacity="0.58"/>
<circle cx="336.35" cy="273.32" r="0.6" fill="#000" opacity="0.94"/>
<circle cx="337.19" cy="272.37" r="0.6" fill="#000" opacity="0.52"/>
<circle cx="331.97" cy="274.77" r="0.6" fill="#000" opacity="0.78"/>
<circle cx="331.99" cy="275.79" r="0.6" fill="#000" opacity="0.72"/>
<circle cx="345.99" cy="268.80" r="0.6" fill="#000" opacity="0.83"/>
<circle cx="335.03" cy="275.78" r="0.6" fill="#000" opacity="0.81"/>
<circle cx="331.59" cy="274.01" r="0.6" fill="#000" opacity="0.69"/>
<circle cx="334.34" cy="275.67" r="0.6" fill="#000" opacity="0.80"/>
<circle cx="330.60" cy="275.89" r="0.6" fill="#000" opacity="0.91"/>
<circle cx="329.97" cy="276.45" r="0.6" fill="#000" opacity="0.84"/>
<circle cx="334.66" cy="275.67" r="0.6" fill="#000" opacity="0.77"/>
<circle cx="332.06" cy="275.75" r="0.6" fill="#000" opacity="0.76"/>
<circle cx="336.35" cy="272.10" r="0.6" fill="#000" opacity="0.57"/>
<circle cx="337.41" cy="278.03" r="0.6" fill="#000" opacity="0.78"/>
<circle cx="337.57" cy="272.67" r="0.6" fill="#000" opacity="0.57"/>
<circle cx="336.23" cy="273.83" r="0.6" fill="#000" opacity="0.60"/>
<circle cx="339.26" cy="273.92" r="0.6" fill="#000" opacity="0.94"/>
<circle cx="336.56" cy="274.68" r="0.6" fill="#000" opacity="0.93"/>
<circle cx="338.99" cy="273.19" r="0.6" fill="#000" opacity="0.55"/>
<circle cx="335.10" cy="274.35" r="0.6" fill="#000" opacity="0.56"/>
<circle cx="336.98" cy="271.51" r="0.6" fill="#000" opacity="0.90"/>
<circle cx="332.26" cy="273.10" r="0.6" fill="#000" opacity="0.80"/>
<circle cx="334.00" cy="276.30" r="0.6" fill="#000" opacity="0.89"/>
<circle cx="335.71" cy="274.50" r="0.6" fill="#000" opacity="0.59"/>
<circle cx="335.37" cy="272.01" r="0.6" fill="#000" opacity="0.77"/>
<circle cx="340.79" cy="271.53" r="0.6" fill="#000" opacity="0.68"/>
<circle cx="332.19" cy="273.90" r="0.6" fill="#000" opacity="0.93"/>
<circle cx="335.52" cy="274.21" r="0.6" fill="#000" opacity="0.63"/>
<circle cx="334.69" cy="271.33" r="0.6" fill="#000" opacity="0.93"/>
<circle cx="338.87" cy="272.56" r="0.6" fill="#000" opacity="0.55"/>
<circle cx="341.13" cy="270.51" r="0.6" fill="#000" opacity="0.53"/>
<circle cx="332.84" cy="277.13" r="0.6" fill="#000" opacity="0.90"/>
<circle cx="339.42" cy="271.65" r="0.6" fill="#000" opacity="0.66"/>
<circle cx="337.91" cy="272.01" r="0.6" fill="#000" opacity="0.63"/>
<circle cx="335.10" cy="273.65" r="0.6" fill="#000" opacity="0.79"/>
<circle cx="334.66" cy="277.27" r="0.6" fill="#000" opacity="0.60"/>
<circle cx="332.54" cy="271.81" r="0.6" fill="#000" opacity="0.56"/>
<circle cx="335.06" cy="273.31" r="0.6" fill="#000" opacity="0.92"/>
<circle cx="329.56" cy="275.41" r="0.6" fill="#000" opacity="0.73"/>
<circle cx="332.03" cy="277.78" r="0.6" fill="#000" opacity="0.71"/>
<circle cx="333.07" cy="277.94" r="0.6" fill="#000" opacity="0.83"/>
<circle cx="334.10" cy="276.25" r="0.6" fill="#000" opacity="0.52"/>
<circle cx="336.06" cy="275.69" r="0.6" fill="#000" opacity="0.62"/>
<circle cx="333.35" cy="274.12" r="0.6" fill="#000" opacity="0.87"/>
<circle cx="336.98" cy="271.01" r="0.6" fill="#000" opacity="0.89"/>
<circle cx="335.87" cy="273.04" r="0.6" fill="#000" opacity="0.73"/>
<circle cx="333.13" cy="271.72" r="0.6" fill="#000" opacity="0.83"/>
<circle cx="325.35" cy="276.54" r="0.6" fill="#000" opacity="0.60"/>
<circle cx="333.84" cy="276.14" r="0.6" fill="#000" opacity="0.92"/>
<circle cx="339.75" cy="270.60" r="0.6" fill="#000" opacity="0.85"/>
<circle cx="339.75" cy="266.89" r="0.6" fill="#000" opacity="0.55"/>
<circle cx="333.46" cy="270.90" r="0.6" fill="#000" opacity="0.78"/>
<circle cx="335.16" cy="273.63" r="0.5" fill="#222" opacity="0.64"/>
<circle cx="325.87" cy="275.91" r="0.5" fill="#222" opacity="0.47"/>
<circle cx="331.11" cy="276.97" r="0.5" fill="#222" opacity="0.71"/>
<circle cx="333.55" cy="263.53" r="0.5" fill="#222" opacity="0.60"/>
<circle cx="329.91" cy="270.28" r="0.5" fill="#222" opacity="0.70"/>
<circle cx="334.81" cy="273.30" r="0.5" fill="#222" opacity="0.42"/>
<circle cx="337.94" cy="266.69" r="0.5" fill="#222" opacity="0.60"/>
<circle cx="340.27" cy="277.33" r="0.5" fill="#222" opacity="0.43"/>
<circle cx="341.56" cy="275.22" r="0.5" fill="#222" opacity="0.42"/>
<circle cx="334.28" cy="276.47" r="0.5" fill="#222" opacity="0.41"/>
<circle cx="337.66" cy="274.35" r="0.5" fill="#222" opacity="0.80"/>
<circle cx="334.87" cy="269.67" r="0.5" fill="#222" opacity="0.42"/>
<circle cx="333.53" cy="269.63" r="0.5" fill="#222" opacity="0.35"/>
<circle cx="323.12" cy="276.52" r="0.5" fill="#222" opacity="0.37"/>
<circle cx="334.25" cy="270.67" r="0.5" fill="#222" opacity="0.39"/>
<circle cx="335.64" cy="270.54" r="0.5" fill="#222" opacity="0.54"/>
<circle cx="341.77" cy="273.06" r="0.5" fill="#222" opacity="0.34"/>
<circle cx="342.72" cy="272.68" r="0.5" fill="#222" opacity="0.50"/>
<circle cx="339.03" cy="274.85" r="0.5" fill="#222" opacity="0.40"/>
<circle cx="334.05" cy="279.48" r="0.5" fill="#222" opacity="0.76"/>
<circle cx="346.40" cy="273.64" r="0.5" fill="#222" opacity="0.78"/>
<circle cx="334.83" cy="275.45" r="0.5" fill="#222" opacity="0.45"/>
<circle cx="337.29" cy="267.75" r="0.5" fill="#222" opacity="0.58"/>
<circle cx="328.52" cy="283.56" r="0.5" fill="#222" opacity="0.37"/>
<circle cx="344.06" cy="274.57" r="0.5" fill="#222" opacity="0.32"/>
<circle cx="331.23" cy="278.69" r="0.5" fill="#222" opacity="0.72"/>
<circle cx="337.00" cy="266.08" r="0.5" fill="#222" opacity="0.38"/>
<circle cx="340.92" cy="279.30" r="0.5" fill="#222" opacity="0.72"/>
<circle cx="339.47" cy="260.55" r="0.5" fill="#222" opacity="0.79"/>
<circle cx="339.45" cy="273.90" r="0.5" fill="#222" opacity="0.78"/>
<circle cx="337.11" cy="272.74" r="0.5" fill="#222" opacity="0.38"/>
<circle cx="328.71" cy="278.15" r="0.5" fill="#222" opacity="0.35"/>
<circle cx="337.07" cy="273.82" r="0.5" fill="#222" opacity="0.74"/>
<circle cx="332.40" cy="272.92" r="0.5" fill="#222" opacity="0.74"/>
<circle cx="327.73" cy="274.42" r="0.5" fill="#222" opacity="0.45"/>
<circle cx="333.87" cy="273.49" r="0.5" fill="#222" opacity="0.52"/>
<circle cx="328.14" cy="275.84" r="0.5" fill="#222" opacity="0.66"/>
<circle cx="332.25" cy="273.36" r="0.5" fill="#222" opacity="0.62"/>
<circle cx="335.86" cy="268.87" r="0.5" fill="#222" opacity="0.30"/>
<circle cx="333.69" cy="272.10" r="0.5" fill="#222" opacity="0.61"/>
<circle cx="342.66" cy="278.58" r="0.5" fill="#222" opacity="0.63"/>
<circle cx="333.03" cy="271.43" r="0.5" fill="#222" opacity="0.76"/>
<circle cx="336.90" cy="284.12" r="0.5" fill="#222" opacity="0.60"/>
<circle cx="337.99" cy="268.91" r="0.5" fill="#222" opacity="0.67"/>
<circle cx="328.36" cy="273.26" r="0.5" fill="#222" opacity="0.48"/>
<circle cx="333.61" cy="275.66" r="0.5" fill="#222" opacity="0.61"/>
<circle cx="332.16" cy="272.61" r="0.5" fill="#222" opacity="0.64"/>
<circle cx="330.30" cy="276.84" r="0.5" fill="#222" opacity="0.52"/>
<circle cx="335.04" cy="276.03" r="0.5" fill="#222" opacity="0.55"/>
<circle cx="329.04" cy="276.17" r="0.5" fill="#222" opacity="0.36"/>
<circle cx="331.51" cy="273.71" r="0.5" fill="#222" opacity="0.59"/>
<circle cx="336.88" cy="272.36" r="0.5" fill="#222" opacity="0.47"/>
<circle cx="334.45" cy="278.77" r="0.5" fill="#222" opacity="0.44"/>
<circle cx="333.35" cy="271.60" r="0.5" fill="#222" opacity="0.33"/>
<circle cx="333.26" cy="280.72" r="0.5" fill="#222" opacity="0.78"/>
<circle cx="335.80" cy="280.04" r="0.5" fill="#222" opacity="0.60"/>
<circle cx="340.95" cy="262.55" r="0.5" fill="#222" opacity="0.46"/>
<circle cx="337.90" cy="269.14" r="0.5" fill="#222" opacity="0.31"/>
<circle cx="327.01" cy="274.24" r="0.5" fill="#222" opacity="0.78"/>
<circle cx="329.83" cy="287.13" r="0.5" fill="#222" opacity="0.55"/>
<circle cx="339.53" cy="272.14" r="0.5" fill="#222" opacity="0.38"/>
<circle cx="334.81" cy="267.96" r="0.5" fill="#222" opacity="0.50"/>
<circle cx="331.17" cy="276.62" r="0.5" fill="#222" opacity="0.76"/>
<circle cx="340.54" cy="270.72" r="0.5" fill="#222" opacity="0.63"/>
<circle cx="334.04" cy="272.27" r="0.5" fill="#222" opacity="0.62"/>
<circle cx="340.06" cy="268.61" r="0.5" fill="#222" opacity="0.63"/>
<circle cx="343.76" cy="270.73" r="0.5" fill="#222" opacity="0.80"/>
<circle cx="334.14" cy="284.97" r="0.5" fill="#222" opacity="0.70"/>
<circle cx="339.42" cy="274.67" r="0.5" fill="#222" opacity="0.34"/>
<circle cx="338.13" cy="278.49" r="0.5" fill="#222" opacity="0.37"/>
<circle cx="332.91" cy="276.85" r="0.5" fill="#222" opacity="0.71"/>
<circle cx="345.02" cy="267.01" r="0.5" fill="#222" opacity="0.61"/>
<circle cx="333.87" cy="275.50" r="0.5" fill="#222" opacity="0.79"/>
<circle cx="325.89" cy="277.07" r="0.5" fill="#222" opacity="0.51"/>
<circle cx="340.83" cy="276.69" r="0.5" fill="#222" opacity="0.57"/>
<circle cx="342.77" cy="275.56" r="0.5" fill="#222" opacity="0.66"/>
<circle cx="334.85" cy="277.45" r="0.5" fill="#222" opacity="0.74"/>
<circle cx="320.17" cy="284.59" r="0.5" fill="#222" opacity="0.73"/>
<circle cx="331.59" cy="276.71" r="0.5" fill="#222" opacity="0.54"/>
<circle cx="339.68" cy="264.87" r="0.5" fill="#222" opacity="0.41"/>
<circle cx="326.77" cy="275.65" r="0.5" fill="#222" opacity="0.69"/>
<circle cx="342.12" cy="268.30" r="0.5" fill="#222" opacity="0.56"/>
<circle cx="324.27" cy="277.85" r="0.5" fill="#222" opacity="0.68"/>
<circle cx="327.06" cy="284.04" r="0.5" fill="#222" opacity="0.52"/>
<circle cx="338.02" cy="278.05" r="0.5" fill="#222" opacity="0.56"/>
<circle cx="336.85" cy="281.95" r="0.5" fill="#222" opacity="0.33"/>
<circle cx="332.45" cy="276.89" r="0.5" fill="#222" opacity="0.70"/>
<circle cx="340.68" cy="272.60" r="0.5" fill="#222" opacity="0.37"/>
<circle cx="333.21" cy="281.71" r="0.5" fill="#222" opacity="0.44"/>
<circle cx="333.06" cy="274.26" r="0.5" fill="#222" opacity="0.70"/>
<circle cx="376.78" cy="279.77" r="0.6" fill="#000" opacity="0.58"/>
<circle cx="392.30" cy="270.40" r="0.6" fill="#000" opacity="0.77"/>
<circle cx="388.01" cy="265.82" r="0.6" fill="#000" opacity="0.62"/>
<circle cx="384.19" cy="272.94" r="0.6" fill="#000" opacity="0.58"/>
<circle cx="386.39" cy="273.12" r="0.6" fill="#000" opacity="0.54"/>
<circle cx="387.16" cy="275.89" r="0.6" fill="#000" opacity="0.70"/>
<circle cx="391.48" cy="268.92" r="0.6" fill="#000" opacity="0.75"/>
<circle cx="385.98" cy="270.26" r="0.6" fill="#000" opacity="0.75"/>
<circle cx="386.97" cy="267.95" r="0.6" fill="#000" opacity="0.71"/>
<circle cx="385.06" cy="263.73" r="0.6" fill="#000" opacity="0.66"/>
<circle cx="380.03" cy="277.92" r="0.6" fill="#000" opacity="0.90"/>
<circle cx="386.32" cy="267.33" r="0.6" fill="#000" opacity="0.73"/>
<circle cx="385.96" cy="264.49" r="0.6" fill="#000" opacity="0.68"/>
<circle cx="390.90" cy="270.67" r="0.6" fill="#000" opacity="0.65"/>
<circle cx="393.05" cy="268.61" r="0.6" fill="#000" opacity="0.89"/>
<circle cx="386.93" cy="269.07" r="0.6" fill="#000" opacity="0.62"/>
<circle cx="385.82" cy="272.43" r="0.6" fill="#000" opacity="0.87"/>
<circle cx="382.70" cy="270.33" r="0.6" fill="#000" opacity="0.61"/>
<circle cx="386.28" cy="269.60" r="0.6" fill="#000" opacity="0.76"/>
<circle cx="381.83" cy="275.68" r="0.6" fill="#000" opacity="0.57"/>
<circle cx="388.42" cy="268.39" r="0.6" fill="#000" opacity="0.89"/>
<circle cx="387.68" cy="269.54" r="0.6" fill="#000" opacity="0.75"/>
<circle cx="385.98" cy="268.82" r="0.6" fill="#000" opacity="0.59"/>
<circle cx="386.57" cy="270.54" r="0.6" fill="#000" opacity="0.55"/>
<circle cx="384.44" cy="275.45" r="0.6" fill="#000" opacity="0.78"/>
<circle cx="384.30" cy="274.37" r="0.6" fill="#000" opacity="0.68"/>
<circle cx="386.36" cy="274.59" r="0.6" fill="#000" opacity="0.65"/>
<circle cx="386.78" cy="274.50" r="0.6" fill="#000" opacity="0.77"/>
<circle cx="382.55" cy="271.29" r="0.6" fill="#000" opacity="0.58"/>
<circle cx="385.41" cy="272.12" r="0.6" fill="#000" opacity="0.91"/>
<circle cx="382.07" cy="274.84" r="0.6" fill="#000" opacity="0.61"/>
<circle cx="386.17" cy="274.71" r="0.6" fill="#000" opacity="0.51"/>
<circle cx="385.73" cy="273.38" r="0.6" fill="#000" opacity="0.92"/>
<circle cx="388.29" cy="274.74" r="0.6" fill="#000" opacity="0.91"/>
<circle cx="389.43" cy="269.09" r="0.6" fill="#000" opacity="0.66"/>
<circle cx="382.53" cy="267.93" r="0.6" fill="#000" opacity="0.70"/>
<circle cx="381.38" cy="272.87" r="0.6" fill="#000" opacity="0.93"/>
<circle cx="390.08" cy="264.78" r="0.6" fill="#000" opacity="0.72"/>
<circle cx="389.18" cy="266.21" r="0.6" fill="#000" opacity="0.71"/>
<circle cx="385.35" cy="279.13" r="0.6" fill="#000" opacity="0.63"/>
<circle cx="384.95" cy="273.72" r="0.6" fill="#000" opacity="0.80"/>
<circle cx="384.02" cy="276.86" r="0.6" fill="#000" opacity="0.51"/>
<circle cx="389.05" cy="271.63" r="0.6" fill="#000" opacity="0.69"/>
<circle cx="387.06" cy="267.19" r="0.6" fill="#000" opacity="0.95"/>
<circle cx="384.10" cy="277.09" r="0.6" fill="#000" opacity="0.84"/>
<circle cx="387.68" cy="264.75" r="0.6" fill="#000" opacity="0.52"/>
<circle cx="387.20" cy="273.49" r="0.6" fill="#000" opacity="0.81"/>
<circle cx="384.15" cy="274.81" r="0.6" fill="#000" opacity="0.57"/>
<circle cx="388.69" cy="277.40" r="0.6" fill="#000" opacity="0.93"/>
<circle cx="391.75" cy="271.38" r="0.6" fill="#000" opacity="0.66"/>
<circle cx="384.38" cy="267.69" r="0.6" fill="#000" opacity="0.87"/>
<circle cx="384.96" cy="269.38" r="0.6" fill="#000" opacity="0.64"/>
<circle cx="383.98" cy="272.98" r="0.6" fill="#000" opacity="0.76"/>
<circle cx="386.21" cy="272.23" r="0.6" fill="#000" opacity="0.93"/>
<circle cx="388.07" cy="271.90" r="0.6" fill="#000" opacity="0.69"/>
<circle cx="380.25" cy="270.97" r="0.6" fill="#000" opacity="0.73"/>
<circle cx="385.80" cy="272.00" r="0.6" fill="#000" opacity="0.91"/>
<circle cx="383.35" cy="273.25" r="0.6" fill="#000" opacity="0.64"/>
<circle cx="391.84" cy="273.23" r="0.6" fill="#000" opacity="0.66"/>
<circle cx="385.73" cy="277.36" r="0.6" fill="#000" opacity="0.86"/>
<circle cx="384.03" cy="278.30" r="0.5" fill="#222" opacity="0.53"/>
<circle cx="383.47" cy="276.25" r="0.5" fill="#222" opacity="0.41"/>
<circle cx="393.24" cy="268.88" r="0.5" fill="#222" opacity="0.77"/>
<circle cx="387.39" cy="268.18" r="0.5" fill="#222" opacity="0.46"/>
<circle cx="383.21" cy="271.94" r="0.5" fill="#222" opacity="0.78"/>
<circle cx="387.40" cy="265.12" r="0.5" fill="#222" opacity="0.67"/>
<circle cx="392.02" cy="268.91" r="0.5" fill="#222" opacity="0.33"/>
<circle cx="399.73" cy="255.49" r="0.5" fill="#222" opacity="0.45"/>
<circle cx="382.47" cy="276.99" r="0.5" fill="#222" opacity="0.67"/>
<circle cx="395.23" cy="264.54" r="0.5" fill="#222" opacity="0.57"/>
<circle cx="389.30" cy="268.05" r="0.5" fill="#222" opacity="0.44"/>
<circle cx="386.10" cy="274.53" r="0.5" fill="#222" opacity="0.45"/>
<circle cx="390.64" cy="265.58" r="0.5" fill="#222" opacity="0.54"/>
<circle cx="388.53" cy="263.45" r="0.5" fill="#222" opacity="0.31"/>
<circle cx="386.26" cy="270.51" r="0.5" fill="#222" opacity="0.35"/>
<circle cx="390.11" cy="264.39" r="0.5" fill="#222" opacity="0.56"/>
<circle cx="391.61" cy="269.70" r="0.5" fill="#222" opacity="0.68"/>
<circle cx="387.94" cy="276.50" r="0.5" fill="#222" opacity="0.67"/>
<circle cx="378.95" cy="276.07" r="0.5" fill="#222" opacity="0.49"/>
<circle cx="396.15" cy="268.08" r="0.5" fill="#222" opacity="0.70"/>
<circle cx="386.76" cy="274.52" r="0.5" fill="#222" opacity="0.64"/>
<circle cx="395.36" cy="264.46" r="0.5" fill="#222" opacity="0.47"/>
<circle cx="383.46" cy="263.55" r="0.5" fill="#222" opacity="0.62"/>
<circle cx="400.98" cy="262.19" r="0.5" fill="#222" opacity="0.42"/>
<circle cx="388.66" cy="273.84" r="0.5" fill="#222" opacity="0.53"/>
<circle cx="391.01" cy="259.86" r="0.5" fill="#222" opacity="0.66"/>
<circle cx="389.49" cy="269.11" r="0.5" fill="#222" opacity="0.33"/>
<circle cx="385.73" cy="267.28" r="0.5" fill="#222" opacity="0.38"/>
<circle cx="391.17" cy="265.04" r="0.5" fill="#222" opacity="0.42"/>
<circle cx="389.86" cy="275.12" r="0.5" fill="#222" opacity="0.80"/>
<circle cx="388.89" cy="271.33" r="0.5" fill="#222" opacity="0.40"/>
<circle cx="380.85" cy="283.46" r="0.5" fill="#222" opacity="0.52"/>
<circle cx="391.05" cy="270.33" r="0.5" fill="#222" opacity="0.49"/>
<circle cx="383.74" cy="273.94" r="0.5" fill="#222" opacity="0.45"/>
<circle cx="389.30" cy="272.42" r="0.5" fill="#222" opacity="0.80"/>
<circle cx="384.88" cy="274.43" r="0.5" fill="#222" opacity="0.62"/>
<circle cx="388.69" cy="277.02" r="0.5" fill="#222" opacity="0.61"/>
<circle cx="386.17" cy="274.50" r="0.5" fill="#222" opacity="0.69"/>
<circle cx="381.64" cy="266.08" r="0.5" fill="#222" opacity="0.42"/>
<circle cx="380.21" cy="274.26" r="0.5" fill="#222" opacity="0.38"/>
<circle cx="388.35" cy="267.57" r="0.5" fill="#222" opacity="0.58"/>
<circle cx="386.31" cy="266.91" r="0.5" fill="#222" opacity="0.48"/>
<circle cx="386.51" cy="271.81" r="0.5" fill="#222" opacity="0.33"/>
<circle cx="388.51" cy="259.22" r="0.5" fill="#222" opacity="0.77"/>
<circle cx="389.63" cy="272.16" r="0.5" fill="#222" opacity="0.74"/>
<circle cx="384.76" cy="276.23" r="0.5" fill="#222" opacity="0.45"/>
<circle cx="375.51" cy="278.73" r="0.5" fill="#222" opacity="0.49"/>
<circle cx="375.47" cy="278.91" r="0.5" fill="#222" opacity="0.75"/>
<circle cx="386.15" cy="271.85" r="0.5" fill="#222" opacity="0.67"/>
<circle cx="385.05" cy="276.16" r="0.5" fill="#222" opacity="0.72"/>
<circle cx="389.55" cy="264.67" r="0.5" fill="#222" opacity="0.71"/>
<circle cx="397.83" cy="265.64" r="0.5" fill="#222" opacity="0.60"/>
<circle cx="382.04" cy="280.60" r="0.5" fill="#222" opacity="0.60"/>
<circle cx="402.64" cy="269.77" r="0.5" fill="#222" opacity="0.38"/>
<circle cx="389.59" cy="267.52" r="0.5" fill="#222" opacity="0.56"/>
<circle cx="389.22" cy="275.83" r="0.5" fill="#222" opacity="0.39"/>
<circle cx="391.85" cy="264.92" r="0.5" fill="#222" opacity="0.44"/>
<circle cx="386.82" cy="274.57" r="0.5" fill="#222" opacity="0.39"/>
<circle cx="395.85" cy="271.86" r="0.5" fill="#222" opacity="0.54"/>
<circle cx="393.00" cy="274.28" r="0.5" fill="#222" opacity="0.54"/>
<circle cx="380.46" cy="281.76" r="0.5" fill="#222" opacity="0.51"/>
<circle cx="391.49" cy="279.45" r="0.5" fill="#222" opacity="0.76"/>
<circle cx="381.27" cy="277.75" r="0.5" fill="#222" opacity="0.79"/>
<circle cx="385.71" cy="274.84" r="0.5" fill="#222" opacity="0.51"/>
<circle cx="386.62" cy="277.68" r="0.5" fill="#222" opacity="0.33"/>
<circle cx="389.14" cy="263.18" r="0.5" fill="#222" opacity="0.70"/>
<circle cx="394.73" cy="280.06" r="0.5" fill="#222" opacity="0.34"/>
<circle cx="380.89" cy="279.73" r="0.5" fill="#222" opacity="0.78"/>
<circle cx="392.30" cy="270.06" r="0.5" fill="#222" opacity="0.30"/>
<circle cx="390.33" cy="266.14" r="0.5" fill="#222" opacity="0.74"/>
<circle cx="389.98" cy="265.14" r="0.5" fill="#222" opacity="0.34"/>
<circle cx="384.29" cy="263.85" r="0.5" fill="#222" opacity="0.75"/>
<circle cx="389.85" cy="259.08" r="0.5" fill="#222" opacity="0.69"/>
<circle cx="388.87" cy="268.61" r="0.5" fill="#222" opacity="0.31"/>
<circle cx="398.39" cy="271.25" r="0.5" fill="#222" opacity="0.46"/>
<circle cx="378.67" cy="275.22" r="0.5" fill="#222" opacity="0.56"/>
<circle cx="381.54" cy="279.28" r="0.5" fill="#222" opacity="0.56"/>
<circle cx="387.29" cy="278.99" r="0.5" fill="#222" opacity="0.64"/>
<circle cx="376.86" cy="281.20" r="0.5" fill="#222" opacity="0.46"/>
<circle cx="389.89" cy="272.94" r="0.5" fill="#222" opacity="0.31"/>
<circle cx="383.88" cy="270.31" r="0.5" fill="#222" opacity="0.34"/>
<circle cx="384.29" cy="265.95" r="0.5" fill="#222" opacity="0.43"/>
<circle cx="384.39" cy="275.32" r="0.5" fill="#222" opacity="0.60"/>
<circle cx="388.96" cy="275.11" r="0.5" fill="#222" opacity="0.48"/>
<circle cx="382.70" cy="276.26" r="0.5" fill="#222" opacity="0.49"/>
<circle cx="384.74" cy="268.03" r="0.5" fill="#222" opacity="0.71"/>
<circle cx="387.18" cy="281.95" r="0.5" fill="#222" opacity="0.69"/>
<circle cx="394.16" cy="272.64" r="0.5" fill="#222" opacity="0.75"/>
<circle cx="393.76" cy="254.09" r="0.5" fill="#222" opacity="0.32"/>
<circle cx="389.52" cy="265.69" r="0.5" fill="#222" opacity="0.48"/>
<circle cx="385.19" cy="281.88" r="0.55" fill="#000" opacity="0.99"/>
<circle cx="388.29" cy="282.62" r="0.55" fill="#000" opacity="0.84"/>
<circle cx="386.41" cy="282.05" r="0.55" fill="#000" opacity="0.65"/>
<circle cx="380.43" cy="283.35" r="0.55" fill="#000" opacity="0.60"/>
<circle cx="383.02" cy="282.93" r="0.55" fill="#000" opacity="0.85"/>
<circle cx="380.41" cy="282.04" r="0.55" fill="#000" opacity="0.82"/>
<circle cx="381.46" cy="283.45" r="0.55" fill="#000" opacity="0.83"/>
<circle cx="384.62" cy="283.27" r="0.55" fill="#000" opacity="0.90"/>
<circle cx="382.69" cy="284.34" r="0.55" fill="#000" opacity="0.65"/>
<circle cx="382.44" cy="283.97" r="0.55" fill="#000" opacity="0.93"/>
<circle cx="387.49" cy="282.91" r="0.55" fill="#000" opacity="0.71"/>
<circle cx="394.30" cy="283.44" r="0.55" fill="#000" opacity="0.69"/>
<circle cx="391.18" cy="282.78" r="0.55" fill="#000" opacity="0.87"/>
<circle cx="388.60" cy="283.27" r="0.55" fill="#000" opacity="0.75"/>
<circle cx="385.20" cy="281.81" r="0.55" fill="#000" opacity="0.62"/>
<circle cx="389.04" cy="281.55" r="0.55" fill="#000" opacity="0.69"/>
<circle cx="389.62" cy="282.95" r="0.55" fill="#000" opacity="0.88"/>
<circle cx="381.95" cy="283.59" r="0.55" fill="#000" opacity="0.62"/>
<circle cx="390.01" cy="282.72" r="0.55" fill="#000" opacity="0.69"/>
<circle cx="385.52" cy="282.46" r="0.55" fill="#000" opacity="0.92"/>
<circle cx="383.35" cy="282.92" r="0.55" fill="#000" opacity="0.97"/>
<circle cx="380.79" cy="283.57" r="0.55" fill="#000" opacity="0.69"/>
<circle cx="384.33" cy="283.53" r="0.55" fill="#000" opacity="0.73"/>
<circle cx="387.51" cy="283.56" r="0.55" fill="#000" opacity="0.77"/>
<circle cx="387.30" cy="282.69" r="0.55" fill="#000" opacity="0.92"/>
<circle cx="385.56" cy="282.68" r="0.55" fill="#000" opacity="0.65"/>
<circle cx="381.59" cy="283.34" r="0.55" fill="#000" opacity="0.82"/>
<circle cx="381.95" cy="283.30" r="0.55" fill="#000" opacity="0.88"/>
<circle cx="386.50" cy="282.58" r="0.55" fill="#000" opacity="0.93"/>
<circle cx="385.38" cy="283.35" r="0.55" fill="#000" opacity="0.67"/>
<circle cx="433.76" cy="275.00" r="0.6" fill="#000" opacity="0.80"/>
<circle cx="433.92" cy="276.86" r="0.6" fill="#000" opacity="0.80"/>
<circle cx="437.71" cy="272.40" r="0.6" fill="#000" opacity="0.86"/>
<circle cx="439.83" cy="273.94" r="0.6" fill="#000" opacity="0.84"/>
<circle cx="442.33" cy="274.48" r="0.6" fill="#000" opacity="0.66"/>
<circle cx="434.21" cy="275.44" r="0.6" fill="#000" opacity="0.56"/>
<circle cx="436.35" cy="271.12" r="0.6" fill="#000" opacity="0.88"/>
<circle cx="429.42" cy="277.23" r="0.6" fill="#000" opacity="0.86"/>
<circle cx="440.48" cy="271.99" r="0.6" fill="#000" opacity="0.54"/>
<circle cx="438.77" cy="272.18" r="0.6" fill="#000" opacity="0.87"/>
<circle cx="438.99" cy="271.79" r="0.6" fill="#000" opacity="0.74"/>
<circle cx="442.89" cy="270.67" r="0.6" fill="#000" opacity="0.79"/>
<circle cx="441.25" cy="270.11" r="0.6" fill="#000" opacity="0.89"/>
<circle cx="438.71" cy="277.00" r="0.6" fill="#000" opacity="0.90"/>
<circle cx="438.88" cy="274.28" r="0.6" fill="#000" opacity="0.80"/>
<circle cx="438.62" cy="272.56" r="0.6" fill="#000" opacity="0.88"/>
<circle cx="434.27" cy="271.44" r="0.6" fill="#000" opacity="0.71"/>
<circle cx="433.78" cy="275.64" r="0.6" fill="#000" opacity="0.78"/>
<circle cx="436.04" cy="274.44" r="0.6" fill="#000" opacity="0.94"/>
<circle cx="429.51" cy="273.79" r="0.6" fill="#000" opacity="0.66"/>
<circle cx="431.90" cy="277.77" r="0.6" fill="#000" opacity="0.63"/>
<circle cx="432.03" cy="279.32" r="0.6" fill="#000" opacity="0.92"/>
<circle cx="433.43" cy="274.35" r="0.6" fill="#000" opacity="0.92"/>
<circle cx="440.24" cy="273.64" r="0.6" fill="#000" opacity="0.80"/>
<circle cx="436.34" cy="273.12" r="0.6" fill="#000" opacity="0.87"/>
<circle cx="432.64" cy="274.75" r="0.6" fill="#000" opacity="0.74"/>
<circle cx="435.25" cy="273.62" r="0.6" fill="#000" opacity="0.91"/>
<circle cx="442.31" cy="268.27" r="0.6" fill="#000" opacity="0.65"/>
<circle cx="435.10" cy="276.20" r="0.6" fill="#000" opacity="0.69"/>
<circle cx="434.03" cy="275.75" r="0.6" fill="#000" opacity="0.87"/>
<circle cx="437.90" cy="274.47" r="0.6" fill="#000" opacity="0.62"/>
<circle cx="433.78" cy="277.48" r="0.6" fill="#000" opacity="0.65"/>
<circle cx="443.27" cy="270.52" r="0.6" fill="#000" opacity="0.81"/>
<circle cx="442.66" cy="270.42" r="0.6" fill="#000" opacity="0.53"/>
<circle cx="440.54" cy="270.95" r="0.6" fill="#000" opacity="0.79"/>
<circle cx="442.80" cy="272.52" r="0.6" fill="#000" opacity="0.76"/>
<circle cx="438.16" cy="275.44" r="0.6" fill="#000" opacity="0.86"/>
<circle cx="443.43" cy="274.93" r="0.6" fill="#000" opacity="0.75"/>
<circle cx="437.22" cy="274.01" r="0.6" fill="#000" opacity="0.84"/>
<circle cx="436.30" cy="270.82" r="0.6" fill="#000" opacity="0.69"/>
<circle cx="435.74" cy="276.86" r="0.6" fill="#000" opacity="0.79"/>
<circle cx="442.44" cy="272.15" r="0.6" fill="#000" opacity="0.74"/>
<circle cx="439.12" cy="273.24" r="0.6" fill="#000" opacity="0.72"/>
<circle cx="441.30" cy="270.85" r="0.6" fill="#000" opacity="0.79"/>
<circle cx="439.01" cy="273.13" r="0.6" fill="#000" opacity="0.52"/>
<circle cx="435.63" cy="269.96" r="0.6" fill="#000" opacity="0.93"/>
<circle cx="441.10" cy="272.14" r="0.6" fill="#000" opacity="0.55"/>
<circle cx="432.11" cy="277.33" r="0.6" fill="#000" opacity="0.73"/>
<circle cx="430.53" cy="279.22" r="0.6" fill="#000" opacity="0.83"/>
<circle cx="434.89" cy="274.74" r="0.6" fill="#000" opacity="0.76"/>
<circle cx="444.07" cy="272.60" r="0.6" fill="#000" opacity="0.57"/>
<circle cx="435.15" cy="273.83" r="0.6" fill="#000" opacity="0.78"/>
<circle cx="430.78" cy="277.49" r="0.6" fill="#000" opacity="0.76"/>
<circle cx="431.95" cy="276.68" r="0.6" fill="#000" opacity="0.69"/>
<circle cx="434.73" cy="276.72" r="0.6" fill="#000" opacity="0.53"/>
<circle cx="437.22" cy="274.72" r="0.6" fill="#000" opacity="0.64"/>
<circle cx="430.19" cy="274.75" r="0.6" fill="#000" opacity="0.52"/>
<circle cx="437.78" cy="275.90" r="0.6" fill="#000" opacity="0.93"/>
<circle cx="433.25" cy="277.49" r="0.6" fill="#000" opacity="0.53"/>
<circle cx="438.24" cy="269.35" r="0.6" fill="#000" opacity="0.89"/>
<circle cx="437.90" cy="270.08" r="0.6" fill="#000" opacity="0.64"/>
<circle cx="435.15" cy="275.08" r="0.6" fill="#000" opacity="0.80"/>
<circle cx="434.51" cy="274.22" r="0.6" fill="#000" opacity="0.56"/>
<circle cx="442.14" cy="270.21" r="0.6" fill="#000" opacity="0.54"/>
<circle cx="445.30" cy="267.91" r="0.6" fill="#000" opacity="0.83"/>
<circle cx="436.04" cy="273.06" r="0.6" fill="#000" opacity="0.57"/>
<circle cx="443.50" cy="271.13" r="0.6" fill="#000" opacity="0.52"/>
<circle cx="439.24" cy="275.62" r="0.6" fill="#000" opacity="0.74"/>
<circle cx="439.09" cy="273.30" r="0.6" fill="#000" opacity="0.68"/>
<circle cx="437.74" cy="270.45" r="0.6" fill="#000" opacity="0.84"/>
<circle cx="440.85" cy="273.24" r="0.6" fill="#000" opacity="0.94"/>
<circle cx="437.84" cy="271.72" r="0.6" fill="#000" opacity="0.75"/>
<circle cx="433.44" cy="276.88" r="0.6" fill="#000" opacity="0.75"/>
<circle cx="434.73" cy="272.25" r="0.6" fill="#000" opacity="0.71"/>
<circle cx="434.32" cy="275.81" r="0.6" fill="#000" opacity="0.65"/>
<circle cx="434.17" cy="273.07" r="0.6" fill="#000" opacity="0.77"/>
<circle cx="434.43" cy="274.08" r="0.6" fill="#000" opacity="0.94"/>
<circle cx="438.86" cy="268.61" r="0.6" fill="#000" opacity="0.91"/>
<circle cx="435.34" cy="275.41" r="0.6" fill="#000" opacity="0.54"/>
<circle cx="434.59" cy="275.65" r="0.6" fill="#000" opacity="0.80"/>
<circle cx="441.84" cy="271.22" r="0.5" fill="#222" opacity="0.63"/>
<circle cx="432.04" cy="275.43" r="0.5" fill="#222" opacity="0.64"/>
<circle cx="435.94" cy="278.56" r="0.5" fill="#222" opacity="0.77"/>
<circle cx="446.28" cy="268.47" r="0.5" fill="#222" opacity="0.38"/>
<circle cx="437.22" cy="272.71" r="0.5" fill="#222" opacity="0.40"/>
<circle cx="443.02" cy="275.72" r="0.5" fill="#222" opacity="0.56"/>
<circle cx="444.37" cy="269.79" r="0.5" fill="#222" opacity="0.58"/>
<circle cx="435.66" cy="268.22" r="0.5" fill="#222" opacity="0.37"/>
<circle cx="442.19" cy="272.98" r="0.5" fill="#222" opacity="0.79"/>
<circle cx="439.12" cy="277.14" r="0.5" fill="#222" opacity="0.58"/>
<circle cx="442.94" cy="267.84" r="0.5" fill="#222" opacity="0.39"/>
<circle cx="436.89" cy="269.76" r="0.5" fill="#222" opacity="0.69"/>
<circle cx="431.68" cy="276.53" r="0.5" fill="#222" opacity="0.47"/>
<circle cx="432.71" cy="268.78" r="0.5" fill="#222" opacity="0.41"/>
<circle cx="436.31" cy="272.10" r="0.5" fill="#222" opacity="0.61"/>
<circle cx="432.98" cy="275.95" r="0.5" fill="#222" opacity="0.58"/>
<circle cx="435.12" cy="271.50" r="0.5" fill="#222" opacity="0.36"/>
<circle cx="439.61" cy="275.04" r="0.5" fill="#222" opacity="0.51"/>
<circle cx="436.34" cy="274.52" r="0.5" fill="#222" opacity="0.75"/>
<circle cx="439.94" cy="271.33" r="0.5" fill="#222" opacity="0.57"/>
<circle cx="434.30" cy="272.87" r="0.5" fill="#222" opacity="0.62"/>
<circle cx="439.32" cy="269.42" r="0.5" fill="#222" opacity="0.31"/>
<circle cx="434.72" cy="272.49" r="0.5" fill="#222" opacity="0.51"/>
<circle cx="424.78" cy="279.49" r="0.5" fill="#222" opacity="0.44"/>
<circle cx="435.27" cy="275.78" r="0.5" fill="#222" opacity="0.66"/>
<circle cx="441.08" cy="271.87" r="0.5" fill="#222" opacity="0.78"/>
<circle cx="442.09" cy="275.95" r="0.5" fill="#222" opacity="0.47"/>
<circle cx="431.78" cy="275.98" r="0.5" fill="#222" opacity="0.78"/>
<circle cx="436.28" cy="265.75" r="0.5" fill="#222" opacity="0.62"/>
<circle cx="435.20" cy="274.18" r="0.5" fill="#222" opacity="0.40"/>
<circle cx="427.17" cy="281.51" r="0.5" fill="#222" opacity="0.31"/>
<circle cx="432.18" cy="284.21" r="0.5" fill="#222" opacity="0.51"/>
<circle cx="437.21" cy="265.35" r="0.5" fill="#222" opacity="0.54"/>
<circle cx="433.02" cy="274.27" r="0.5" fill="#222" opacity="0.54"/>
<circle cx="439.76" cy="276.03" r="0.5" fill="#222" opacity="0.44"/>
<circle cx="443.08" cy="278.33" r="0.5" fill="#222" opacity="0.36"/>
<circle cx="433.49" cy="278.65" r="0.5" fill="#222" opacity="0.31"/>
<circle cx="435.03" cy="272.73" r="0.5" fill="#222" opacity="0.36"/>
<circle cx="438.94" cy="270.36" r="0.5" fill="#222" opacity="0.70"/>
<circle cx="439.99" cy="270.30" r="0.5" fill="#222" opacity="0.66"/>
<circle cx="439.76" cy="266.98" r="0.5" fill="#222" opacity="0.62"/>
<circle cx="431.36" cy="268.97" r="0.5" fill="#222" opacity="0.73"/>
<circle cx="430.20" cy="273.17" r="0.5" fill="#222" opacity="0.37"/>
<circle cx="437.22" cy="271.53" r="0.5" fill="#222" opacity="0.45"/>
<circle cx="426.19" cy="281.69" r="0.5" fill="#222" opacity="0.52"/>
<circle cx="430.09" cy="274.57" r="0.5" fill="#222" opacity="0.58"/>
<circle cx="426.74" cy="276.47" r="0.5" fill="#222" opacity="0.70"/>
<circle cx="433.48" cy="274.68" r="0.5" fill="#222" opacity="0.60"/>
<circle cx="437.52" cy="277.09" r="0.5" fill="#222" opacity="0.68"/>
<circle cx="431.64" cy="279.12" r="0.5" fill="#222" opacity="0.49"/>
<circle cx="436.28" cy="276.84" r="0.5" fill="#222" opacity="0.70"/>
<circle cx="441.15" cy="263.97" r="0.5" fill="#222" opacity="0.49"/>
<circle cx="444.49" cy="271.89" r="0.5" fill="#222" opacity="0.36"/>
<circle cx="428.02" cy="276.97" r="0.5" fill="#222" opacity="0.45"/>
<circle cx="432.80" cy="272.78" r="0.5" fill="#222" opacity="0.34"/>
<circle cx="445.89" cy="271.68" r="0.5" fill="#222" opacity="0.52"/>
<circle cx="429.51" cy="273.25" r="0.5" fill="#222" opacity="0.48"/>
<circle cx="427.36" cy="282.89" r="0.5" fill="#222" opacity="0.45"/>
<circle cx="442.31" cy="274.19" r="0.5" fill="#222" opacity="0.69"/>
<circle cx="441.63" cy="273.07" r="0.5" fill="#222" opacity="0.61"/>
<circle cx="438.52" cy="271.41" r="0.5" fill="#222" opacity="0.44"/>
<circle cx="426.72" cy="278.58" r="0.5" fill="#222" opacity="0.74"/>
<circle cx="428.43" cy="280.45" r="0.5" fill="#222" opacity="0.50"/>
<circle cx="443.73" cy="276.07" r="0.5" fill="#222" opacity="0.44"/>
<circle cx="433.21" cy="276.54" r="0.5" fill="#222" opacity="0.43"/>
<circle cx="429.76" cy="272.00" r="0.5" fill="#222" opacity="0.67"/>
<circle cx="434.28" cy="276.00" r="0.5" fill="#222" opacity="0.53"/>
<circle cx="445.87" cy="266.97" r="0.5" fill="#222" opacity="0.73"/>
<circle cx="439.37" cy="276.16" r="0.5" fill="#222" opacity="0.74"/>
<circle cx="447.20" cy="272.67" r="0.5" fill="#222" opacity="0.39"/>
<circle cx="438.51" cy="269.38" r="0.5" fill="#222" opacity="0.54"/>
<circle cx="435.98" cy="275.93" r="0.5" fill="#222" opacity="0.49"/>
<circle cx="437.49" cy="275.77" r="0.5" fill="#222" opacity="0.66"/>
<circle cx="434.92" cy="276.89" r="0.5" fill="#222" opacity="0.41"/>
<circle cx="437.26" cy="276.10" r="0.5" fill="#222" opacity="0.73"/>
<circle cx="441.10" cy="270.42" r="0.5" fill="#222" opacity="0.44"/>
<circle cx="442.17" cy="272.01" r="0.5" fill="#222" opacity="0.51"/>
<circle cx="435.64" cy="272.96" r="0.5" fill="#222" opacity="0.36"/>
<circle cx="444.61" cy="266.52" r="0.5" fill="#222" opacity="0.64"/>
<circle cx="444.07" cy="272.12" r="0.5" fill="#222" opacity="0.67"/>
<circle cx="431.96" cy="276.85" r="0.5" fill="#222" opacity="0.31"/>
<circle cx="433.98" cy="278.15" r="0.5" fill="#222" opacity="0.80"/>
<circle cx="429.67" cy="276.98" r="0.5" fill="#222" opacity="0.73"/>
<circle cx="434.76" cy="274.39" r="0.5" fill="#222" opacity="0.69"/>
<circle cx="424.91" cy="279.22" r="0.5" fill="#222" opacity="0.50"/>
<circle cx="445.24" cy="274.02" r="0.5" fill="#222" opacity="0.45"/>
<circle cx="436.18" cy="267.69" r="0.5" fill="#222" opacity="0.65"/>
<circle cx="435.86" cy="277.53" r="0.5" fill="#222" opacity="0.40"/>
<circle cx="439.20" cy="270.40" r="0.5" fill="#222" opacity="0.30"/>
<circle cx="443.07" cy="269.30" r="0.5" fill="#222" opacity="0.61"/>
<circle cx="492.23" cy="282.28" r="0.6" fill="#000" opacity="0.83"/>
<circle cx="495.72" cy="281.77" r="0.6" fill="#000" opacity="0.93"/>
<circle cx="494.01" cy="282.42" r="0.6" fill="#000" opacity="0.78"/>
<circle cx="490.26" cy="282.46" r="0.6" fill="#000" opacity="0.71"/>
<circle cx="489.31" cy="281.77" r="0.6" fill="#000" opacity="0.94"/>
<circle cx="488.48" cy="282.35" r="0.6" fill="#000" opacity="0.84"/>
<circle cx="485.51" cy="282.64" r="0.6" fill="#000" opacity="0.97"/>
<circle cx="488.01" cy="281.79" r="0.6" fill="#000" opacity="0.91"/>
<circle cx="483.08" cy="282.02" r="0.6" fill="#000" opacity="0.71"/>
<circle cx="482.13" cy="282.27" r="0.6" fill="#000" opacity="0.91"/>
<circle cx="488.70" cy="282.78" r="0.6" fill="#000" opacity="0.98"/>
<circle cx="494.32" cy="280.60" r="0.6" fill="#000" opacity="0.74"/>
<circle cx="487.07" cy="281.53" r="0.6" fill="#000" opacity="0.84"/>
<circle cx="492.95" cy="280.59" r="0.6" fill="#000" opacity="0.91"/>
<circle cx="495.03" cy="281.85" r="0.6" fill="#000" opacity="0.90"/>
<circle cx="487.22" cy="283.12" r="0.6" fill="#000" opacity="0.73"/>
<circle cx="483.77" cy="283.40" r="0.6" fill="#000" opacity="1.00"/>
<circle cx="488.58" cy="281.59" r="0.6" fill="#000" opacity="0.91"/>
<circle cx="488.92" cy="282.33" r="0.6" fill="#000" opacity="0.90"/>
<circle cx="487.89" cy="280.18" r="0.6" fill="#000" opacity="0.85"/>
<circle cx="487.48" cy="283.07" r="0.6" fill="#000" opacity="0.76"/>
<circle cx="494.21" cy="282.37" r="0.6" fill="#000" opacity="0.76"/>
<circle cx="492.76" cy="283.31" r="0.6" fill="#000" opacity="0.90"/>
<circle cx="488.44" cy="281.16" r="0.6" fill="#000" opacity="0.83"/>
<circle cx="487.15" cy="281.48" r="0.6" fill="#000" opacity="0.84"/>
<circle cx="494.11" cy="282.02" r="0.6" fill="#000" opacity="0.94"/>
<circle cx="492.76" cy="282.40" r="0.6" fill="#000" opacity="0.92"/>
<circle cx="489.83" cy="282.95" r="0.6" fill="#000" opacity="0.91"/>
<circle cx="489.66" cy="280.15" r="0.6" fill="#000" opacity="0.98"/>
<circle cx="491.21" cy="281.86" r="0.6" fill="#000" opacity="0.88"/>
<circle cx="489.76" cy="282.80" r="0.6" fill="#000" opacity="0.71"/>
<circle cx="490.52" cy="280.03" r="0.6" fill="#000" opacity="0.94"/>
<circle cx="483.17" cy="282.88" r="0.6" fill="#000" opacity="0.97"/>
<circle cx="493.51" cy="281.15" r="0.6" fill="#000" opacity="0.78"/>
<circle cx="488.82" cy="281.78" r="0.6" fill="#000" opacity="0.86"/>
<circle cx="488.39" cy="281.79" r="0.6" fill="#000" opacity="0.79"/>
<circle cx="483.68" cy="282.23" r="0.6" fill="#000" opacity="0.79"/>
<circle cx="493.45" cy="282.85" r="0.6" fill="#000" opacity="0.89"/>
<circle cx="490.55" cy="282.41" r="0.6" fill="#000" opacity="0.82"/>
<circle cx="489.77" cy="282.53" r="0.6" fill="#000" opacity="0.76"/>
<circle cx="493.39" cy="282.06" r="0.6" fill="#000" opacity="0.71"/>
<circle cx="491.95" cy="280.62" r="0.6" fill="#000" opacity="0.85"/>
<circle cx="491.36" cy="282.03" r="0.6" fill="#000" opacity="1.00"/>
<circle cx="492.94" cy="283.80" r="0.6" fill="#000" opacity="0.79"/>
<circle cx="492.44" cy="283.15" r="0.6" fill="#000" opacity="0.90"/>
<circle cx="495.16" cy="280.62" r="0.6" fill="#000" opacity="0.85"/>
<circle cx="490.04" cy="281.28" r="0.6" fill="#000" opacity="0.92"/>
<circle cx="493.16" cy="282.06" r="0.6" fill="#000" opacity="0.89"/>
<circle cx="488.05" cy="281.35" r="0.6" fill="#000" opacity="0.81"/>
<circle cx="491.03" cy="282.60" r="0.6" fill="#000" opacity="0.95"/>
<circle cx="485.01" cy="282.27" r="0.6" fill="#000" opacity="0.85"/>
<circle cx="487.84" cy="283.38" r="0.6" fill="#000" opacity="0.90"/>
<circle cx="489.11" cy="282.09" r="0.6" fill="#000" opacity="0.99"/>
<circle cx="490.93" cy="281.38" r="0.6" fill="#000" opacity="0.92"/>
<circle cx="489.30" cy="282.81" r="0.6" fill="#000" opacity="0.77"/>
<circle cx="490.61" cy="282.31" r="0.6" fill="#000" opacity="0.74"/>
<circle cx="489.08" cy="281.91" r="0.6" fill="#000" opacity="0.86"/>
<circle cx="488.17" cy="281.81" r="0.6" fill="#000" opacity="0.99"/>
<circle cx="488.27" cy="283.36" r="0.6" fill="#000" opacity="0.97"/>
<circle cx="491.67" cy="282.06" r="0.6" fill="#000" opacity="0.84"/>
<circle cx="491.90" cy="282.52" r="0.6" fill="#000" opacity="0.82"/>
<circle cx="491.60" cy="281.96" r="0.6" fill="#000" opacity="0.74"/>
<circle cx="487.78" cy="282.34" r="0.6" fill="#000" opacity="0.99"/>
<circle cx="490.91" cy="283.18" r="0.6" fill="#000" opacity="0.87"/>
<circle cx="490.99" cy="282.29" r="0.6" fill="#000" opacity="1.00"/>
<circle cx="491.49" cy="282.17" r="0.6" fill="#000" opacity="0.99"/>
<circle cx="493.03" cy="281.20" r="0.6" fill="#000" opacity="0.76"/>
<circle cx="480.21" cy="282.74" r="0.6" fill="#000" opacity="0.81"/>
<circle cx="486.23" cy="280.93" r="0.6" fill="#000" opacity="0.75"/>
<circle cx="487.04" cy="281.49" r="0.6" fill="#000" opacity="0.95"/>
<circle cx="497.13" cy="283.22" r="0.6" fill="#000" opacity="0.83"/>
<circle cx="492.35" cy="282.42" r="0.6" fill="#000" opacity="0.77"/>
<circle cx="487.59" cy="283.58" r="0.6" fill="#000" opacity="0.94"/>
<circle cx="492.61" cy="283.16" r="0.6" fill="#000" opacity="0.93"/>
<circle cx="488.85" cy="282.10" r="0.6" fill="#000" opacity="0.89"/>
<circle cx="489.46" cy="281.79" r="0.6" fill="#000" opacity="0.75"/>
<circle cx="486.73" cy="282.70" r="0.6" fill="#000" opacity="0.79"/>
<circle cx="489.27" cy="282.33" r="0.6" fill="#000" opacity="0.89"/>
<circle cx="482.74" cy="285.07" r="0.6" fill="#000" opacity="0.74"/>
<circle cx="487.35" cy="282.01" r="0.6" fill="#000" opacity="0.76"/>
<circle cx="486.58" cy="270.31" r="0.5" fill="#111" opacity="0.64"/>
<circle cx="494.70" cy="274.04" r="0.5" fill="#111" opacity="0.89"/>
<circle cx="491.17" cy="277.86" r="0.5" fill="#111" opacity="0.56"/>
<circle cx="483.67" cy="276.65" r="0.5" fill="#111" opacity="0.73"/>
<circle cx="485.93" cy="278.53" r="0.5" fill="#111" opacity="0.70"/>
<circle cx="494.36" cy="281.22" r="0.5" fill="#111" opacity="0.48"/>
<circle cx="492.05" cy="272.06" r="0.5" fill="#111" opacity="0.57"/>
<circle cx="488.36" cy="278.61" r="0.5" fill="#111" opacity="0.61"/>
<circle cx="496.49" cy="274.92" r="0.5" fill="#111" opacity="0.81"/>
<circle cx="484.13" cy="278.48" r="0.5" fill="#111" opacity="0.55"/>
<circle cx="491.35" cy="282.35" r="0.5" fill="#111" opacity="0.53"/>
<circle cx="487.91" cy="275.43" r="0.5" fill="#111" opacity="0.50"/>
<circle cx="489.52" cy="274.72" r="0.5" fill="#111" opacity="0.52"/>
<circle cx="494.85" cy="272.26" r="0.5" fill="#111" opacity="0.78"/>
<circle cx="487.60" cy="277.94" r="0.5" fill="#111" opacity="0.82"/>
<circle cx="497.16" cy="278.14" r="0.5" fill="#111" opacity="0.68"/>
<circle cx="490.67" cy="271.17" r="0.5" fill="#111" opacity="0.83"/>
<circle cx="488.93" cy="277.96" r="0.5" fill="#111" opacity="0.72"/>
<circle cx="482.95" cy="280.77" r="0.5" fill="#111" opacity="0.56"/>
<circle cx="493.15" cy="271.67" r="0.5" fill="#111" opacity="0.64"/>
<circle cx="486.02" cy="281.36" r="0.5" fill="#111" opacity="0.41"/>
<circle cx="490.84" cy="278.05" r="0.5" fill="#111" opacity="0.63"/>
<circle cx="490.44" cy="280.18" r="0.5" fill="#111" opacity="0.44"/>
<circle cx="485.22" cy="279.28" r="0.5" fill="#111" opacity="0.65"/>
<circle cx="495.39" cy="277.56" r="0.5" fill="#111" opacity="0.55"/>
<circle cx="489.03" cy="271.49" r="0.5" fill="#111" opacity="0.70"/>
<circle cx="497.44" cy="279.37" r="0.5" fill="#111" opacity="0.46"/>
<circle cx="487.47" cy="279.05" r="0.5" fill="#111" opacity="0.87"/>
<circle cx="493.20" cy="282.72" r="0.5" fill="#111" opacity="0.84"/>
<circle cx="488.08" cy="281.96" r="0.5" fill="#111" opacity="0.66"/>
<circle cx="490.46" cy="279.87" r="0.5" fill="#111" opacity="0.82"/>
<circle cx="494.52" cy="270.96" r="0.5" fill="#111" opacity="0.44"/>
<circle cx="488.91" cy="276.09" r="0.5" fill="#111" opacity="0.41"/>
<circle cx="488.97" cy="281.38" r="0.5" fill="#111" opacity="0.68"/>
<circle cx="496.47" cy="278.80" r="0.5" fill="#111" opacity="0.49"/>
<circle cx="487.10" cy="271.38" r="0.5" fill="#111" opacity="0.53"/>
<circle cx="490.34" cy="277.38" r="0.5" fill="#111" opacity="0.63"/>
<circle cx="490.92" cy="273.77" r="0.5" fill="#111" opacity="0.73"/>
<circle cx="492.96" cy="277.94" r="0.5" fill="#111" opacity="0.66"/>
<circle cx="489.44" cy="271.45" r="0.5" fill="#111" opacity="0.42"/>
<circle cx="484.38" cy="283.10" r="0.5" fill="#111" opacity="0.76"/>
<circle cx="487.23" cy="274.81" r="0.5" fill="#111" opacity="0.82"/>
<circle cx="495.00" cy="280.16" r="0.5" fill="#111" opacity="0.56"/>
<circle cx="486.41" cy="282.20" r="0.5" fill="#111" opacity="0.69"/>
<circle cx="498.24" cy="275.09" r="0.5" fill="#111" opacity="0.45"/>
<line x1="55.40" y1="334.70" x2="55.40" y2="390.10" stroke="#111" stroke-width="1.3"/>
<line x1="52.60" y1="389.60" x2="55.40" y2="389.60" stroke="#111" stroke-width="1.0"/>
<text x="48.40" y="392.00" font-size="7" text-anchor="end" font-weight="normal" fill="#222">0</text>
<line x1="52.60" y1="379.12" x2="55.40" y2="379.12" stroke="#111" stroke-width="1.0"/>
<text x="48.40" y="381.52" font-size="7" text-anchor="end" font-weight="normal" fill="#222">20</text>
<line x1="52.60" y1="368.64" x2="55.40" y2="368.64" stroke="#111" stroke-width="1.0"/>
<text x="48.40" y="371.04" font-size="7" text-anchor="end" font-weight="normal" fill="#222">40</text>
<line x1="52.60" y1="358.16" x2="55.40" y2="358.16" stroke="#111" stroke-width="1.0"/>
<text x="48.40" y="360.56" font-size="7" text-anchor="end" font-weight="normal" fill="#222">60</text>
<line x1="52.60" y1="347.68" x2="55.40" y2="347.68" stroke="#111" stroke-width="1.0"/>
<text x="48.40" y="350.08" font-size="7" text-anchor="end" font-weight="normal" fill="#222">80</text>
<line x1="52.60" y1="337.20" x2="55.40" y2="337.20" stroke="#111" stroke-width="1.0"/>
<text x="48.40" y="339.60" font-size="7" text-anchor="end" font-weight="normal" fill="#222">100</text>
<text transform="translate(31.00,362.00) rotate(-90)" font-size="8.6" text-anchor="middle" font-weight="normal" fill="#222" textLength="55.5" lengthAdjust="spacingAndGlyphs">Expression (%)</text>
<line x1="54.80" y1="389.50" x2="259.60" y2="389.50" stroke="#1a1a1a" stroke-width="1.2"/>
<rect x="59.20" y="388.87" width="6.20" height="0.63" fill="#6aa93f"/>
<line x1="71.10" y1="375.71" x2="71.10" y2="368.90" stroke="#222" stroke-width="0.9"/>
<line x1="69.70" y1="368.90" x2="72.50" y2="368.90" stroke="#222" stroke-width="1.0"/>
<rect x="68.20" y="375.71" width="5.80" height="13.79" fill="#4a1c5e"/>
<line x1="66.80" y1="389.50" x2="66.80" y2="392.40" stroke="#111" stroke-width="0.9"/>
<text transform="translate(70.80,399.20) rotate(-45)" font-size="7.3" text-anchor="end" font-weight="normal" fill="#222">CD276</text>
<rect x="81.90" y="388.87" width="6.20" height="0.63" fill="#6aa93f"/>
<line x1="93.80" y1="371.10" x2="93.80" y2="361.30" stroke="#222" stroke-width="0.9"/>
<line x1="92.40" y1="361.30" x2="95.20" y2="361.30" stroke="#222" stroke-width="1.0"/>
<rect x="90.90" y="371.10" width="5.80" height="18.40" fill="#4a1c5e"/>
<line x1="89.50" y1="389.50" x2="89.50" y2="392.40" stroke="#111" stroke-width="0.9"/>
<text transform="translate(93.50,399.20) rotate(-45)" font-size="7.3" text-anchor="end" font-weight="normal" fill="#222">TIM3</text>
<rect x="104.60" y="388.29" width="6.20" height="1.21" fill="#6aa93f"/>
<line x1="116.50" y1="375.98" x2="116.50" y2="368.12" stroke="#222" stroke-width="0.9"/>
<line x1="115.10" y1="368.12" x2="117.90" y2="368.12" stroke="#222" stroke-width="1.0"/>
<rect x="113.60" y="375.98" width="5.80" height="13.52" fill="#4a1c5e"/>
<line x1="112.20" y1="389.50" x2="112.20" y2="392.40" stroke="#111" stroke-width="0.9"/>
<text transform="translate(116.20,399.20) rotate(-45)" font-size="7.3" text-anchor="end" font-weight="normal" fill="#222">CD32</text>
<rect x="127.30" y="386.19" width="6.20" height="3.31" fill="#6aa93f"/>
<line x1="139.20" y1="366.02" x2="139.20" y2="350.30" stroke="#222" stroke-width="0.9"/>
<line x1="137.80" y1="350.30" x2="140.60" y2="350.30" stroke="#222" stroke-width="1.0"/>
<rect x="136.30" y="366.02" width="5.80" height="23.48" fill="#4a1c5e"/>
<line x1="134.90" y1="389.50" x2="134.90" y2="392.40" stroke="#111" stroke-width="0.9"/>
<text transform="translate(138.90,399.20) rotate(-45)" font-size="7.3" text-anchor="end" font-weight="normal" fill="#222">ITGB7</text>
<rect x="150.00" y="389.08" width="6.20" height="0.42" fill="#6aa93f"/>
<line x1="161.90" y1="377.29" x2="161.90" y2="375.19" stroke="#222" stroke-width="0.9"/>
<line x1="160.50" y1="375.19" x2="163.30" y2="375.19" stroke="#222" stroke-width="1.0"/>
<rect x="159.00" y="377.29" width="5.80" height="12.21" fill="#4a1c5e"/>
<line x1="157.60" y1="389.50" x2="157.60" y2="392.40" stroke="#111" stroke-width="0.9"/>
<text transform="translate(161.60,399.20) rotate(-45)" font-size="7.3" text-anchor="end" font-weight="normal" fill="#222">CD11c</text>
<rect x="172.70" y="389.29" width="6.20" height="0.21" fill="#6aa93f"/>
<line x1="184.60" y1="368.90" x2="184.60" y2="353.08" stroke="#222" stroke-width="0.9"/>
<line x1="183.20" y1="353.08" x2="186.00" y2="353.08" stroke="#222" stroke-width="1.0"/>
<rect x="181.70" y="368.90" width="5.80" height="20.60" fill="#4a1c5e"/>
<line x1="180.30" y1="389.50" x2="180.30" y2="392.40" stroke="#111" stroke-width="0.9"/>
<text transform="translate(184.30,399.20) rotate(-45)" font-size="7.3" text-anchor="end" font-weight="normal" fill="#222">CD25</text>
<rect x="195.40" y="388.03" width="6.20" height="1.47" fill="#6aa93f"/>
<line x1="207.30" y1="351.87" x2="207.30" y2="346.63" stroke="#222" stroke-width="0.9"/>
<line x1="205.90" y1="346.63" x2="208.70" y2="346.63" stroke="#222" stroke-width="1.0"/>
<rect x="204.40" y="351.87" width="5.80" height="37.63" fill="#4a1c5e"/>
<line x1="203.00" y1="389.50" x2="203.00" y2="392.40" stroke="#111" stroke-width="0.9"/>
<text transform="translate(207.00,399.20) rotate(-45)" font-size="7.3" text-anchor="end" font-weight="normal" fill="#222">CD26</text>
<rect x="218.10" y="385.93" width="6.20" height="3.57" fill="#6aa93f"/>
<line x1="230.00" y1="339.82" x2="230.00" y2="335.37" stroke="#222" stroke-width="0.9"/>
<line x1="228.60" y1="335.37" x2="231.40" y2="335.37" stroke="#222" stroke-width="1.0"/>
<rect x="227.10" y="339.82" width="5.80" height="49.68" fill="#4a1c5e"/>
<line x1="225.70" y1="389.50" x2="225.70" y2="392.40" stroke="#111" stroke-width="0.9"/>
<text transform="translate(229.70,399.20) rotate(-45)" font-size="7.3" text-anchor="end" font-weight="normal" fill="#222">IL1RAP</text>
<rect x="240.80" y="352.92" width="6.20" height="36.58" fill="#6aa93f"/>
<line x1="252.70" y1="367.59" x2="252.70" y2="356.59" stroke="#222" stroke-width="0.9"/>
<line x1="251.30" y1="356.59" x2="254.10" y2="356.59" stroke="#222" stroke-width="1.0"/>
<rect x="249.80" y="367.59" width="5.80" height="21.91" fill="#4a1c5e"/>
<line x1="248.40" y1="389.50" x2="248.40" y2="392.40" stroke="#111" stroke-width="0.9"/>
<text transform="translate(252.40,399.20) rotate(-45)" font-size="7.3" text-anchor="end" font-weight="normal" fill="#222">cKIT</text>
<rect x="259.80" y="338.40" width="7.30" height="2.50" fill="#6aa93f"/>
<rect x="259.80" y="347.40" width="7.30" height="2.50" fill="#4a1c5e"/>
<text x="269.60" y="341.90" font-size="6.9" text-anchor="start" font-weight="normal" fill="#333">nBM</text>
<text x="269.60" y="351.00" font-size="6.9" text-anchor="start" font-weight="normal" fill="#333">CML Dx</text>
<rect x="0" y="0" width="520" height="1" fill="#000"/>
<rect x="0" y="1" width="520" height="1" fill="#000" opacity="0.4"/>
<rect x="0" y="0" width="1" height="426" fill="#000"/>
<rect x="1" y="0" width="1" height="426" fill="#000" opacity="0.45"/>
<rect x="519" y="0" width="1" height="426" fill="#000"/>
<rect x="518" y="0" width="1" height="426" fill="#000" opacity="0.65"/>
<rect x="0" y="425" width="520" height="1" fill="#000"/>
<rect x="0" y="424" width="520" height="1" fill="#000" opacity="0.6"/>
</svg>
</body></html>
